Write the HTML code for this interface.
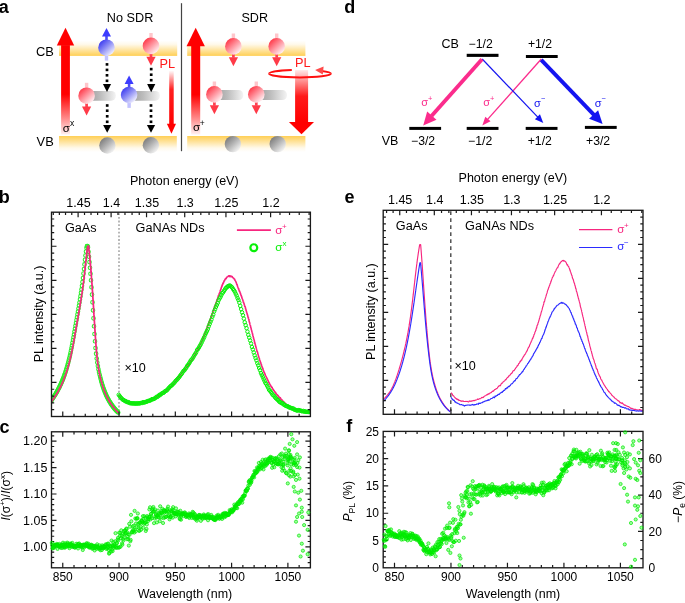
<!DOCTYPE html>
<html><head><meta charset="utf-8"><style>
html,body{margin:0;padding:0;background:#fff;}
body{width:685px;height:603px;overflow:hidden;font-family:"Liberation Sans",sans-serif;}
svg{display:block;will-change:transform;}
</style></head><body>
<svg width="685" height="603" viewBox="0 0 685 603" font-family="'Liberation Sans', sans-serif">
<defs>
<linearGradient id="gCB" x1="0" y1="0" x2="0" y2="1"><stop offset="0" stop-color="#ffcf55" stop-opacity="0"/><stop offset="0.25" stop-color="#ffcf55" stop-opacity="0.12"/><stop offset="1" stop-color="#ffcf55" stop-opacity="1"/></linearGradient>
<linearGradient id="gVB" x1="0" y1="0" x2="0" y2="1"><stop offset="0" stop-color="#ffcf55" stop-opacity="1"/><stop offset="0.75" stop-color="#ffcf55" stop-opacity="0.12"/><stop offset="1" stop-color="#ffcf55" stop-opacity="0"/></linearGradient>
<linearGradient id="gBlue" x1="0.1" y1="0.1" x2="0.85" y2="0.9"><stop offset="0" stop-color="#3434f0"/><stop offset="0.45" stop-color="#8888f4"/><stop offset="1" stop-color="#f6f6ff"/></linearGradient>
<linearGradient id="gRed" x1="0.1" y1="0.1" x2="0.85" y2="0.9"><stop offset="0" stop-color="#ff3040"/><stop offset="0.45" stop-color="#ff8a95"/><stop offset="1" stop-color="#fff6f8"/></linearGradient>
<linearGradient id="gGray" x1="0.1" y1="0.1" x2="0.85" y2="0.9"><stop offset="0" stop-color="#787878"/><stop offset="0.45" stop-color="#aeaeae"/><stop offset="1" stop-color="#f6f6f6"/></linearGradient>
<linearGradient id="gBar" x1="0" y1="0" x2="1" y2="0"><stop offset="0" stop-color="#9c9c9c"/><stop offset="0.45" stop-color="#bdbdbd"/><stop offset="1" stop-color="#f4f4f4"/></linearGradient>
<linearGradient id="gShaft" x1="0" y1="0" x2="0" y2="1"><stop offset="0" stop-color="#ff0000"/><stop offset="0.55" stop-color="#ff0000"/><stop offset="0.8" stop-color="#ff8080"/><stop offset="1" stop-color="#fff0f0"/></linearGradient>
<linearGradient id="gPL" x1="0" y1="0" x2="0" y2="1"><stop offset="0" stop-color="#ffffff"/><stop offset="0.35" stop-color="#ff2020"/><stop offset="1" stop-color="#ff0000"/></linearGradient>
<linearGradient id="gPL2" x1="0" y1="0" x2="0" y2="1"><stop offset="0" stop-color="#ffe8e8"/><stop offset="0.5" stop-color="#ff1a1a"/><stop offset="1" stop-color="#ff0000"/></linearGradient>

<clipPath id="clipB"><rect x="51.5" y="212.2" width="258.9" height="204.3"/></clipPath>
<clipPath id="clipE"><rect x="383.2" y="210.3" width="259.8" height="204.0"/></clipPath>
<clipPath id="clipC"><rect x="51.5" y="431.8" width="258.9" height="136.0"/></clipPath>
<clipPath id="clipF"><rect x="383.2" y="431.4" width="259.8" height="136.4"/></clipPath>
</defs>
<rect width="685" height="603" fill="#fff"/>
<text x="-1.20" y="12.90" font-size="18" text-anchor="start" font-weight="bold">a</text>
<text x="130.10" y="21.60" font-size="12" text-anchor="middle" textLength="46.43" lengthAdjust="spacingAndGlyphs">No SDR</text>
<text x="254.70" y="21.60" font-size="12" text-anchor="middle" textLength="26.60" lengthAdjust="spacingAndGlyphs">SDR</text>
<text x="44.90" y="55.80" font-size="12.5" text-anchor="middle" textLength="17.89" lengthAdjust="spacingAndGlyphs">CB</text>
<text x="45.20" y="145.80" font-size="12.5" text-anchor="middle" textLength="17.18" lengthAdjust="spacingAndGlyphs">VB</text>
<line x1="181.5" y1="3.2" x2="181.5" y2="151.2" stroke="#444" stroke-width="1.2"/>
<rect x="59" y="40.5" width="118.2" height="15.4" fill="url(#gCB)"/>
<rect x="187.2" y="40.5" width="118.2" height="15.4" fill="url(#gCB)"/>
<rect x="59" y="136" width="117.8" height="16" fill="url(#gVB)"/>
<rect x="187.2" y="136" width="118.2" height="16" fill="url(#gVB)"/>
<rect x="61.10" y="45.10" width="8.8" height="89.40" fill="url(#gShaft)"/><path d="M65.50,27.70 L74.20,45.60 L56.80,45.60Z" fill="#ff0000"/>
<rect x="191.20" y="45.80" width="9.0" height="88.70" fill="url(#gShaft)"/><path d="M195.70,27.80 L204.90,46.30 L186.50,46.30Z" fill="#ff0000"/>
<text x="66.20" y="131.70" font-size="11.5" text-anchor="middle">σ</text>
<text x="72.20" y="126.20" font-size="8.5" text-anchor="middle">x</text>
<text x="196.50" y="131.20" font-size="11.5" text-anchor="middle">σ</text>
<text x="202.20" y="126.00" font-size="8.5" text-anchor="middle">+</text>
<rect x="88.00" y="90.90" width="27.90" height="9.80" rx="4.6" ry="4.9" fill="url(#gBar)"/>
<rect x="130.00" y="90.90" width="29.90" height="9.80" rx="4.6" ry="4.9" fill="url(#gBar)"/>
<rect x="215.00" y="90.10" width="28.30" height="10.00" rx="4.6" ry="4.9" fill="url(#gBar)"/>
<rect x="257.00" y="90.10" width="30.00" height="10.00" rx="4.6" ry="4.9" fill="url(#gBar)"/>
<circle cx="107.40" cy="145.50" r="8.2" fill="url(#gGray)"/>
<circle cx="150.90" cy="145.30" r="8.2" fill="url(#gGray)"/>
<circle cx="232.90" cy="144.10" r="8.2" fill="url(#gGray)"/>
<circle cx="277.70" cy="144.10" r="8.2" fill="url(#gGray)"/>
<g fill="#000"><rect x="105.65" y="63.10" width="2.7" height="2.6"/><rect x="105.65" y="68.60" width="2.7" height="2.6"/><rect x="105.65" y="74.00" width="2.7" height="2.6"/><rect x="105.65" y="79.50" width="2.7" height="2.6"/><path d="M102.90,84.10 L111.10,84.10 L107.00,91.90Z"/></g>
<g fill="#000"><rect x="149.85" y="67.80" width="2.7" height="2.6"/><rect x="149.85" y="73.40" width="2.7" height="2.6"/><rect x="149.85" y="78.90" width="2.7" height="2.6"/><path d="M147.10,84.10 L155.30,84.10 L151.20,92.30Z"/></g>
<g fill="#000"><rect x="105.85" y="104.20" width="2.7" height="2.6"/><rect x="105.85" y="109.40" width="2.7" height="2.6"/><rect x="105.85" y="115.00" width="2.7" height="2.6"/><rect x="105.85" y="120.50" width="2.7" height="2.6"/><path d="M103.10,125.10 L111.30,125.10 L107.20,132.70Z"/></g>
<g fill="#000"><rect x="149.65" y="104.20" width="2.7" height="2.6"/><rect x="149.65" y="109.40" width="2.7" height="2.6"/><rect x="149.65" y="115.00" width="2.7" height="2.6"/><rect x="149.65" y="120.50" width="2.7" height="2.6"/><path d="M146.90,125.10 L155.10,125.10 L151.00,132.70Z"/></g>
<rect x="104.80" y="55.00" width="3.4" height="5.6" fill="#c2c2ff"/><rect x="105.20" y="35.90" width="2.6" height="4.5" fill="#4b4bf5"/><circle cx="106.50" cy="47.70" r="8.3" fill="url(#gBlue)"/><path d="M106.50,28.10 L111.00,36.60 L102.00,36.60Z" fill="#3c3cff"/>
<rect x="149.30" y="33.00" width="3.4" height="5.6" fill="#ffc6cb"/><rect x="149.65" y="53.20" width="2.7" height="4" fill="#ff4050"/><circle cx="151.00" cy="45.90" r="8.3" fill="url(#gRed)"/><path d="M146.40,56.80 L155.60,56.80 L151.00,65.80Z" fill="#ff3a48"/>
<rect x="84.90" y="82.80" width="3.4" height="5.6" fill="#ffc6cb"/><rect x="85.25" y="103.00" width="2.7" height="4" fill="#ff4050"/><circle cx="86.60" cy="95.70" r="8.3" fill="url(#gRed)"/><path d="M82.00,106.60 L91.20,106.60 L86.60,115.60Z" fill="#ff3a48"/>
<rect x="127.40" y="102.30" width="3.4" height="5.6" fill="#c2c2ff"/><rect x="127.80" y="83.20" width="2.6" height="4.5" fill="#4b4bf5"/><circle cx="129.10" cy="95.00" r="8.3" fill="url(#gBlue)"/><path d="M129.10,75.40 L133.60,83.90 L124.60,83.90Z" fill="#3c3cff"/>
<rect x="231.70" y="33.50" width="3.4" height="5.6" fill="#ffc6cb"/><rect x="232.05" y="53.70" width="2.7" height="4" fill="#ff4050"/><circle cx="233.40" cy="46.40" r="8.3" fill="url(#gRed)"/><path d="M228.80,57.30 L238.00,57.30 L233.40,66.30Z" fill="#ff3a48"/>
<rect x="275.00" y="33.50" width="3.4" height="5.6" fill="#ffc6cb"/><rect x="275.35" y="53.70" width="2.7" height="4" fill="#ff4050"/><circle cx="276.70" cy="46.40" r="8.3" fill="url(#gRed)"/><path d="M272.10,57.30 L281.30,57.30 L276.70,66.30Z" fill="#ff3a48"/>
<rect x="212.70" y="81.50" width="3.4" height="5.6" fill="#ffc6cb"/><rect x="213.05" y="101.70" width="2.7" height="4" fill="#ff4050"/><circle cx="214.40" cy="94.40" r="8.3" fill="url(#gRed)"/><path d="M209.80,105.30 L219.00,105.30 L214.40,114.30Z" fill="#ff3a48"/>
<rect x="254.60" y="81.50" width="3.4" height="5.6" fill="#ffc6cb"/><rect x="254.95" y="101.70" width="2.7" height="4" fill="#ff4050"/><circle cx="256.30" cy="94.40" r="8.3" fill="url(#gRed)"/><path d="M251.70,105.30 L260.90,105.30 L256.30,114.30Z" fill="#ff3a48"/>
<text x="167.40" y="67.90" font-size="12" text-anchor="middle" fill="#ff1a1a" textLength="15.56" lengthAdjust="spacingAndGlyphs">PL</text>
<rect x="169.2" y="70.4" width="4.5" height="54" fill="url(#gPL)"/>
<path d="M166.9,123.8 L176.0,123.8 L171.45,133.8Z" fill="#ff0000"/>
<text x="302.80" y="67.40" font-size="12" text-anchor="middle" fill="#ff1a1a" textLength="15.56" lengthAdjust="spacingAndGlyphs">PL</text>
<path d="M291.8,69.94 A30.9,3.8 0 0 0 269.1,73.6 M330.9,73.6 A30.9,3.8 0 0 0 321.5,70.9" fill="none" stroke="#ff1010" stroke-width="2.0"/>
<rect x="295.1" y="70.1" width="13" height="52" fill="url(#gPL2)"/>
<path d="M288.9,122.0 L314.0,122.0 L301.5,134.2Z" fill="#ff0000"/>
<path d="M269.1,73.6 A30.9,3.8 0 0 0 330.9,73.6" fill="none" stroke="#ff1010" stroke-width="2.0"/>
<path d="M315.1,70.0 L323.6,66.6 L322.8,74.4Z" fill="#ff4a4a"/>
<text x="344.30" y="12.90" font-size="18" text-anchor="start" font-weight="bold">d</text>
<text x="450.10" y="48.00" font-size="12" text-anchor="middle" textLength="17.34" lengthAdjust="spacingAndGlyphs">CB</text>
<text x="480.70" y="48.00" font-size="12" text-anchor="middle" textLength="24.16" lengthAdjust="spacingAndGlyphs">−1/2</text>
<text x="540.00" y="48.00" font-size="12" text-anchor="middle" textLength="24.16" lengthAdjust="spacingAndGlyphs">+1/2</text>
<text x="390.00" y="145.00" font-size="12" text-anchor="middle" textLength="16.65" lengthAdjust="spacingAndGlyphs">VB</text>
<text x="423.10" y="145.00" font-size="12" text-anchor="middle" textLength="24.16" lengthAdjust="spacingAndGlyphs">−3/2</text>
<text x="480.20" y="145.00" font-size="12" text-anchor="middle" textLength="24.16" lengthAdjust="spacingAndGlyphs">−1/2</text>
<text x="539.80" y="145.00" font-size="12" text-anchor="middle" textLength="24.16" lengthAdjust="spacingAndGlyphs">+1/2</text>
<text x="598.10" y="145.00" font-size="12" text-anchor="middle" textLength="24.16" lengthAdjust="spacingAndGlyphs">+3/2</text>
<g fill="#000">
<rect x="466.7" y="53.8" width="31.8" height="3.1"/>
<rect x="525.9" y="55.0" width="31.8" height="3.0"/>
<rect x="409.3" y="126.9" width="31.8" height="3.0"/>
<rect x="466.7" y="126.9" width="31.8" height="3.0"/>
<rect x="525.7" y="126.9" width="31.8" height="3.0"/>
<rect x="584.9" y="125.9" width="31.8" height="3.0"/>
</g>
<line x1="541.30" y1="59.00" x2="487.61" y2="119.42" stroke="#fb2c8c" stroke-width="1.3"/><path d="M482.30,125.40 L485.33,116.72 L490.56,121.37Z" fill="#fb2c8c"/>
<line x1="482.20" y1="59.00" x2="537.77" y2="117.12" stroke="#1414f0" stroke-width="1.2"/><path d="M543.30,122.90 L534.90,119.18 L539.96,114.34Z" fill="#1414f0"/>
<line x1="482.00" y1="59.30" x2="431.51" y2="116.06" stroke="#fb2c8c" stroke-width="3.9"/><path d="M423.20,125.40 L427.17,111.53 L436.51,119.84Z" fill="#fb2c8c"/>
<line x1="541.20" y1="59.80" x2="593.95" y2="114.87" stroke="#1414f0" stroke-width="3.9"/><path d="M602.60,123.90 L589.09,118.84 L598.12,110.19Z" fill="#1414f0"/>
<text x="424.70" y="106.20" font-size="11" text-anchor="middle" fill="#fb2c8c">σ</text>
<text x="430.30" y="101.40" font-size="7.5" text-anchor="middle" fill="#fb2c8c">+</text>
<text x="486.60" y="106.20" font-size="11" text-anchor="middle" fill="#fb2c8c">σ</text>
<text x="492.20" y="101.40" font-size="7.5" text-anchor="middle" fill="#fb2c8c">+</text>
<text x="537.50" y="106.60" font-size="11" text-anchor="middle" fill="#1414f0">σ</text>
<text x="543.10" y="101.00" font-size="7.5" text-anchor="middle" fill="#1414f0">−</text>
<text x="598.10" y="106.60" font-size="11" text-anchor="middle" fill="#1414f0">σ</text>
<text x="603.70" y="101.00" font-size="7.5" text-anchor="middle" fill="#1414f0">−</text>
<line x1="119.0" y1="213.2" x2="119.0" y2="415.5" stroke="#999" stroke-width="1.4" stroke-dasharray="1.8,1.9"/>
<g clip-path="url(#clipB)">
<path d="M118.92,394.95 L119.11,395.33 L119.32,395.70 L119.53,396.06 L119.76,396.42 L119.99,396.76 L120.23,397.10 L120.48,397.42 L120.73,397.74 L121.00,398.05 L121.27,398.34 L121.55,398.63 L121.83,398.92 L122.13,399.19 L122.43,399.45 L122.73,399.71 L123.04,399.95 L123.36,400.19 L123.68,400.42 L124.01,400.64 L124.35,400.86 L124.69,401.06 L125.03,401.26 L125.38,401.45 L125.74,401.63 L126.10,401.80 L126.46,401.97 L126.82,402.12 L127.19,402.27 L127.57,402.41 L127.95,402.55 L128.33,402.67 L128.71,402.79 L129.09,402.90 L129.48,403.01 L129.87,403.10 L130.26,403.19 L130.66,403.27 L131.05,403.35 L131.45,403.42 L131.85,403.48 L132.25,403.53 L132.65,403.58 L133.05,403.61 L133.45,403.65 L133.85,403.67 L134.25,403.69 L134.65,403.70 L135.05,403.71 L135.45,403.71 L135.85,403.70 L136.25,403.69 L136.65,403.67 L137.05,403.64 L137.44,403.61 L137.84,403.58 L138.23,403.53 L138.62,403.48 L139.02,403.43 L139.41,403.37 L139.80,403.31 L140.19,403.24 L140.58,403.16 L140.97,403.08 L141.36,403.00 L141.75,402.91 L142.14,402.82 L142.52,402.72 L142.91,402.62 L143.29,402.51 L143.68,402.40 L144.06,402.29 L144.44,402.17 L144.83,402.05 L145.21,401.93 L145.59,401.80 L145.97,401.67 L146.35,401.53 L146.73,401.39 L147.10,401.25 L147.48,401.11 L147.86,400.97 L148.23,400.82 L148.61,400.67 L148.98,400.51 L149.36,400.36 L149.73,400.20 L150.10,400.04 L150.47,399.88 L150.84,399.72 L151.21,399.56 L151.58,399.39 L151.95,399.22 L152.32,399.06 L152.69,398.88 L153.05,398.71 L153.42,398.54 L153.78,398.36 L154.15,398.19 L154.51,398.01 L154.87,397.83 L155.23,397.65 L155.59,397.46 L155.95,397.28 L156.31,397.09 L156.66,396.90 L157.02,396.71 L157.37,396.52 L157.72,396.32 L158.08,396.13 L158.43,395.93 L158.78,395.73 L159.12,395.53 L159.47,395.33 L159.82,395.12 L160.16,394.91 L160.50,394.70 L160.84,394.49 L161.18,394.28 L161.52,394.07 L161.86,393.85 L162.19,393.63 L162.53,393.41 L162.86,393.19 L163.19,392.96 L163.52,392.74 L163.84,392.51 L164.17,392.28 L164.49,392.04 L164.82,391.81 L165.14,391.57 L165.45,391.33 L165.77,391.09 L166.09,390.85 L166.40,390.60 L166.71,390.35 L167.02,390.10 L167.33,389.85 L167.63,389.60 L167.94,389.34 L168.24,389.08 L168.54,388.82 L168.83,388.56 L169.13,388.29 L169.42,388.03 L169.71,387.76 L170.00,387.48 L170.29,387.21 L170.57,386.93 L170.85,386.65 L171.13,386.37 L171.41,386.09 L171.68,385.80 L171.96,385.51 L172.23,385.22 L172.50,384.93 L172.76,384.63 L173.03,384.34 L173.29,384.04 L173.55,383.74 L173.81,383.43 L174.06,383.13 L174.32,382.82 L174.57,382.51 L174.83,382.20 L175.08,381.89 L175.33,381.58 L175.58,381.27 L175.83,380.95 L176.07,380.64 L176.32,380.32 L176.56,380.01 L176.81,379.69 L177.05,379.37 L177.30,379.05 L177.54,378.73 L177.78,378.41 L178.03,378.09 L178.27,377.77 L178.51,377.44 L178.75,377.12 L178.99,376.80 L179.24,376.48 L179.48,376.16 L179.72,375.84 L179.97,375.52 L180.21,375.19 L180.46,374.87 L180.70,374.55 L180.95,374.24 L181.19,373.92 L181.44,373.60 L181.69,373.28 L181.94,372.96 L182.19,372.65 L182.44,372.33 L182.69,372.02 L182.95,371.71 L183.20,371.39 L183.45,371.08 L183.71,370.77 L183.96,370.45 L184.22,370.14 L184.47,369.83 L184.72,369.52 L184.98,369.21 L185.23,368.89 L185.48,368.58 L185.73,368.27 L185.99,367.95 L186.24,367.64 L186.49,367.32 L186.73,367.01 L186.98,366.69 L187.23,366.37 L187.47,366.06 L187.71,365.74 L187.95,365.42 L188.19,365.10 L188.43,364.77 L188.67,364.45 L188.90,364.13 L189.14,363.80 L189.37,363.48 L189.60,363.15 L189.83,362.82 L190.06,362.50 L190.29,362.17 L190.51,361.84 L190.74,361.51 L190.96,361.18 L191.18,360.84 L191.40,360.51 L191.62,360.18 L191.84,359.84 L192.05,359.51 L192.27,359.17 L192.48,358.83 L192.69,358.49 L192.91,358.16 L193.12,357.82 L193.33,357.48 L193.53,357.14 L193.74,356.79 L193.94,356.45 L194.15,356.11 L194.35,355.76 L194.55,355.42 L194.75,355.08 L194.95,354.73 L195.15,354.38 L195.35,354.04 L195.54,353.69 L195.74,353.34 L195.93,352.99 L196.13,352.64 L196.32,352.29 L196.51,351.94 L196.70,351.59 L196.89,351.23 L197.07,350.88 L197.26,350.53 L197.44,350.17 L197.63,349.82 L197.81,349.46 L197.99,349.11 L198.18,348.75 L198.36,348.39 L198.54,348.04 L198.71,347.68 L198.89,347.32 L199.07,346.96 L199.24,346.60 L199.42,346.24 L199.59,345.88 L199.77,345.52 L199.94,345.16 L200.11,344.79 L200.28,344.43 L200.45,344.07 L200.62,343.70 L200.78,343.34 L200.95,342.98 L201.12,342.61 L201.28,342.24 L201.45,341.88 L201.61,341.51 L201.77,341.15 L201.94,340.78 L202.10,340.41 L202.26,340.04 L202.42,339.68 L202.58,339.31 L202.73,338.94 L202.89,338.57 L203.05,338.20 L203.21,337.83 L203.36,337.46 L203.52,337.09 L203.67,336.72 L203.82,336.35 L203.98,335.97 L204.13,335.60 L204.28,335.23 L204.43,334.86 L204.58,334.49 L204.73,334.11 L204.88,333.74 L205.03,333.37 L205.18,333.08 L205.33,332.54 L205.47,331.99 L205.62,331.74 L205.77,331.22 L205.91,331.14 L206.06,331.12 L206.20,330.23 L206.35,329.82 L206.49,329.76 L206.63,329.34 L206.78,328.90 L206.92,328.23 L207.06,328.11 L207.20,327.93 L207.34,326.99 L207.48,326.86 L207.62,326.08 L207.76,325.87 L207.90,325.34 L208.04,325.41 L208.18,324.75 L208.32,324.80 L208.45,324.39 L208.59,323.92 L208.73,322.89 L208.87,323.07 L209.00,322.83 L209.14,322.49 L209.28,321.66 L209.41,321.57 L209.55,321.06 L209.68,320.73 L209.82,320.87 L209.95,319.97 L210.09,319.81 L210.22,319.69 L210.36,318.90 L210.49,318.66 L210.62,318.34 L210.76,317.95 L210.89,317.22 L211.02,317.20 L211.16,317.18 L211.29,315.99 L211.42,316.29 L211.56,315.71 L211.69,315.12 L211.82,315.48 L211.95,314.76 L212.09,313.83 L212.22,313.81 L212.35,313.58 L212.48,312.99 L212.61,312.86 L212.75,312.27 L212.88,312.10 L213.01,311.94 L213.14,310.97 L213.27,310.84 L213.41,310.28 L213.54,310.07 L213.67,309.33 L213.80,309.12 L213.93,308.85 L214.06,308.79 L214.20,308.48 L214.33,307.41 L214.46,307.19 L214.59,307.21 L214.72,306.10 L214.85,306.15 L214.99,305.88 L215.12,305.88 L215.25,305.35 L215.38,304.69 L215.51,304.30 L215.64,303.96 L215.78,304.08 L215.91,303.15 L216.04,302.81 L216.17,302.62 L216.30,302.11 L216.44,301.71 L216.57,301.08 L216.70,301.01 L216.83,300.51 L216.96,300.59 L217.10,300.07 L217.23,299.50 L217.36,299.32 L217.50,298.66 L217.63,298.67 L217.76,297.99 L217.89,297.78 L218.03,296.88 L218.16,296.96 L218.29,296.01 L218.43,295.53 L218.56,295.64 L218.70,295.09 L218.83,295.01 L218.96,295.21 L219.10,293.97 L219.23,293.65 L219.37,293.50 L219.50,293.20 L219.64,292.63 L219.77,292.24 L219.91,292.12 L220.04,291.68 L220.18,290.87 L220.32,290.75 L220.45,290.40 L220.59,289.71 L220.73,289.70 L220.86,289.00 L221.00,289.13 L221.14,288.52 L221.27,288.11 L221.41,287.54 L221.55,287.28 L221.69,286.37 L221.83,286.23 L221.97,286.26 L222.11,285.18 L222.26,285.63 L222.41,284.52 L222.55,284.84 L222.71,284.02 L222.86,284.10 L223.02,283.54 L223.18,282.70 L223.35,283.11 L223.52,282.80 L223.70,282.01 L223.88,281.60 L224.07,281.27 L224.26,280.69 L224.46,280.93 L224.66,280.12 L224.87,279.92 L225.09,279.38 L225.31,279.10 L225.55,278.60 L225.79,278.99 L226.03,278.28 L226.29,278.29 L226.56,277.73 L226.83,277.24 L227.11,277.07 L227.41,276.74 L227.71,276.67 L228.02,276.37 L228.35,276.23 L228.68,275.80 L229.03,275.89 L229.38,276.55 L229.74,275.91 L230.10,275.85 L230.47,276.33 L230.84,276.75 L231.20,276.09 L231.56,276.62 L231.91,276.70 L232.25,276.61 L232.59,277.55 L232.90,277.59 L233.21,277.89 L233.49,277.94 L233.77,278.57 L234.03,278.60 L234.27,279.02 L234.51,279.07 L234.73,279.37 L234.94,280.42 L235.14,280.25 L235.33,280.82 L235.52,281.09 L235.70,281.34 L235.87,281.68 L236.03,282.37 L236.19,282.48 L236.34,282.90 L236.50,283.33 L236.64,284.03 L236.79,284.28 L236.94,284.57 L237.08,284.69 L237.23,284.84 L237.37,285.88 L237.52,286.26 L237.66,286.33 L237.81,286.90 L237.95,287.35 L238.10,287.74 L238.24,288.14 L238.39,288.14 L238.53,289.07 L238.68,288.67 L238.82,289.64 L238.96,289.92 L239.10,290.40 L239.25,291.06 L239.39,291.32 L239.53,290.96 L239.67,291.19 L239.81,292.27 L239.96,292.13 L240.10,292.79 L240.24,293.40 L240.38,293.08 L240.52,293.33 L240.66,294.37 L240.80,294.68 L240.93,294.98 L241.07,295.43 L241.21,295.56 L241.35,295.75 L241.48,296.50 L241.62,296.65 L241.76,296.84 L241.89,297.82 L242.03,298.03 L242.16,298.54 L242.30,298.53 L242.43,298.99 L242.56,299.27 L242.70,299.68 L242.83,300.36 L242.96,300.46 L243.09,301.16 L243.22,301.53 L243.35,302.38 L243.48,301.80 L243.61,302.81 L243.74,302.92 L243.86,303.32 L243.99,303.29 L244.12,303.95 L244.24,304.66 L244.37,304.81 L244.49,305.23 L244.62,305.51 L244.74,306.29 L244.86,306.34 L244.99,306.11 L245.11,306.91 L245.23,306.94 L245.35,306.96 L245.47,308.10 L245.59,309.00 L245.70,309.02 L245.82,309.06 L245.94,309.51 L246.05,310.47 L246.17,310.58 L246.29,310.93 L246.40,311.29 L246.52,311.70 L246.63,312.29 L246.74,312.61 L246.85,312.89 L246.97,312.93 L247.08,313.74 L247.19,313.79 L247.30,314.68 L247.41,314.40 L247.52,315.10 L247.63,315.52 L247.74,315.54 L247.85,316.78 L247.96,317.09 L248.06,316.93 L248.17,317.67 L248.28,317.94 L248.39,317.49 L248.49,318.68 L248.60,318.98 L248.70,319.40 L248.81,319.47 L248.91,320.08 L249.02,320.49 L249.12,321.26 L249.23,321.41 L249.33,321.70 L249.43,322.52 L249.54,322.32 L249.64,322.76 L249.74,322.74 L249.85,324.08 L249.95,324.30 L250.05,324.67 L250.15,324.99 L250.25,325.22 L250.35,325.64 L250.46,325.90 L250.56,326.30 L250.66,326.76 L250.76,327.56 L250.86,327.68 L250.96,327.90 L251.06,328.14 L251.16,328.51 L251.26,329.53 L251.36,329.61 L251.46,329.88 L251.56,330.15 L251.66,330.33 L251.76,331.01 L251.86,331.66 L251.96,331.69 L252.06,332.13 L252.16,332.52 L252.26,333.00 L252.36,332.92 L252.46,333.68 L252.56,333.90 L252.66,334.78 L252.76,334.70 L252.86,335.47 L252.96,336.12 L253.06,336.00 L253.16,336.31 L253.26,336.92 L253.36,337.25 L253.46,337.36 L253.56,338.16 L253.66,338.99 L253.76,338.74 L253.86,339.14 L253.96,339.30 L254.06,340.07 L254.16,340.02 L254.26,340.44 L254.36,341.50 L254.47,341.28 L254.57,342.22 L254.67,342.74 L254.77,342.77 L254.88,343.24 L254.98,344.02 L255.08,343.81 L255.18,344.08 L255.29,344.26 L255.39,345.04 L255.50,345.83 L255.60,346.07 L255.71,345.93 L255.81,346.34 L255.92,346.82 L256.02,347.43 L256.13,347.68 L256.24,348.19 L256.34,348.60 L256.45,348.82 L256.56,349.27 L256.67,349.73 L256.77,350.03 L256.88,350.58 L256.99,351.35 L257.10,351.38 L257.21,351.62 L257.32,351.51 L257.43,352.48 L257.55,352.21 L257.66,352.75 L257.77,353.77 L257.88,354.11 L258.00,354.25 L258.11,354.20 L258.23,354.96 L258.34,355.26 L258.46,356.01 L258.57,356.85 L258.69,356.66 L258.81,356.76 L258.92,357.03 L259.04,357.73 L259.16,358.08 L259.28,358.19 L259.40,358.92 L259.52,358.95 L259.65,359.96 L259.77,360.33 L259.89,360.72 L260.01,360.66 L260.14,361.32 L260.26,361.52 L260.39,361.83 L260.52,362.22 L260.64,362.33 L260.77,362.67 L260.90,363.67 L261.03,363.77 L261.16,364.27 L261.29,364.86 L261.42,364.48 L261.55,365.12 L261.69,365.76 L261.82,366.20 L261.96,366.36 L262.09,367.13 L262.23,367.28 L262.37,367.25 L262.50,367.71 L262.64,368.57 L262.78,368.85 L262.92,368.56 L263.07,369.84 L263.21,370.00 L263.35,370.58 L263.50,370.47 L263.64,370.87 L263.79,371.01 L263.94,372.40 L264.09,372.02 L264.24,372.88 L264.39,372.62 L264.54,373.22 L264.69,373.07 L264.85,373.80 L265.00,374.55 L265.16,374.29 L265.32,375.31 L265.48,375.47 L265.64,375.44 L265.80,375.96 L265.96,376.34 L266.13,376.81 L266.29,377.04 L266.46,377.32 L266.63,377.83 L266.80,377.99 L266.97,378.27 L267.14,378.98 L267.32,379.60 L267.49,379.28 L267.67,380.07 L267.85,380.24 L268.03,380.50 L268.21,381.37 L268.39,381.34 L268.58,382.26 L268.76,381.97 L268.95,382.65 L269.14,382.83 L269.33,383.03 L269.52,383.76 L269.72,383.90 L269.91,384.46 L270.11,384.62 L270.31,384.67 L270.51,385.29 L270.71,385.68 L270.92,386.28 L271.12,386.10 L271.33,386.68 L271.54,386.55 L271.75,387.55 L271.97,387.41 L272.18,387.54 L272.40,388.36 L272.62,389.03 L272.84,388.62 L273.06,389.08 L273.29,389.51 L273.52,389.73 L273.75,390.48 L273.98,390.48 L274.21,390.83 L274.45,391.52 L274.68,391.47 L274.92,392.13 L275.16,392.06 L275.41,392.31 L275.65,392.46 L275.90,393.81 L276.15,393.52 L276.40,394.00 L276.65,394.24 L276.91,394.60 L277.17,394.89 L277.42,395.72 L277.68,395.21 L277.95,395.37 L278.21,395.83 L278.47,396.05 L278.74,396.94 L279.01,397.26 L279.28,397.07 L279.55,397.25 L279.82,397.84 L280.09,398.63 L280.37,397.75 L280.64,398.98 L280.92,398.82 L281.20,399.71 L281.48,399.41 L281.76,399.92 L282.04,399.87 L282.32,400.31 L282.61,401.25 L282.89,401.38 L283.18,401.32 L283.46,401.47 L283.75,401.47 L284.04,402.17 L284.33,402.54 L284.62,402.81 L284.91,403.08 L285.20,403.06 L285.49,403.63 L285.78,403.91 L286.07,404.55 L286.37,404.97 L286.66,404.68 L286.95,404.76 L287.25,405.22 L287.55,405.32 L287.84,405.54 L288.15,405.98 L288.45,405.95 L288.76,406.65 L289.07,406.68 L289.38,407.01 L289.70,407.11 L290.02,407.38 L290.35,407.59 L290.68,407.79 L291.01,407.99 L291.36,408.17 L291.70,408.35 L292.06,408.52 L292.42,408.67 L292.78,408.82 L293.16,408.96 L293.54,409.09 L293.93,409.21 L294.32,409.32 L294.72,409.42 L295.12,409.52 L295.52,409.61 L295.93,409.70 L296.34,409.78 L296.75,409.87 L297.15,409.95 L297.56,410.02 L297.97,410.10 L298.38,410.18 L298.78,410.26 L299.18,410.34 L299.58,410.43 L299.97,410.51 L300.37,410.59 L300.76,410.68 L301.15,410.76 L301.54,410.85 L301.93,410.93 L302.32,411.02 L302.71,411.10 L303.09,411.18 L303.48,411.26 L303.87,411.34 L304.25,411.41 L304.64,411.49 L305.03,411.56 L305.42,411.63 L305.80,411.70 L306.19,411.76 L306.58,411.82 L306.98,411.88 L307.37,411.93 L307.77,411.98 L308.16,412.02 L308.56,412.06 L308.97,412.09 L309.37,412.12 L309.78,412.14 L310.19,412.16 L310.60,412.17 L311.02,412.18" fill="none" stroke="#f7267f" stroke-width="1.6" stroke-linejoin="round"/>
<g fill="none" stroke="#08f008" stroke-width="1.0"><circle cx="118.74" cy="394.81" r="1.75"/><circle cx="119.64" cy="396.05" r="1.75"/><circle cx="120.54" cy="397.34" r="1.75"/><circle cx="121.44" cy="398.22" r="1.75"/><circle cx="122.34" cy="399.25" r="1.75"/><circle cx="123.24" cy="399.92" r="1.75"/><circle cx="124.14" cy="400.22" r="1.75"/><circle cx="125.04" cy="401.13" r="1.75"/><circle cx="125.94" cy="401.26" r="1.75"/><circle cx="126.84" cy="401.86" r="1.75"/><circle cx="127.74" cy="402.30" r="1.75"/><circle cx="128.64" cy="402.16" r="1.75"/><circle cx="129.54" cy="402.96" r="1.75"/><circle cx="130.44" cy="403.18" r="1.75"/><circle cx="131.34" cy="403.28" r="1.75"/><circle cx="132.24" cy="403.34" r="1.75"/><circle cx="133.14" cy="403.45" r="1.75"/><circle cx="134.04" cy="403.36" r="1.75"/><circle cx="134.94" cy="403.56" r="1.75"/><circle cx="135.84" cy="403.48" r="1.75"/><circle cx="136.74" cy="403.61" r="1.75"/><circle cx="137.64" cy="403.23" r="1.75"/><circle cx="138.54" cy="403.50" r="1.75"/><circle cx="139.44" cy="403.37" r="1.75"/><circle cx="140.34" cy="403.16" r="1.75"/><circle cx="141.24" cy="402.92" r="1.75"/><circle cx="142.14" cy="402.99" r="1.75"/><circle cx="143.04" cy="402.23" r="1.75"/><circle cx="143.94" cy="402.53" r="1.75"/><circle cx="144.84" cy="402.23" r="1.75"/><circle cx="145.74" cy="401.97" r="1.75"/><circle cx="146.64" cy="401.71" r="1.75"/><circle cx="147.54" cy="401.15" r="1.75"/><circle cx="148.44" cy="400.92" r="1.75"/><circle cx="149.34" cy="400.80" r="1.75"/><circle cx="150.24" cy="400.38" r="1.75"/><circle cx="151.14" cy="399.94" r="1.75"/><circle cx="152.04" cy="399.11" r="1.75"/><circle cx="152.94" cy="399.20" r="1.75"/><circle cx="153.84" cy="398.92" r="1.75"/><circle cx="154.74" cy="398.42" r="1.75"/><circle cx="155.64" cy="397.74" r="1.75"/><circle cx="156.54" cy="396.79" r="1.75"/><circle cx="157.44" cy="396.90" r="1.75"/><circle cx="158.34" cy="396.08" r="1.75"/><circle cx="159.24" cy="394.92" r="1.75"/><circle cx="160.14" cy="395.06" r="1.75"/><circle cx="161.04" cy="393.98" r="1.75"/><circle cx="161.94" cy="393.40" r="1.75"/><circle cx="162.84" cy="392.91" r="1.75"/><circle cx="163.74" cy="392.70" r="1.75"/><circle cx="164.64" cy="391.59" r="1.75"/><circle cx="165.54" cy="391.02" r="1.75"/><circle cx="166.44" cy="390.64" r="1.75"/><circle cx="167.34" cy="389.83" r="1.75"/><circle cx="168.24" cy="388.60" r="1.75"/><circle cx="169.14" cy="387.74" r="1.75"/><circle cx="170.04" cy="386.64" r="1.75"/><circle cx="170.94" cy="385.90" r="1.75"/><circle cx="171.84" cy="385.28" r="1.75"/><circle cx="172.74" cy="384.35" r="1.75"/><circle cx="173.64" cy="383.33" r="1.75"/><circle cx="174.54" cy="382.57" r="1.75"/><circle cx="175.44" cy="381.13" r="1.75"/><circle cx="176.34" cy="380.29" r="1.75"/><circle cx="177.24" cy="379.44" r="1.75"/><circle cx="178.14" cy="378.33" r="1.75"/><circle cx="179.04" cy="377.36" r="1.75"/><circle cx="179.94" cy="376.08" r="1.75"/><circle cx="180.84" cy="374.77" r="1.75"/><circle cx="181.74" cy="373.79" r="1.75"/><circle cx="182.64" cy="372.27" r="1.75"/><circle cx="183.54" cy="370.92" r="1.75"/><circle cx="184.44" cy="370.27" r="1.75"/><circle cx="185.34" cy="368.88" r="1.75"/><circle cx="186.24" cy="367.73" r="1.75"/><circle cx="187.14" cy="365.95" r="1.75"/><circle cx="188.04" cy="365.00" r="1.75"/><circle cx="188.94" cy="363.62" r="1.75"/><circle cx="189.84" cy="362.22" r="1.75"/><circle cx="190.74" cy="360.51" r="1.75"/><circle cx="191.64" cy="359.60" r="1.75"/><circle cx="192.54" cy="358.50" r="1.75"/><circle cx="193.44" cy="356.93" r="1.75"/><circle cx="194.34" cy="355.21" r="1.75"/><circle cx="195.24" cy="353.86" r="1.75"/><circle cx="196.14" cy="352.53" r="1.75"/><circle cx="197.04" cy="350.08" r="1.75"/><circle cx="197.94" cy="349.15" r="1.75"/><circle cx="198.84" cy="347.68" r="1.75"/><circle cx="199.74" cy="346.04" r="1.75"/><circle cx="200.64" cy="344.59" r="1.75"/><circle cx="201.54" cy="342.69" r="1.75"/><circle cx="202.44" cy="340.69" r="1.75"/><circle cx="203.34" cy="338.83" r="1.75"/><circle cx="204.24" cy="337.05" r="1.75"/><circle cx="205.14" cy="334.76" r="1.75"/><circle cx="206.04" cy="332.87" r="1.75"/><circle cx="206.94" cy="331.02" r="1.75"/><circle cx="207.84" cy="329.13" r="1.75"/><circle cx="208.74" cy="326.36" r="1.75"/><circle cx="209.64" cy="324.06" r="1.75"/><circle cx="210.54" cy="321.72" r="1.75"/><circle cx="211.44" cy="319.53" r="1.75"/><circle cx="212.34" cy="316.69" r="1.75"/><circle cx="213.24" cy="314.57" r="1.75"/><circle cx="214.14" cy="311.50" r="1.75"/><circle cx="215.04" cy="309.29" r="1.75"/><circle cx="215.94" cy="306.96" r="1.75"/><circle cx="216.84" cy="304.98" r="1.75"/><circle cx="217.74" cy="302.93" r="1.75"/><circle cx="218.64" cy="300.28" r="1.75"/><circle cx="219.54" cy="298.53" r="1.75"/><circle cx="220.44" cy="297.05" r="1.75"/><circle cx="221.34" cy="295.10" r="1.75"/><circle cx="222.24" cy="293.28" r="1.75"/><circle cx="223.14" cy="292.40" r="1.75"/><circle cx="224.04" cy="290.83" r="1.75"/><circle cx="224.94" cy="289.49" r="1.75"/><circle cx="225.84" cy="288.05" r="1.75"/><circle cx="226.74" cy="287.42" r="1.75"/><circle cx="227.64" cy="286.33" r="1.75"/><circle cx="228.54" cy="286.17" r="1.75"/><circle cx="229.44" cy="285.53" r="1.75"/><circle cx="230.34" cy="285.80" r="1.75"/><circle cx="231.24" cy="286.67" r="1.75"/><circle cx="232.14" cy="287.38" r="1.75"/><circle cx="233.04" cy="288.94" r="1.75"/><circle cx="233.94" cy="290.30" r="1.75"/><circle cx="234.84" cy="291.67" r="1.75"/><circle cx="235.74" cy="293.74" r="1.75"/><circle cx="236.64" cy="295.61" r="1.75"/><circle cx="237.54" cy="298.07" r="1.75"/><circle cx="238.44" cy="300.04" r="1.75"/><circle cx="239.34" cy="302.66" r="1.75"/><circle cx="240.24" cy="305.88" r="1.75"/><circle cx="241.14" cy="309.18" r="1.75"/><circle cx="242.04" cy="312.35" r="1.75"/><circle cx="242.94" cy="315.21" r="1.75"/><circle cx="243.84" cy="318.61" r="1.75"/><circle cx="244.74" cy="322.27" r="1.75"/><circle cx="245.64" cy="325.14" r="1.75"/><circle cx="246.54" cy="328.18" r="1.75"/><circle cx="247.44" cy="331.65" r="1.75"/><circle cx="248.34" cy="334.88" r="1.75"/><circle cx="249.24" cy="337.66" r="1.75"/><circle cx="250.14" cy="340.49" r="1.75"/><circle cx="251.04" cy="343.53" r="1.75"/><circle cx="251.94" cy="346.97" r="1.75"/><circle cx="252.84" cy="349.48" r="1.75"/><circle cx="253.74" cy="352.44" r="1.75"/><circle cx="254.64" cy="355.27" r="1.75"/><circle cx="255.54" cy="358.06" r="1.75"/><circle cx="256.44" cy="360.45" r="1.75"/><circle cx="257.34" cy="363.24" r="1.75"/><circle cx="258.24" cy="365.42" r="1.75"/><circle cx="259.14" cy="368.01" r="1.75"/><circle cx="260.04" cy="370.23" r="1.75"/><circle cx="260.94" cy="373.06" r="1.75"/><circle cx="261.84" cy="374.97" r="1.75"/><circle cx="262.74" cy="376.89" r="1.75"/><circle cx="263.64" cy="378.99" r="1.75"/><circle cx="264.54" cy="380.93" r="1.75"/><circle cx="265.44" cy="382.97" r="1.75"/><circle cx="266.34" cy="384.12" r="1.75"/><circle cx="267.24" cy="385.88" r="1.75"/><circle cx="268.14" cy="387.59" r="1.75"/><circle cx="269.04" cy="389.78" r="1.75"/><circle cx="269.94" cy="390.77" r="1.75"/><circle cx="270.84" cy="391.81" r="1.75"/><circle cx="271.74" cy="393.26" r="1.75"/><circle cx="272.64" cy="394.77" r="1.75"/><circle cx="273.54" cy="395.31" r="1.75"/><circle cx="274.44" cy="396.33" r="1.75"/><circle cx="275.34" cy="397.72" r="1.75"/><circle cx="276.24" cy="398.48" r="1.75"/><circle cx="277.14" cy="399.41" r="1.75"/><circle cx="278.04" cy="399.96" r="1.75"/><circle cx="278.94" cy="401.36" r="1.75"/><circle cx="279.84" cy="402.06" r="1.75"/><circle cx="280.74" cy="402.49" r="1.75"/><circle cx="281.64" cy="403.19" r="1.75"/><circle cx="282.54" cy="403.14" r="1.75"/><circle cx="283.44" cy="404.40" r="1.75"/><circle cx="284.34" cy="404.76" r="1.75"/><circle cx="285.24" cy="405.45" r="1.75"/><circle cx="286.14" cy="406.01" r="1.75"/><circle cx="287.04" cy="406.23" r="1.75"/><circle cx="287.94" cy="406.34" r="1.75"/><circle cx="288.84" cy="407.28" r="1.75"/><circle cx="289.74" cy="407.41" r="1.75"/><circle cx="290.64" cy="407.89" r="1.75"/><circle cx="291.54" cy="408.18" r="1.75"/><circle cx="292.44" cy="408.59" r="1.75"/><circle cx="293.34" cy="408.42" r="1.75"/><circle cx="294.24" cy="409.60" r="1.75"/><circle cx="295.14" cy="409.65" r="1.75"/><circle cx="296.04" cy="410.13" r="1.75"/><circle cx="296.94" cy="410.60" r="1.75"/><circle cx="297.84" cy="410.34" r="1.75"/><circle cx="298.74" cy="410.11" r="1.75"/><circle cx="299.64" cy="410.54" r="1.75"/><circle cx="300.54" cy="410.65" r="1.75"/><circle cx="301.44" cy="411.00" r="1.75"/><circle cx="302.34" cy="411.31" r="1.75"/><circle cx="303.24" cy="410.93" r="1.75"/><circle cx="304.14" cy="411.65" r="1.75"/><circle cx="305.04" cy="411.30" r="1.75"/><circle cx="305.94" cy="411.86" r="1.75"/><circle cx="306.84" cy="411.84" r="1.75"/><circle cx="307.74" cy="411.86" r="1.75"/><circle cx="308.64" cy="411.98" r="1.75"/><circle cx="309.54" cy="411.91" r="1.75"/><circle cx="310.44" cy="411.92" r="1.75"/></g>
<g fill="none" stroke="#2aee2a" stroke-width="1.05"><circle cx="50.49" cy="401.54" r="1.8"/><circle cx="50.99" cy="400.88" r="1.8"/><circle cx="51.49" cy="400.20" r="1.8"/><circle cx="51.99" cy="399.51" r="1.8"/><circle cx="52.49" cy="398.80" r="1.8"/><circle cx="52.99" cy="398.08" r="1.8"/><circle cx="53.49" cy="397.34" r="1.8"/><circle cx="53.99" cy="396.58" r="1.8"/><circle cx="54.49" cy="395.81" r="1.8"/><circle cx="54.99" cy="395.02" r="1.8"/><circle cx="55.49" cy="394.20" r="1.8"/><circle cx="55.99" cy="393.37" r="1.8"/><circle cx="56.49" cy="392.52" r="1.8"/><circle cx="56.99" cy="391.64" r="1.8"/><circle cx="57.49" cy="390.74" r="1.8"/><circle cx="57.99" cy="389.82" r="1.8"/><circle cx="58.49" cy="388.87" r="1.8"/><circle cx="58.99" cy="387.89" r="1.8"/><circle cx="59.49" cy="386.89" r="1.8"/><circle cx="59.99" cy="385.86" r="1.8"/><circle cx="60.49" cy="384.79" r="1.8"/><circle cx="60.99" cy="383.69" r="1.8"/><circle cx="61.49" cy="382.56" r="1.8"/><circle cx="61.99" cy="381.39" r="1.8"/><circle cx="62.49" cy="380.18" r="1.8"/><circle cx="62.99" cy="378.93" r="1.8"/><circle cx="63.49" cy="377.64" r="1.8"/><circle cx="63.99" cy="376.30" r="1.8"/><circle cx="64.49" cy="374.91" r="1.8"/><circle cx="64.99" cy="373.46" r="1.8"/><circle cx="65.49" cy="371.96" r="1.8"/><circle cx="65.99" cy="370.41" r="1.8"/><circle cx="66.49" cy="368.78" r="1.8"/><circle cx="66.99" cy="367.09" r="1.8"/><circle cx="67.49" cy="365.33" r="1.8"/><circle cx="67.99" cy="363.49" r="1.8"/><circle cx="68.49" cy="361.57" r="1.8"/><circle cx="68.99" cy="359.56" r="1.8"/><circle cx="69.49" cy="357.47" r="1.8"/><circle cx="69.99" cy="355.28" r="1.8"/><circle cx="70.49" cy="352.99" r="1.8"/><circle cx="70.99" cy="350.60" r="1.8"/><circle cx="71.49" cy="348.12" r="1.8"/><circle cx="71.99" cy="345.54" r="1.8"/><circle cx="72.49" cy="342.87" r="1.8"/><circle cx="72.99" cy="340.12" r="1.8"/><circle cx="73.49" cy="337.31" r="1.8"/><circle cx="73.99" cy="334.46" r="1.8"/><circle cx="74.49" cy="331.58" r="1.8"/><circle cx="74.99" cy="328.71" r="1.8"/><circle cx="75.49" cy="325.84" r="1.8"/><circle cx="75.99" cy="322.98" r="1.8"/><circle cx="76.49" cy="320.12" r="1.8"/><circle cx="76.99" cy="317.25" r="1.8"/><circle cx="77.49" cy="314.36" r="1.8"/><circle cx="77.99" cy="311.45" r="1.8"/><circle cx="78.49" cy="308.50" r="1.8"/><circle cx="78.99" cy="305.51" r="1.8"/><circle cx="79.49" cy="302.47" r="1.8"/><circle cx="79.99" cy="299.35" r="1.8"/><circle cx="80.49" cy="296.15" r="1.8"/><circle cx="80.99" cy="292.85" r="1.8"/><circle cx="81.49" cy="289.42" r="1.8"/><circle cx="81.99" cy="285.83" r="1.8"/><circle cx="82.49" cy="282.03" r="1.8"/><circle cx="82.99" cy="277.97" r="1.8"/><circle cx="83.49" cy="273.61" r="1.8"/><circle cx="83.99" cy="269.04" r="1.8"/><circle cx="84.49" cy="264.41" r="1.8"/><circle cx="84.99" cy="259.86" r="1.8"/><circle cx="85.49" cy="255.54" r="1.8"/><circle cx="85.99" cy="251.51" r="1.8"/><circle cx="86.49" cy="247.80" r="1.8"/><circle cx="86.99" cy="246.08" r="1.8"/><circle cx="87.50" cy="246.00" r="1.8"/><circle cx="88.00" cy="247.13" r="1.8"/><circle cx="88.50" cy="251.80" r="1.8"/><circle cx="89.00" cy="256.76" r="1.8"/><circle cx="89.50" cy="262.05" r="1.8"/><circle cx="90.00" cy="267.72" r="1.8"/><circle cx="90.50" cy="273.78" r="1.8"/><circle cx="91.00" cy="280.28" r="1.8"/><circle cx="91.50" cy="287.23" r="1.8"/><circle cx="92.00" cy="294.60" r="1.8"/><circle cx="92.50" cy="302.34" r="1.8"/><circle cx="93.00" cy="310.31" r="1.8"/><circle cx="93.50" cy="318.36" r="1.8"/><circle cx="94.00" cy="326.29" r="1.8"/><circle cx="94.50" cy="333.97" r="1.8"/><circle cx="95.00" cy="341.28" r="1.8"/><circle cx="95.50" cy="347.96" r="1.8"/><circle cx="96.09" cy="353.68" r="1.8"/><circle cx="96.70" cy="358.49" r="1.8"/><circle cx="97.29" cy="362.58" r="1.8"/><circle cx="97.88" cy="366.12" r="1.8"/><circle cx="98.45" cy="369.24" r="1.8"/><circle cx="99.01" cy="372.02" r="1.8"/><circle cx="99.57" cy="374.53" r="1.8"/><circle cx="100.13" cy="376.83" r="1.8"/><circle cx="100.68" cy="378.94" r="1.8"/><circle cx="101.20" cy="380.90" r="1.8"/><circle cx="101.70" cy="382.72" r="1.8"/><circle cx="102.20" cy="384.43" r="1.8"/><circle cx="102.70" cy="386.04" r="1.8"/><circle cx="103.20" cy="387.55" r="1.8"/><circle cx="103.70" cy="388.99" r="1.8"/><circle cx="104.20" cy="390.35" r="1.8"/><circle cx="104.70" cy="391.64" r="1.8"/><circle cx="105.20" cy="392.87" r="1.8"/><circle cx="105.70" cy="394.04" r="1.8"/><circle cx="106.20" cy="395.16" r="1.8"/><circle cx="106.70" cy="396.23" r="1.8"/><circle cx="107.20" cy="397.25" r="1.8"/><circle cx="107.70" cy="398.23" r="1.8"/><circle cx="108.20" cy="399.18" r="1.8"/><circle cx="108.70" cy="400.08" r="1.8"/><circle cx="109.20" cy="400.95" r="1.8"/><circle cx="109.70" cy="401.79" r="1.8"/><circle cx="110.20" cy="402.60" r="1.8"/><circle cx="110.70" cy="403.38" r="1.8"/><circle cx="111.20" cy="404.13" r="1.8"/><circle cx="111.70" cy="404.86" r="1.8"/><circle cx="112.20" cy="405.57" r="1.8"/><circle cx="112.70" cy="406.25" r="1.8"/><circle cx="113.20" cy="406.91" r="1.8"/><circle cx="113.70" cy="407.55" r="1.8"/><circle cx="114.20" cy="408.16" r="1.8"/><circle cx="114.70" cy="408.77" r="1.8"/><circle cx="115.20" cy="409.35" r="1.8"/><circle cx="115.70" cy="409.92" r="1.8"/><circle cx="116.20" cy="410.46" r="1.8"/><circle cx="116.70" cy="411.00" r="1.8"/><circle cx="117.20" cy="411.52" r="1.8"/><circle cx="117.70" cy="412.02" r="1.8"/><circle cx="118.20" cy="412.52" r="1.8"/></g>
<path d="M51.49,401.54 L51.68,401.30 L51.86,401.05 L52.04,400.81 L52.23,400.57 L52.41,400.32 L52.59,400.07 L52.76,399.83 L52.94,399.58 L53.12,399.33 L53.29,399.09 L53.47,398.84 L53.64,398.59 L53.81,398.34 L53.99,398.09 L54.16,397.84 L54.33,397.59 L54.49,397.34 L54.66,397.09 L54.83,396.84 L54.99,396.58 L55.16,396.33 L55.32,396.08 L55.48,395.82 L55.65,395.57 L55.81,395.32 L55.97,395.06 L56.12,394.81 L56.28,394.55 L56.44,394.29 L56.59,394.04 L56.75,393.78 L56.90,393.52 L57.06,393.27 L57.21,393.01 L57.36,392.75 L57.51,392.49 L57.66,392.23 L57.81,391.97 L57.95,391.71 L58.10,391.45 L58.25,391.19 L58.39,390.93 L58.53,390.67 L58.68,390.40 L58.82,390.14 L58.96,389.88 L59.10,389.61 L59.24,389.35 L59.38,389.09 L59.52,388.82 L59.65,388.56 L59.79,388.29 L59.93,388.03 L60.06,387.76 L60.19,387.49 L60.33,387.23 L60.46,386.96 L60.59,386.69 L60.72,386.43 L60.85,386.16 L60.98,385.89 L61.10,385.62 L61.23,385.35 L61.36,385.08 L61.48,384.81 L61.61,384.54 L61.73,384.27 L61.85,384.00 L61.98,383.73 L62.10,383.46 L62.22,383.19 L62.34,382.91 L62.46,382.64 L62.58,382.37 L62.69,382.10 L62.81,381.82 L62.93,381.55 L63.04,381.27 L63.16,381.00 L63.27,380.72 L63.38,380.45 L63.50,380.17 L63.61,379.90 L63.72,379.62 L63.83,379.35 L63.94,379.07 L64.05,378.79 L64.16,378.52 L64.26,378.24 L64.37,377.96 L64.48,377.68 L64.58,377.40 L64.69,377.12 L64.79,376.85 L64.89,376.57 L65.00,376.29 L65.10,376.01 L65.20,375.73 L65.30,375.45 L65.40,375.17 L65.50,374.89 L65.60,374.60 L65.70,374.32 L65.79,374.04 L65.89,373.76 L65.99,373.48 L66.08,373.19 L66.18,372.91 L66.27,372.63 L66.37,372.35 L66.46,372.06 L66.55,371.78 L66.65,371.49 L66.74,371.21 L66.83,370.93 L66.92,370.64 L67.01,370.36 L67.10,370.07 L67.19,369.79 L67.27,369.50 L67.36,369.21 L67.45,368.93 L67.54,368.64 L67.62,368.35 L67.71,368.07 L67.79,367.78 L67.88,367.49 L67.96,367.21 L68.04,366.92 L68.13,366.63 L68.21,366.34 L68.29,366.05 L68.37,365.77 L68.45,365.48 L68.53,365.19 L68.61,364.90 L68.69,364.61 L68.77,364.32 L68.85,364.03 L68.93,363.74 L69.00,363.45 L69.08,363.16 L69.16,362.87 L69.23,362.58 L69.31,362.29 L69.38,362.00 L69.46,361.71 L69.53,361.42 L69.61,361.13 L69.68,360.83 L69.75,360.54 L69.82,360.25 L69.90,359.96 L69.97,359.67 L70.04,359.37 L70.11,359.08 L70.18,358.79 L70.25,358.50 L70.32,358.20 L70.39,357.91 L70.46,357.62 L70.53,357.32 L70.59,357.03 L70.66,356.73 L70.73,356.44 L70.80,356.15 L70.86,355.85 L70.93,355.56 L71.00,355.26 L71.06,354.97 L71.13,354.68 L71.19,354.38 L71.26,354.09 L71.32,353.79 L71.38,353.50 L71.45,353.20 L71.51,352.90 L71.57,352.61 L71.64,352.31 L71.70,352.02 L71.76,351.72 L71.82,351.43 L71.88,351.13 L71.94,350.83 L72.01,350.54 L72.07,350.24 L72.13,349.95 L72.19,349.65 L72.25,349.35 L72.31,349.06 L72.36,348.76 L72.42,348.46 L72.48,348.17 L72.54,347.87 L72.60,347.57 L72.66,347.28 L72.72,346.98 L72.77,346.68 L72.83,346.38 L72.89,346.09 L72.94,345.79 L73.00,345.49 L73.06,345.19 L73.11,344.90 L73.17,344.60 L73.23,344.30 L73.28,344.00 L73.34,343.71 L73.39,343.41 L73.45,343.11 L73.50,342.81 L73.56,342.51 L73.61,342.22 L73.67,341.92 L73.72,341.62 L73.78,341.32 L73.83,341.02 L73.88,340.73 L73.94,340.43 L73.99,340.13 L74.04,339.83 L74.10,339.53 L74.15,339.24 L74.20,338.94 L74.26,338.64 L74.31,338.34 L74.36,338.04 L74.42,337.74 L74.47,337.45 L74.52,337.15 L74.57,336.85 L74.63,336.55 L74.68,336.25 L74.73,335.95 L74.78,335.66 L74.84,335.36 L74.89,335.06 L74.94,334.76 L74.99,334.46 L75.04,334.17 L75.10,333.87 L75.15,333.57 L75.20,333.27 L75.25,332.97 L75.30,332.68 L75.35,332.38 L75.41,332.08 L75.46,331.78 L75.51,331.48 L75.56,331.19 L75.61,330.89 L75.67,330.59 L75.72,330.29 L75.77,330.00 L75.82,329.70 L75.87,329.40 L75.92,329.10 L75.98,328.81 L76.03,328.51 L76.08,328.21 L76.13,327.91 L76.18,327.62 L76.24,327.32 L76.29,327.02 L76.34,326.72 L76.39,326.43 L76.44,326.13 L76.49,325.83 L76.55,325.54 L76.60,325.24 L76.65,324.94 L76.70,324.65 L76.75,324.35 L76.81,324.05 L76.86,323.76 L76.91,323.46 L76.96,323.16 L77.01,322.87 L77.07,322.57 L77.12,322.27 L77.17,321.98 L77.22,321.68 L77.27,321.38 L77.32,321.09 L77.38,320.79 L77.43,320.50 L77.48,320.20 L77.53,319.90 L77.58,319.61 L77.63,319.31 L77.69,319.01 L77.74,318.72 L77.79,318.42 L77.84,318.13 L77.89,317.83 L77.94,317.53 L78.00,317.24 L78.05,316.94 L78.10,316.65 L78.15,316.35 L78.20,316.05 L78.25,315.76 L78.30,315.46 L78.35,315.17 L78.41,314.87 L78.46,314.58 L78.51,314.28 L78.56,313.98 L78.61,313.69 L78.66,313.39 L78.71,313.10 L78.76,312.80 L78.81,312.51 L78.86,312.21 L78.91,311.91 L78.96,311.62 L79.01,311.32 L79.06,311.03 L79.12,310.73 L79.17,310.44 L79.22,310.14 L79.27,309.85 L79.32,309.55 L79.37,309.26 L79.42,308.96 L79.47,308.66 L79.52,308.37 L79.57,308.07 L79.61,307.78 L79.66,307.48 L79.71,307.19 L79.76,306.89 L79.81,306.60 L79.86,306.30 L79.91,306.01 L79.96,305.71 L80.01,305.41 L80.06,305.12 L80.11,304.82 L80.16,304.53 L80.20,304.23 L80.25,303.94 L80.30,303.64 L80.35,303.35 L80.40,303.05 L80.45,302.76 L80.49,302.46 L80.54,302.16 L80.59,301.87 L80.64,301.57 L80.69,301.28 L80.73,300.98 L80.78,300.69 L80.83,300.39 L80.87,300.10 L80.92,299.80 L80.97,299.50 L81.02,299.21 L81.06,298.91 L81.11,298.62 L81.16,298.32 L81.20,298.03 L81.25,297.73 L81.29,297.44 L81.34,297.14 L81.39,296.84 L81.43,296.55 L81.48,296.25 L81.52,295.96 L81.57,295.66 L81.61,295.37 L81.66,295.07 L81.70,294.77 L81.75,294.48 L81.79,294.18 L81.84,293.89 L81.88,293.59 L81.93,293.29 L81.97,293.00 L82.02,292.70 L82.06,292.41 L82.10,292.11 L82.15,291.81 L82.19,291.52 L82.23,291.22 L82.28,290.93 L82.32,290.63 L82.36,290.33 L82.40,290.04 L82.45,289.74 L82.49,289.44 L82.53,289.15 L82.57,288.85 L82.62,288.55 L82.66,288.26 L82.70,287.96 L82.74,287.66 L82.78,287.37 L82.82,287.07 L82.86,286.78 L82.90,286.48 L82.94,286.18 L82.99,285.88 L83.03,285.59 L83.07,285.29 L83.11,284.99 L83.15,284.70 L83.18,284.40 L83.22,284.10 L83.26,283.81 L83.30,283.51 L83.34,283.21 L83.38,282.91 L83.42,282.62 L83.46,282.32 L83.49,282.02 L83.53,281.72 L83.57,281.43 L83.61,281.13 L83.64,280.83 L83.68,280.53 L83.72,280.24 L83.75,279.94 L83.79,279.64 L83.83,279.34 L83.86,279.05 L83.90,278.75 L83.94,278.45 L83.97,278.15 L84.01,277.85 L84.04,277.55 L84.08,277.26 L84.11,276.96 L84.15,276.66 L84.18,276.36 L84.21,276.06 L84.25,275.76 L84.28,275.47 L84.32,275.17 L84.35,274.87 L84.38,274.57 L84.42,274.27 L84.45,273.97 L84.49,273.67 L84.52,273.38 L84.55,273.08 L84.59,272.78 L84.62,272.48 L84.65,272.18 L84.68,271.88 L84.72,271.58 L84.75,271.28 L84.78,270.98 L84.81,270.69 L84.85,270.39 L84.88,270.09 L84.91,269.79 L84.94,269.49 L84.98,269.19 L85.01,268.89 L85.04,268.59 L85.07,268.29 L85.11,267.99 L85.14,267.69 L85.17,267.40 L85.20,267.10 L85.23,266.80 L85.27,266.50 L85.30,266.20 L85.33,265.90 L85.36,265.60 L85.40,265.30 L85.43,265.00 L85.46,264.70 L85.49,264.40 L85.53,264.10 L85.56,263.80 L85.59,263.51 L85.62,263.21 L85.66,262.91 L85.69,262.61 L85.72,262.31 L85.75,262.01 L85.79,261.71 L85.82,261.41 L85.85,261.11 L85.89,260.81 L85.92,260.51 L85.95,260.21 L85.99,259.92 L86.02,259.62 L86.05,259.32 L86.09,259.02 L86.12,258.72 L86.16,258.42 L86.19,258.12 L86.22,257.82 L86.26,257.52 L86.29,257.22 L86.33,256.93 L86.36,256.63 L86.40,256.33 L86.43,256.03 L86.47,255.73 L86.51,255.43 L86.54,255.13 L86.58,254.83 L86.61,254.54 L86.65,254.24 L86.69,253.94 L86.72,253.64 L86.76,253.34 L86.80,253.04 L86.84,252.74 L86.87,252.45 L86.91,252.15 L86.95,251.85 L86.99,251.55 L87.03,251.25 L87.06,250.95 L87.10,250.66 L87.14,250.36 L87.18,250.06 L87.22,249.76 L87.26,249.47 L87.30,249.17 L87.34,248.87 L87.39,248.57 L87.43,248.27 L87.47,247.98 L87.51,247.68 L87.55,247.38 L87.60,247.08 L87.64,246.79 L87.68,246.49 L87.72,246.19 L88.20,246.00 L88.59,246.17 L88.63,246.47 L88.66,246.77 L88.69,247.08 L88.73,247.38 L88.76,247.68 L88.79,247.98 L88.83,248.28 L88.86,248.58 L88.89,248.88 L88.92,249.19 L88.96,249.49 L88.99,249.79 L89.02,250.09 L89.05,250.39 L89.08,250.69 L89.12,250.99 L89.15,251.30 L89.18,251.60 L89.21,251.90 L89.24,252.20 L89.27,252.50 L89.30,252.80 L89.33,253.10 L89.37,253.40 L89.40,253.70 L89.43,254.00 L89.46,254.30 L89.49,254.60 L89.52,254.91 L89.55,255.21 L89.58,255.51 L89.61,255.81 L89.64,256.11 L89.67,256.41 L89.69,256.71 L89.72,257.01 L89.75,257.31 L89.78,257.61 L89.81,257.91 L89.84,258.21 L89.87,258.51 L89.90,258.81 L89.93,259.11 L89.95,259.41 L89.98,259.71 L90.01,260.01 L90.04,260.31 L90.07,260.61 L90.09,260.91 L90.12,261.21 L90.15,261.51 L90.18,261.81 L90.21,262.11 L90.23,262.41 L90.26,262.71 L90.29,263.01 L90.31,263.31 L90.34,263.61 L90.37,263.91 L90.39,264.21 L90.42,264.51 L90.45,264.81 L90.47,265.11 L90.50,265.41 L90.53,265.71 L90.55,266.01 L90.58,266.31 L90.60,266.61 L90.63,266.91 L90.66,267.20 L90.68,267.50 L90.71,267.80 L90.73,268.10 L90.76,268.40 L90.78,268.70 L90.81,269.00 L90.83,269.30 L90.86,269.60 L90.88,269.90 L90.91,270.20 L90.93,270.50 L90.96,270.80 L90.98,271.09 L91.01,271.39 L91.03,271.69 L91.06,271.99 L91.08,272.29 L91.10,272.59 L91.13,272.89 L91.15,273.19 L91.18,273.49 L91.20,273.79 L91.22,274.08 L91.25,274.38 L91.27,274.68 L91.29,274.98 L91.32,275.28 L91.34,275.58 L91.36,275.88 L91.39,276.18 L91.41,276.48 L91.43,276.77 L91.46,277.07 L91.48,277.37 L91.50,277.67 L91.53,277.97 L91.55,278.27 L91.57,278.57 L91.59,278.87 L91.62,279.16 L91.64,279.46 L91.66,279.76 L91.68,280.06 L91.71,280.36 L91.73,280.66 L91.75,280.96 L91.77,281.25 L91.79,281.55 L91.82,281.85 L91.84,282.15 L91.86,282.45 L91.88,282.75 L91.90,283.05 L91.92,283.34 L91.95,283.64 L91.97,283.94 L91.99,284.24 L92.01,284.54 L92.03,284.84 L92.05,285.14 L92.07,285.43 L92.09,285.73 L92.12,286.03 L92.14,286.33 L92.16,286.63 L92.18,286.93 L92.20,287.22 L92.22,287.52 L92.24,287.82 L92.26,288.12 L92.28,288.42 L92.30,288.72 L92.32,289.02 L92.34,289.31 L92.36,289.61 L92.38,289.91 L92.41,290.21 L92.43,290.51 L92.45,290.81 L92.47,291.10 L92.49,291.40 L92.51,291.70 L92.53,292.00 L92.55,292.30 L92.57,292.60 L92.59,292.89 L92.61,293.19 L92.63,293.49 L92.65,293.79 L92.67,294.09 L92.69,294.39 L92.71,294.69 L92.73,294.98 L92.74,295.28 L92.76,295.58 L92.78,295.88 L92.80,296.18 L92.82,296.48 L92.84,296.77 L92.86,297.07 L92.88,297.37 L92.90,297.67 L92.92,297.97 L92.94,298.27 L92.96,298.57 L92.98,298.86 L93.00,299.16 L93.02,299.46 L93.04,299.76 L93.05,300.06 L93.07,300.36 L93.09,300.66 L93.11,300.95 L93.13,301.25 L93.15,301.55 L93.17,301.85 L93.19,302.15 L93.21,302.45 L93.23,302.75 L93.24,303.04 L93.26,303.34 L93.28,303.64 L93.30,303.94 L93.32,304.24 L93.34,304.54 L93.36,304.84 L93.38,305.14 L93.40,305.43 L93.41,305.73 L93.43,306.03 L93.45,306.33 L93.47,306.63 L93.49,306.93 L93.51,307.23 L93.53,307.53 L93.55,307.82 L93.56,308.12 L93.58,308.42 L93.60,308.72 L93.62,309.02 L93.64,309.32 L93.66,309.62 L93.68,309.92 L93.69,310.22 L93.71,310.52 L93.73,310.81 L93.75,311.11 L93.77,311.41 L93.79,311.71 L93.81,312.01 L93.82,312.31 L93.84,312.61 L93.86,312.91 L93.88,313.21 L93.90,313.51 L93.92,313.81 L93.94,314.11 L93.95,314.40 L93.97,314.70 L93.99,315.00 L94.01,315.30 L94.03,315.60 L94.05,315.90 L94.07,316.20 L94.08,316.50 L94.10,316.80 L94.12,317.10 L94.14,317.40 L94.16,317.70 L94.18,318.00 L94.20,318.30 L94.22,318.60 L94.23,318.90 L94.25,319.20 L94.27,319.50 L94.29,319.80 L94.31,320.10 L94.33,320.40 L94.35,320.70 L94.36,321.00 L94.38,321.30 L94.40,321.60 L94.42,321.90 L94.44,322.20 L94.46,322.50 L94.48,322.80 L94.50,323.10 L94.52,323.40 L94.53,323.70 L94.55,324.00 L94.57,324.30 L94.59,324.60 L94.61,324.90 L94.63,325.20 L94.65,325.50 L94.67,325.80 L94.69,326.10 L94.71,326.40 L94.73,326.70 L94.75,327.00 L94.76,327.30 L94.78,327.60 L94.80,327.90 L94.82,328.20 L94.84,328.50 L94.86,328.80 L94.88,329.11 L94.90,329.41 L94.92,329.71 L94.94,330.01 L94.96,330.31 L94.98,330.61 L95.00,330.91 L95.02,331.21 L95.04,331.51 L95.06,331.81 L95.08,332.12 L95.10,332.42 L95.12,332.72 L95.14,333.02 L95.16,333.32 L95.18,333.62 L95.20,333.92 L95.22,334.23 L95.24,334.53 L95.26,334.83 L95.28,335.13 L95.30,335.43 L95.32,335.73 L95.34,336.04 L95.36,336.34 L95.38,336.64 L95.40,336.94 L95.42,337.24 L95.44,337.54 L95.46,337.85 L95.48,338.15 L95.50,338.45 L95.52,338.75 L95.54,339.06 L95.57,339.36 L95.59,339.66 L95.61,339.96 L95.63,340.26 L95.65,340.57 L95.67,340.87 L95.69,341.17 L95.71,341.47 L95.74,341.78 L95.76,342.08 L95.78,342.38 L95.80,342.69 L95.82,342.99 L95.84,343.29 L95.87,343.59 L95.89,343.90 L95.91,344.20 L95.93,344.50 L95.96,344.81 L95.98,345.11 L96.00,345.41 L96.02,345.71 L96.05,346.02 L96.07,346.32 L96.09,346.62 L96.12,346.93 L96.14,347.23 L96.17,347.53 L96.19,347.83 L96.21,348.14 L96.24,348.44 L96.26,348.74 L96.29,349.05 L96.31,349.35 L96.34,349.65 L96.36,349.95 L96.39,350.26 L96.42,350.56 L96.44,350.86 L96.47,351.16 L96.50,351.47 L96.52,351.77 L96.55,352.07 L96.58,352.37 L96.61,352.68 L96.63,352.98 L96.66,353.28 L96.69,353.58 L96.72,353.89 L96.75,354.19 L96.78,354.49 L96.81,354.79 L96.84,355.10 L96.87,355.40 L96.90,355.70 L96.93,356.00 L96.96,356.30 L96.99,356.60 L97.03,356.91 L97.06,357.21 L97.09,357.51 L97.12,357.81 L97.16,358.11 L97.19,358.41 L97.23,358.71 L97.26,359.01 L97.29,359.32 L97.33,359.62 L97.37,359.92 L97.40,360.22 L97.44,360.52 L97.47,360.82 L97.51,361.12 L97.55,361.42 L97.59,361.72 L97.63,362.02 L97.67,362.32 L97.70,362.62 L97.74,362.92 L97.78,363.22 L97.83,363.52 L97.87,363.82 L97.91,364.12 L97.95,364.42 L97.99,364.71 L98.04,365.01 L98.08,365.31 L98.12,365.61 L98.17,365.91 L98.21,366.21 L98.26,366.50 L98.30,366.80 L98.35,367.10 L98.40,367.40 L98.44,367.69 L98.49,367.99 L98.54,368.29 L98.59,368.59 L98.64,368.88 L98.69,369.18 L98.74,369.48 L98.79,369.77 L98.84,370.07 L98.90,370.36 L98.95,370.66 L99.00,370.96 L99.06,371.25 L99.11,371.55 L99.17,371.84 L99.22,372.14 L99.28,372.43 L99.34,372.73 L99.39,373.02 L99.45,373.31 L99.51,373.61 L99.57,373.90 L99.63,374.19 L99.69,374.49 L99.75,374.78 L99.81,375.07 L99.88,375.37 L99.94,375.66 L100.00,375.95 L100.07,376.24 L100.13,376.53 L100.20,376.83 L100.27,377.12 L100.33,377.41 L100.40,377.70 L100.47,377.99 L100.54,378.28 L100.61,378.57 L100.68,378.86 L100.75,379.15 L100.82,379.44 L100.90,379.73 L100.97,380.02 L101.05,380.31 L101.12,380.59 L101.20,380.88 L101.27,381.17 L101.35,381.46 L101.43,381.75 L101.51,382.03 L101.59,382.32 L101.67,382.61 L101.75,382.89 L101.83,383.18 L101.91,383.46 L102.00,383.75 L102.08,384.04 L102.17,384.32 L102.25,384.60 L102.34,384.89 L102.43,385.17 L102.52,385.46 L102.61,385.74 L102.70,386.02 L102.79,386.31 L102.88,386.59 L102.97,386.87 L103.07,387.15 L103.16,387.43 L103.26,387.72 L103.35,388.00 L103.45,388.28 L103.55,388.56 L103.65,388.84 L103.75,389.12 L103.85,389.40 L103.95,389.67 L104.05,389.95 L104.16,390.23 L104.26,390.51 L104.37,390.78 L104.47,391.06 L104.58,391.34 L104.69,391.61 L104.80,391.89 L104.91,392.16 L105.02,392.44 L105.13,392.71 L105.25,392.98 L105.36,393.26 L105.48,393.53 L105.60,393.80 L105.71,394.07 L105.83,394.34 L105.95,394.62 L106.08,394.89 L106.20,395.15 L106.32,395.42 L106.45,395.69 L106.57,395.96 L106.70,396.23 L106.83,396.49 L106.96,396.76 L107.09,397.03 L107.22,397.29 L107.35,397.56 L107.49,397.82 L107.62,398.08 L107.76,398.35 L107.90,398.61 L108.04,398.87 L108.18,399.13 L108.32,399.39 L108.46,399.65 L108.60,399.91 L108.75,400.17 L108.90,400.43 L109.04,400.68 L109.19,400.94 L109.34,401.19 L109.49,401.45 L109.65,401.70 L109.80,401.96 L109.96,402.21 L110.11,402.46 L110.27,402.72 L110.43,402.97 L110.59,403.22 L110.76,403.47 L110.92,403.72 L111.09,403.96 L111.25,404.21 L111.42,404.46 L111.59,404.70 L111.76,404.95 L111.93,405.19 L112.11,405.44 L112.28,405.68 L112.46,405.92 L112.64,406.16 L112.82,406.40 L113.00,406.64 L113.18,406.88 L113.36,407.12 L113.55,407.36 L113.74,407.59 L113.93,407.83 L114.12,408.06 L114.31,408.30 L114.50,408.53 L114.70,408.76 L114.89,408.99 L115.09,409.22 L115.29,409.45 L115.49,409.68 L115.69,409.91 L115.90,410.13 L116.10,410.36 L116.31,410.58 L116.52,410.81 L116.73,411.03 L116.94,411.25 L117.16,411.47 L117.37,411.69 L117.59,411.91 L117.81,412.13 L118.03,412.35 L118.25,412.57 L118.48,412.78" fill="none" stroke="#f7267f" stroke-width="1.75" stroke-linejoin="round"/>
</g>
<path d="M62.76,416.50v-5.00M119.04,416.50v-5.00M175.32,416.50v-5.00M231.60,416.50v-5.00M287.89,416.50v-5.00M74.01,416.50v-2.70M85.27,416.50v-2.70M96.53,416.50v-2.70M107.78,416.50v-2.70M130.30,416.50v-2.70M141.55,416.50v-2.70M152.81,416.50v-2.70M164.07,416.50v-2.70M186.58,416.50v-2.70M197.83,416.50v-2.70M209.09,416.50v-2.70M220.35,416.50v-2.70M242.86,416.50v-2.70M254.12,416.50v-2.70M265.37,416.50v-2.70M276.63,416.50v-2.70M299.14,416.50v-2.70M78.10,212.20v5.00M111.10,212.20v5.00M146.54,212.20v5.00M184.72,212.20v5.00M225.94,212.20v5.00M270.60,212.20v5.00M309.10,212.20v2.70M299.23,212.20v2.70M289.52,212.20v2.70M279.98,212.20v2.70M261.37,212.20v2.70M252.30,212.20v2.70M243.37,212.20v2.70M234.58,212.20v2.70M217.43,212.20v2.70M209.06,212.20v2.70M200.82,212.20v2.70M192.70,212.20v2.70M176.85,212.20v2.70M169.10,212.20v2.70M161.47,212.20v2.70M153.95,212.20v2.70M139.25,212.20v2.70M132.06,212.20v2.70M124.97,212.20v2.70M117.98,212.20v2.70M104.31,212.20v2.70M97.62,212.20v2.70M91.02,212.20v2.70M84.52,212.20v2.70M71.77,212.20v2.70M65.53,212.20v2.70M59.37,212.20v2.70M53.29,212.20v2.70M51.50,382.45h5.00M51.50,348.40h5.00M51.50,314.35h5.00M51.50,280.30h5.00M51.50,246.25h5.00M310.40,382.45h-5.00M310.40,348.40h-5.00M310.40,314.35h-5.00M310.40,280.30h-5.00M310.40,246.25h-5.00M51.50,409.69h2.70M51.50,402.88h2.70M51.50,396.07h2.70M51.50,389.26h2.70M51.50,375.64h2.70M51.50,368.83h2.70M51.50,362.02h2.70M51.50,355.21h2.70M51.50,341.59h2.70M51.50,334.78h2.70M51.50,327.97h2.70M51.50,321.16h2.70M51.50,307.54h2.70M51.50,300.73h2.70M51.50,293.92h2.70M51.50,287.11h2.70M51.50,273.49h2.70M51.50,266.68h2.70M51.50,259.87h2.70M51.50,253.06h2.70M51.50,239.44h2.70M51.50,232.63h2.70M51.50,225.82h2.70M51.50,219.01h2.70M310.40,409.69h-2.70M310.40,402.88h-2.70M310.40,396.07h-2.70M310.40,389.26h-2.70M310.40,375.64h-2.70M310.40,368.83h-2.70M310.40,362.02h-2.70M310.40,355.21h-2.70M310.40,341.59h-2.70M310.40,334.78h-2.70M310.40,327.97h-2.70M310.40,321.16h-2.70M310.40,307.54h-2.70M310.40,300.73h-2.70M310.40,293.92h-2.70M310.40,287.11h-2.70M310.40,273.49h-2.70M310.40,266.68h-2.70M310.40,259.87h-2.70M310.40,253.06h-2.70M310.40,239.44h-2.70M310.40,232.63h-2.70M310.40,225.82h-2.70M310.40,219.01h-2.70" stroke="#1a1a1a" stroke-width="1.2" fill="none"/>
<rect x="51.50" y="212.20" width="258.90" height="204.30" fill="none" stroke="#1a1a1a" stroke-width="1.35"/>
<text x="-1.20" y="202.70" font-size="18" text-anchor="start" font-weight="bold">b</text>
<text x="184.30" y="184.70" font-size="12" text-anchor="middle" textLength="108.74" lengthAdjust="spacingAndGlyphs">Photon energy (eV)</text>
<text x="78.50" y="206.60" font-size="12" text-anchor="middle" textLength="24.29" lengthAdjust="spacingAndGlyphs">1.45</text>
<text x="111.50" y="206.60" font-size="12" text-anchor="middle" textLength="17.35" lengthAdjust="spacingAndGlyphs">1.4</text>
<text x="146.94" y="206.60" font-size="12" text-anchor="middle" textLength="24.29" lengthAdjust="spacingAndGlyphs">1.35</text>
<text x="185.12" y="206.60" font-size="12" text-anchor="middle" textLength="17.35" lengthAdjust="spacingAndGlyphs">1.3</text>
<text x="226.34" y="206.60" font-size="12" text-anchor="middle" textLength="24.29" lengthAdjust="spacingAndGlyphs">1.25</text>
<text x="271.00" y="206.60" font-size="12" text-anchor="middle" textLength="17.35" lengthAdjust="spacingAndGlyphs">1.2</text>
<text x="80.80" y="232.10" font-size="12" text-anchor="middle" textLength="31.66" lengthAdjust="spacingAndGlyphs">GaAs</text>
<text x="170.10" y="232.10" font-size="12" text-anchor="middle" textLength="68.94" lengthAdjust="spacingAndGlyphs">GaNAs NDs</text>
<text x="135.10" y="372.10" font-size="12" text-anchor="middle" textLength="21.37" lengthAdjust="spacingAndGlyphs">×10</text>
<text x="42.70" y="313.90" font-size="12" text-anchor="middle" textLength="96.64" lengthAdjust="spacingAndGlyphs" transform="rotate(-90 42.70 313.90)">PL intensity (a.u.)</text>
<line x1="236.9" y1="230.1" x2="270.9" y2="230.1" stroke="#f7267f" stroke-width="1.6"/>
<text x="278.70" y="233.90" font-size="11.5" text-anchor="middle" fill="#f7267f">σ</text>
<text x="284.40" y="228.60" font-size="8" text-anchor="middle" fill="#f7267f">+</text>
<circle cx="253.8" cy="247.7" r="3.45" fill="none" stroke="#08f008" stroke-width="2.2"/>
<text x="278.70" y="250.80" font-size="11.5" text-anchor="middle" fill="#08f008">σ</text>
<text x="284.40" y="245.60" font-size="8" text-anchor="middle" fill="#08f008">x</text>
<path d="M62.76,567.80v-5.00M119.04,567.80v-5.00M175.32,567.80v-5.00M231.60,567.80v-5.00M287.89,567.80v-5.00M74.01,567.80v-2.70M85.27,567.80v-2.70M96.53,567.80v-2.70M107.78,567.80v-2.70M130.30,567.80v-2.70M141.55,567.80v-2.70M152.81,567.80v-2.70M164.07,567.80v-2.70M186.58,567.80v-2.70M197.83,567.80v-2.70M209.09,567.80v-2.70M220.35,567.80v-2.70M242.86,567.80v-2.70M254.12,567.80v-2.70M265.37,567.80v-2.70M276.63,567.80v-2.70M299.14,567.80v-2.70M62.76,431.80v5.00M119.04,431.80v5.00M175.32,431.80v5.00M231.60,431.80v5.00M287.89,431.80v5.00M74.01,431.80v2.70M85.27,431.80v2.70M96.53,431.80v2.70M107.78,431.80v2.70M130.30,431.80v2.70M141.55,431.80v2.70M152.81,431.80v2.70M164.07,431.80v2.70M186.58,431.80v2.70M197.83,431.80v2.70M209.09,431.80v2.70M220.35,431.80v2.70M242.86,431.80v2.70M254.12,431.80v2.70M265.37,431.80v2.70M276.63,431.80v2.70M299.14,431.80v2.70M51.50,546.80h5.00M51.50,520.40h5.00M51.50,494.00h5.00M51.50,467.60h5.00M51.50,441.20h5.00M310.40,546.80h-5.00M310.40,520.40h-5.00M310.40,494.00h-5.00M310.40,467.60h-5.00M310.40,441.20h-5.00M51.50,562.64h2.70M51.50,557.36h2.70M51.50,552.08h2.70M51.50,541.52h2.70M51.50,536.24h2.70M51.50,530.96h2.70M51.50,525.68h2.70M51.50,515.12h2.70M51.50,509.84h2.70M51.50,504.56h2.70M51.50,499.28h2.70M51.50,488.72h2.70M51.50,483.44h2.70M51.50,478.16h2.70M51.50,472.88h2.70M51.50,462.32h2.70M51.50,457.04h2.70M51.50,451.76h2.70M51.50,446.48h2.70M51.50,435.92h2.70M310.40,562.64h-2.70M310.40,557.36h-2.70M310.40,552.08h-2.70M310.40,541.52h-2.70M310.40,536.24h-2.70M310.40,530.96h-2.70M310.40,525.68h-2.70M310.40,515.12h-2.70M310.40,509.84h-2.70M310.40,504.56h-2.70M310.40,499.28h-2.70M310.40,488.72h-2.70M310.40,483.44h-2.70M310.40,478.16h-2.70M310.40,472.88h-2.70M310.40,462.32h-2.70M310.40,457.04h-2.70M310.40,451.76h-2.70M310.40,446.48h-2.70M310.40,435.92h-2.70" stroke="#1a1a1a" stroke-width="1.2" fill="none"/>
<rect x="51.50" y="431.80" width="258.90" height="136.00" fill="none" stroke="#1a1a1a" stroke-width="1.35"/>
<g fill="#00ff00" fill-opacity="0.38" stroke="#00e600" stroke-opacity="0.85" stroke-width="0.8"><circle cx="51.80" cy="542.88" r="1.6"/><circle cx="52.16" cy="545.37" r="1.6"/><circle cx="52.52" cy="548.19" r="1.6"/><circle cx="52.88" cy="548.40" r="1.6"/><circle cx="53.24" cy="547.41" r="1.6"/><circle cx="53.60" cy="546.50" r="1.6"/><circle cx="53.96" cy="544.43" r="1.6"/><circle cx="54.32" cy="547.62" r="1.6"/><circle cx="54.68" cy="545.37" r="1.6"/><circle cx="55.04" cy="545.36" r="1.6"/><circle cx="55.40" cy="545.04" r="1.6"/><circle cx="55.76" cy="545.62" r="1.6"/><circle cx="56.12" cy="544.83" r="1.6"/><circle cx="56.48" cy="545.37" r="1.6"/><circle cx="56.84" cy="543.87" r="1.6"/><circle cx="57.20" cy="544.95" r="1.6"/><circle cx="57.56" cy="548.94" r="1.6"/><circle cx="57.92" cy="545.42" r="1.6"/><circle cx="58.28" cy="545.17" r="1.6"/><circle cx="58.64" cy="546.34" r="1.6"/><circle cx="59.00" cy="546.61" r="1.6"/><circle cx="59.36" cy="543.88" r="1.6"/><circle cx="59.72" cy="545.25" r="1.6"/><circle cx="60.08" cy="546.95" r="1.6"/><circle cx="60.44" cy="545.98" r="1.6"/><circle cx="60.80" cy="545.77" r="1.6"/><circle cx="61.16" cy="547.92" r="1.6"/><circle cx="61.52" cy="544.58" r="1.6"/><circle cx="61.88" cy="545.73" r="1.6"/><circle cx="62.24" cy="544.84" r="1.6"/><circle cx="62.60" cy="547.86" r="1.6"/><circle cx="62.96" cy="542.70" r="1.6"/><circle cx="63.32" cy="544.63" r="1.6"/><circle cx="63.68" cy="544.85" r="1.6"/><circle cx="64.04" cy="546.65" r="1.6"/><circle cx="64.40" cy="546.57" r="1.6"/><circle cx="64.76" cy="547.77" r="1.6"/><circle cx="65.12" cy="543.32" r="1.6"/><circle cx="65.48" cy="546.82" r="1.6"/><circle cx="65.84" cy="545.26" r="1.6"/><circle cx="66.20" cy="544.71" r="1.6"/><circle cx="66.56" cy="546.52" r="1.6"/><circle cx="66.92" cy="544.34" r="1.6"/><circle cx="67.28" cy="542.62" r="1.6"/><circle cx="67.64" cy="545.19" r="1.6"/><circle cx="68.00" cy="543.50" r="1.6"/><circle cx="68.36" cy="544.79" r="1.6"/><circle cx="68.72" cy="546.33" r="1.6"/><circle cx="69.08" cy="546.25" r="1.6"/><circle cx="69.44" cy="548.17" r="1.6"/><circle cx="69.80" cy="545.50" r="1.6"/><circle cx="70.16" cy="543.50" r="1.6"/><circle cx="70.52" cy="544.68" r="1.6"/><circle cx="70.88" cy="544.44" r="1.6"/><circle cx="71.24" cy="544.00" r="1.6"/><circle cx="71.60" cy="546.49" r="1.6"/><circle cx="71.96" cy="544.88" r="1.6"/><circle cx="72.32" cy="542.89" r="1.6"/><circle cx="72.68" cy="546.91" r="1.6"/><circle cx="73.04" cy="545.71" r="1.6"/><circle cx="73.40" cy="546.42" r="1.6"/><circle cx="73.76" cy="546.05" r="1.6"/><circle cx="74.12" cy="546.85" r="1.6"/><circle cx="74.48" cy="545.97" r="1.6"/><circle cx="74.84" cy="547.78" r="1.6"/><circle cx="75.20" cy="546.57" r="1.6"/><circle cx="75.56" cy="546.53" r="1.6"/><circle cx="75.92" cy="546.56" r="1.6"/><circle cx="76.28" cy="543.77" r="1.6"/><circle cx="76.64" cy="545.72" r="1.6"/><circle cx="77.00" cy="545.59" r="1.6"/><circle cx="77.36" cy="546.30" r="1.6"/><circle cx="77.72" cy="543.96" r="1.6"/><circle cx="78.08" cy="548.46" r="1.6"/><circle cx="78.44" cy="546.17" r="1.6"/><circle cx="78.80" cy="544.21" r="1.6"/><circle cx="79.16" cy="543.47" r="1.6"/><circle cx="79.52" cy="545.62" r="1.6"/><circle cx="79.88" cy="545.92" r="1.6"/><circle cx="80.24" cy="544.99" r="1.6"/><circle cx="80.60" cy="546.21" r="1.6"/><circle cx="80.96" cy="545.12" r="1.6"/><circle cx="81.32" cy="546.92" r="1.6"/><circle cx="81.68" cy="545.02" r="1.6"/><circle cx="82.04" cy="546.06" r="1.6"/><circle cx="82.40" cy="547.60" r="1.6"/><circle cx="82.76" cy="550.00" r="1.6"/><circle cx="83.12" cy="544.64" r="1.6"/><circle cx="83.48" cy="545.47" r="1.6"/><circle cx="83.84" cy="544.91" r="1.6"/><circle cx="84.20" cy="547.36" r="1.6"/><circle cx="84.56" cy="544.48" r="1.6"/><circle cx="84.92" cy="545.48" r="1.6"/><circle cx="85.28" cy="546.18" r="1.6"/><circle cx="85.64" cy="544.77" r="1.6"/><circle cx="86.00" cy="544.81" r="1.6"/><circle cx="86.36" cy="545.55" r="1.6"/><circle cx="86.72" cy="543.12" r="1.6"/><circle cx="87.08" cy="544.12" r="1.6"/><circle cx="87.44" cy="545.68" r="1.6"/><circle cx="87.80" cy="546.54" r="1.6"/><circle cx="88.16" cy="546.05" r="1.6"/><circle cx="88.52" cy="543.68" r="1.6"/><circle cx="88.88" cy="545.66" r="1.6"/><circle cx="89.24" cy="547.57" r="1.6"/><circle cx="89.60" cy="547.22" r="1.6"/><circle cx="89.96" cy="546.28" r="1.6"/><circle cx="90.32" cy="545.08" r="1.6"/><circle cx="90.68" cy="547.38" r="1.6"/><circle cx="91.04" cy="545.58" r="1.6"/><circle cx="91.40" cy="544.72" r="1.6"/><circle cx="91.76" cy="545.30" r="1.6"/><circle cx="92.12" cy="548.70" r="1.6"/><circle cx="92.48" cy="546.88" r="1.6"/><circle cx="92.84" cy="548.32" r="1.6"/><circle cx="93.20" cy="545.89" r="1.6"/><circle cx="93.56" cy="548.04" r="1.6"/><circle cx="93.92" cy="545.76" r="1.6"/><circle cx="94.28" cy="546.46" r="1.6"/><circle cx="94.64" cy="550.45" r="1.6"/><circle cx="95.00" cy="547.90" r="1.6"/><circle cx="95.36" cy="546.03" r="1.6"/><circle cx="95.72" cy="546.68" r="1.6"/><circle cx="96.08" cy="547.32" r="1.6"/><circle cx="96.44" cy="548.68" r="1.6"/><circle cx="96.80" cy="546.15" r="1.6"/><circle cx="97.16" cy="544.29" r="1.6"/><circle cx="97.52" cy="546.51" r="1.6"/><circle cx="97.88" cy="546.97" r="1.6"/><circle cx="98.24" cy="547.13" r="1.6"/><circle cx="98.60" cy="548.95" r="1.6"/><circle cx="98.96" cy="547.46" r="1.6"/><circle cx="99.32" cy="548.21" r="1.6"/><circle cx="99.68" cy="545.35" r="1.6"/><circle cx="100.04" cy="548.31" r="1.6"/><circle cx="100.40" cy="550.24" r="1.6"/><circle cx="100.76" cy="548.23" r="1.6"/><circle cx="101.12" cy="547.41" r="1.6"/><circle cx="101.48" cy="547.25" r="1.6"/><circle cx="101.84" cy="550.05" r="1.6"/><circle cx="102.20" cy="545.35" r="1.6"/><circle cx="102.56" cy="546.77" r="1.6"/><circle cx="102.92" cy="547.81" r="1.6"/><circle cx="103.28" cy="548.35" r="1.6"/><circle cx="103.64" cy="546.10" r="1.6"/><circle cx="104.00" cy="547.54" r="1.6"/><circle cx="104.36" cy="546.36" r="1.6"/><circle cx="104.72" cy="547.15" r="1.6"/><circle cx="105.08" cy="546.61" r="1.6"/><circle cx="105.44" cy="544.44" r="1.6"/><circle cx="105.80" cy="546.81" r="1.6"/><circle cx="106.16" cy="548.81" r="1.6"/><circle cx="106.52" cy="544.55" r="1.6"/><circle cx="106.88" cy="546.21" r="1.6"/><circle cx="107.24" cy="548.49" r="1.6"/><circle cx="107.60" cy="543.88" r="1.6"/><circle cx="107.96" cy="547.20" r="1.6"/><circle cx="108.32" cy="543.56" r="1.6"/><circle cx="108.68" cy="549.96" r="1.6"/><circle cx="109.04" cy="553.67" r="1.6"/><circle cx="109.40" cy="552.88" r="1.6"/><circle cx="109.76" cy="545.54" r="1.6"/><circle cx="110.12" cy="548.70" r="1.6"/><circle cx="110.48" cy="546.47" r="1.6"/><circle cx="110.84" cy="546.29" r="1.6"/><circle cx="111.20" cy="551.61" r="1.6"/><circle cx="111.56" cy="540.56" r="1.6"/><circle cx="111.92" cy="549.72" r="1.6"/><circle cx="112.28" cy="545.19" r="1.6"/><circle cx="112.64" cy="551.10" r="1.6"/><circle cx="113.00" cy="545.87" r="1.6"/><circle cx="113.36" cy="541.98" r="1.6"/><circle cx="113.72" cy="545.93" r="1.6"/><circle cx="114.08" cy="547.82" r="1.6"/><circle cx="114.44" cy="544.44" r="1.6"/><circle cx="114.80" cy="546.35" r="1.6"/><circle cx="115.16" cy="541.32" r="1.6"/><circle cx="115.52" cy="533.16" r="1.6"/><circle cx="115.88" cy="547.79" r="1.6"/><circle cx="116.24" cy="546.60" r="1.6"/><circle cx="116.60" cy="543.56" r="1.6"/><circle cx="116.96" cy="542.89" r="1.6"/><circle cx="117.32" cy="547.78" r="1.6"/><circle cx="117.68" cy="539.48" r="1.6"/><circle cx="118.04" cy="537.75" r="1.6"/><circle cx="118.40" cy="540.26" r="1.6"/><circle cx="118.76" cy="547.69" r="1.6"/><circle cx="119.12" cy="532.68" r="1.6"/><circle cx="119.48" cy="547.16" r="1.6"/><circle cx="119.84" cy="536.12" r="1.6"/><circle cx="120.20" cy="532.95" r="1.6"/><circle cx="120.56" cy="546.67" r="1.6"/><circle cx="120.92" cy="538.11" r="1.6"/><circle cx="121.28" cy="530.30" r="1.6"/><circle cx="121.64" cy="535.67" r="1.6"/><circle cx="122.00" cy="543.37" r="1.6"/><circle cx="122.36" cy="544.70" r="1.6"/><circle cx="122.72" cy="533.95" r="1.6"/><circle cx="123.08" cy="538.96" r="1.6"/><circle cx="123.44" cy="540.58" r="1.6"/><circle cx="123.80" cy="531.25" r="1.6"/><circle cx="124.16" cy="537.41" r="1.6"/><circle cx="124.52" cy="534.41" r="1.6"/><circle cx="124.88" cy="530.59" r="1.6"/><circle cx="125.24" cy="530.42" r="1.6"/><circle cx="125.60" cy="533.73" r="1.6"/><circle cx="125.96" cy="533.04" r="1.6"/><circle cx="126.32" cy="528.54" r="1.6"/><circle cx="126.68" cy="529.06" r="1.6"/><circle cx="127.04" cy="539.27" r="1.6"/><circle cx="127.40" cy="532.68" r="1.6"/><circle cx="127.76" cy="537.00" r="1.6"/><circle cx="128.12" cy="538.89" r="1.6"/><circle cx="128.48" cy="534.26" r="1.6"/><circle cx="128.84" cy="545.57" r="1.6"/><circle cx="129.20" cy="523.82" r="1.6"/><circle cx="129.56" cy="534.76" r="1.6"/><circle cx="129.92" cy="526.73" r="1.6"/><circle cx="130.28" cy="541.25" r="1.6"/><circle cx="130.64" cy="539.85" r="1.6"/><circle cx="131.00" cy="514.85" r="1.6"/><circle cx="131.36" cy="521.25" r="1.6"/><circle cx="131.72" cy="531.94" r="1.6"/><circle cx="132.08" cy="532.50" r="1.6"/><circle cx="132.44" cy="531.87" r="1.6"/><circle cx="132.80" cy="526.28" r="1.6"/><circle cx="133.16" cy="529.50" r="1.6"/><circle cx="133.52" cy="530.56" r="1.6"/><circle cx="133.88" cy="525.56" r="1.6"/><circle cx="134.24" cy="532.56" r="1.6"/><circle cx="134.60" cy="510.87" r="1.6"/><circle cx="134.96" cy="529.65" r="1.6"/><circle cx="135.32" cy="518.46" r="1.6"/><circle cx="135.68" cy="531.49" r="1.6"/><circle cx="136.04" cy="523.43" r="1.6"/><circle cx="136.40" cy="518.84" r="1.6"/><circle cx="136.76" cy="527.16" r="1.6"/><circle cx="137.12" cy="518.32" r="1.6"/><circle cx="137.48" cy="518.13" r="1.6"/><circle cx="137.84" cy="513.49" r="1.6"/><circle cx="138.20" cy="523.84" r="1.6"/><circle cx="138.56" cy="527.28" r="1.6"/><circle cx="138.92" cy="530.78" r="1.6"/><circle cx="139.28" cy="522.56" r="1.6"/><circle cx="139.64" cy="530.68" r="1.6"/><circle cx="140.00" cy="523.33" r="1.6"/><circle cx="140.36" cy="522.38" r="1.6"/><circle cx="140.72" cy="526.73" r="1.6"/><circle cx="141.08" cy="529.74" r="1.6"/><circle cx="141.44" cy="520.22" r="1.6"/><circle cx="141.80" cy="520.70" r="1.6"/><circle cx="142.16" cy="521.06" r="1.6"/><circle cx="142.52" cy="522.41" r="1.6"/><circle cx="142.88" cy="516.14" r="1.6"/><circle cx="143.24" cy="527.75" r="1.6"/><circle cx="143.60" cy="518.92" r="1.6"/><circle cx="143.96" cy="523.83" r="1.6"/><circle cx="144.32" cy="516.16" r="1.6"/><circle cx="144.68" cy="522.76" r="1.6"/><circle cx="145.04" cy="522.71" r="1.6"/><circle cx="145.40" cy="518.05" r="1.6"/><circle cx="145.76" cy="530.97" r="1.6"/><circle cx="146.12" cy="521.91" r="1.6"/><circle cx="146.48" cy="528.92" r="1.6"/><circle cx="146.84" cy="524.42" r="1.6"/><circle cx="147.20" cy="516.09" r="1.6"/><circle cx="147.56" cy="517.31" r="1.6"/><circle cx="147.92" cy="521.17" r="1.6"/><circle cx="148.28" cy="519.12" r="1.6"/><circle cx="148.64" cy="518.87" r="1.6"/><circle cx="149.00" cy="517.04" r="1.6"/><circle cx="149.36" cy="509.50" r="1.6"/><circle cx="149.72" cy="516.96" r="1.6"/><circle cx="150.08" cy="507.25" r="1.6"/><circle cx="150.44" cy="519.43" r="1.6"/><circle cx="150.80" cy="514.04" r="1.6"/><circle cx="151.16" cy="513.92" r="1.6"/><circle cx="151.52" cy="516.07" r="1.6"/><circle cx="151.88" cy="518.19" r="1.6"/><circle cx="152.24" cy="510.13" r="1.6"/><circle cx="152.60" cy="508.54" r="1.6"/><circle cx="152.96" cy="511.55" r="1.6"/><circle cx="153.32" cy="506.98" r="1.6"/><circle cx="153.68" cy="511.75" r="1.6"/><circle cx="154.04" cy="523.14" r="1.6"/><circle cx="154.40" cy="511.13" r="1.6"/><circle cx="154.76" cy="518.60" r="1.6"/><circle cx="155.12" cy="509.53" r="1.6"/><circle cx="155.48" cy="516.74" r="1.6"/><circle cx="155.84" cy="513.91" r="1.6"/><circle cx="156.20" cy="514.90" r="1.6"/><circle cx="156.56" cy="517.47" r="1.6"/><circle cx="156.92" cy="522.38" r="1.6"/><circle cx="157.28" cy="515.61" r="1.6"/><circle cx="157.64" cy="515.20" r="1.6"/><circle cx="158.00" cy="510.52" r="1.6"/><circle cx="158.36" cy="516.89" r="1.6"/><circle cx="158.72" cy="513.38" r="1.6"/><circle cx="159.08" cy="517.71" r="1.6"/><circle cx="159.44" cy="514.09" r="1.6"/><circle cx="159.80" cy="521.21" r="1.6"/><circle cx="160.16" cy="506.29" r="1.6"/><circle cx="160.52" cy="512.99" r="1.6"/><circle cx="160.88" cy="517.58" r="1.6"/><circle cx="161.24" cy="512.75" r="1.6"/><circle cx="161.60" cy="511.04" r="1.6"/><circle cx="161.96" cy="513.04" r="1.6"/><circle cx="162.32" cy="508.83" r="1.6"/><circle cx="162.68" cy="514.45" r="1.6"/><circle cx="163.04" cy="523.00" r="1.6"/><circle cx="163.40" cy="518.15" r="1.6"/><circle cx="163.76" cy="509.92" r="1.6"/><circle cx="164.12" cy="510.78" r="1.6"/><circle cx="164.48" cy="512.46" r="1.6"/><circle cx="164.84" cy="517.41" r="1.6"/><circle cx="165.20" cy="511.00" r="1.6"/><circle cx="165.56" cy="511.46" r="1.6"/><circle cx="165.92" cy="516.84" r="1.6"/><circle cx="166.28" cy="516.72" r="1.6"/><circle cx="166.64" cy="512.54" r="1.6"/><circle cx="167.00" cy="510.08" r="1.6"/><circle cx="167.36" cy="508.70" r="1.6"/><circle cx="167.72" cy="511.49" r="1.6"/><circle cx="168.08" cy="506.61" r="1.6"/><circle cx="168.44" cy="516.08" r="1.6"/><circle cx="168.80" cy="511.74" r="1.6"/><circle cx="169.16" cy="515.18" r="1.6"/><circle cx="169.52" cy="519.38" r="1.6"/><circle cx="169.88" cy="517.20" r="1.6"/><circle cx="170.24" cy="510.24" r="1.6"/><circle cx="170.60" cy="516.21" r="1.6"/><circle cx="170.96" cy="517.01" r="1.6"/><circle cx="171.32" cy="511.50" r="1.6"/><circle cx="171.68" cy="510.93" r="1.6"/><circle cx="172.04" cy="513.32" r="1.6"/><circle cx="172.40" cy="509.20" r="1.6"/><circle cx="172.76" cy="517.62" r="1.6"/><circle cx="173.12" cy="507.14" r="1.6"/><circle cx="173.48" cy="510.67" r="1.6"/><circle cx="173.84" cy="512.90" r="1.6"/><circle cx="174.20" cy="513.02" r="1.6"/><circle cx="174.56" cy="514.02" r="1.6"/><circle cx="174.92" cy="514.28" r="1.6"/><circle cx="175.28" cy="513.07" r="1.6"/><circle cx="175.64" cy="516.42" r="1.6"/><circle cx="176.00" cy="508.37" r="1.6"/><circle cx="176.36" cy="513.63" r="1.6"/><circle cx="176.72" cy="511.92" r="1.6"/><circle cx="177.08" cy="513.99" r="1.6"/><circle cx="177.44" cy="514.23" r="1.6"/><circle cx="177.80" cy="511.57" r="1.6"/><circle cx="178.16" cy="512.26" r="1.6"/><circle cx="178.52" cy="515.65" r="1.6"/><circle cx="178.88" cy="514.65" r="1.6"/><circle cx="179.24" cy="512.32" r="1.6"/><circle cx="179.60" cy="518.59" r="1.6"/><circle cx="179.96" cy="519.22" r="1.6"/><circle cx="180.32" cy="510.73" r="1.6"/><circle cx="180.68" cy="514.75" r="1.6"/><circle cx="181.04" cy="519.70" r="1.6"/><circle cx="181.40" cy="515.92" r="1.6"/><circle cx="181.76" cy="514.73" r="1.6"/><circle cx="182.12" cy="513.86" r="1.6"/><circle cx="182.48" cy="513.20" r="1.6"/><circle cx="182.84" cy="513.97" r="1.6"/><circle cx="183.20" cy="513.32" r="1.6"/><circle cx="183.56" cy="516.12" r="1.6"/><circle cx="183.92" cy="513.79" r="1.6"/><circle cx="184.28" cy="513.77" r="1.6"/><circle cx="184.64" cy="512.28" r="1.6"/><circle cx="185.00" cy="514.71" r="1.6"/><circle cx="185.36" cy="513.07" r="1.6"/><circle cx="185.72" cy="514.58" r="1.6"/><circle cx="186.08" cy="517.07" r="1.6"/><circle cx="186.44" cy="515.78" r="1.6"/><circle cx="186.80" cy="516.11" r="1.6"/><circle cx="187.16" cy="515.87" r="1.6"/><circle cx="187.52" cy="515.36" r="1.6"/><circle cx="187.88" cy="515.06" r="1.6"/><circle cx="188.24" cy="514.78" r="1.6"/><circle cx="188.60" cy="516.83" r="1.6"/><circle cx="188.96" cy="513.46" r="1.6"/><circle cx="189.32" cy="517.97" r="1.6"/><circle cx="189.68" cy="515.62" r="1.6"/><circle cx="190.04" cy="514.26" r="1.6"/><circle cx="190.40" cy="514.77" r="1.6"/><circle cx="190.76" cy="514.48" r="1.6"/><circle cx="191.12" cy="516.02" r="1.6"/><circle cx="191.48" cy="514.50" r="1.6"/><circle cx="191.84" cy="517.86" r="1.6"/><circle cx="192.20" cy="514.48" r="1.6"/><circle cx="192.56" cy="511.88" r="1.6"/><circle cx="192.92" cy="514.66" r="1.6"/><circle cx="193.28" cy="512.45" r="1.6"/><circle cx="193.64" cy="515.98" r="1.6"/><circle cx="194.00" cy="517.95" r="1.6"/><circle cx="194.36" cy="517.27" r="1.6"/><circle cx="194.72" cy="513.83" r="1.6"/><circle cx="195.08" cy="514.89" r="1.6"/><circle cx="195.44" cy="519.37" r="1.6"/><circle cx="195.80" cy="516.86" r="1.6"/><circle cx="196.16" cy="516.36" r="1.6"/><circle cx="196.52" cy="518.23" r="1.6"/><circle cx="196.88" cy="520.68" r="1.6"/><circle cx="197.24" cy="518.72" r="1.6"/><circle cx="197.60" cy="516.76" r="1.6"/><circle cx="197.96" cy="517.17" r="1.6"/><circle cx="198.32" cy="517.66" r="1.6"/><circle cx="198.68" cy="515.60" r="1.6"/><circle cx="199.04" cy="514.88" r="1.6"/><circle cx="199.40" cy="516.82" r="1.6"/><circle cx="199.76" cy="515.15" r="1.6"/><circle cx="200.12" cy="516.70" r="1.6"/><circle cx="200.48" cy="517.01" r="1.6"/><circle cx="200.84" cy="520.85" r="1.6"/><circle cx="201.20" cy="515.49" r="1.6"/><circle cx="201.56" cy="516.76" r="1.6"/><circle cx="201.92" cy="516.72" r="1.6"/><circle cx="202.28" cy="517.77" r="1.6"/><circle cx="202.64" cy="518.82" r="1.6"/><circle cx="203.00" cy="516.29" r="1.6"/><circle cx="203.36" cy="515.78" r="1.6"/><circle cx="203.72" cy="514.45" r="1.6"/><circle cx="204.08" cy="515.68" r="1.6"/><circle cx="204.44" cy="518.14" r="1.6"/><circle cx="204.80" cy="517.36" r="1.6"/><circle cx="205.16" cy="515.64" r="1.6"/><circle cx="205.52" cy="516.74" r="1.6"/><circle cx="205.88" cy="517.44" r="1.6"/><circle cx="206.24" cy="518.24" r="1.6"/><circle cx="206.60" cy="516.49" r="1.6"/><circle cx="206.96" cy="517.09" r="1.6"/><circle cx="207.32" cy="514.57" r="1.6"/><circle cx="207.68" cy="515.70" r="1.6"/><circle cx="208.04" cy="520.23" r="1.6"/><circle cx="208.40" cy="514.11" r="1.6"/><circle cx="208.76" cy="517.14" r="1.6"/><circle cx="209.12" cy="518.07" r="1.6"/><circle cx="209.48" cy="517.15" r="1.6"/><circle cx="209.84" cy="516.49" r="1.6"/><circle cx="210.20" cy="517.72" r="1.6"/><circle cx="210.56" cy="517.84" r="1.6"/><circle cx="210.92" cy="517.74" r="1.6"/><circle cx="211.28" cy="514.92" r="1.6"/><circle cx="211.64" cy="517.69" r="1.6"/><circle cx="212.00" cy="516.59" r="1.6"/><circle cx="212.36" cy="517.10" r="1.6"/><circle cx="212.72" cy="518.33" r="1.6"/><circle cx="213.08" cy="518.99" r="1.6"/><circle cx="213.44" cy="519.40" r="1.6"/><circle cx="213.80" cy="517.22" r="1.6"/><circle cx="214.16" cy="519.44" r="1.6"/><circle cx="214.52" cy="519.81" r="1.6"/><circle cx="214.88" cy="519.73" r="1.6"/><circle cx="215.24" cy="520.09" r="1.6"/><circle cx="215.60" cy="517.67" r="1.6"/><circle cx="215.96" cy="517.58" r="1.6"/><circle cx="216.32" cy="519.07" r="1.6"/><circle cx="216.68" cy="515.64" r="1.6"/><circle cx="217.04" cy="517.99" r="1.6"/><circle cx="217.40" cy="516.79" r="1.6"/><circle cx="217.76" cy="516.96" r="1.6"/><circle cx="218.12" cy="514.80" r="1.6"/><circle cx="218.48" cy="516.01" r="1.6"/><circle cx="218.84" cy="517.25" r="1.6"/><circle cx="219.20" cy="518.53" r="1.6"/><circle cx="219.56" cy="518.59" r="1.6"/><circle cx="219.92" cy="516.90" r="1.6"/><circle cx="220.28" cy="516.65" r="1.6"/><circle cx="220.64" cy="515.59" r="1.6"/><circle cx="221.00" cy="517.32" r="1.6"/><circle cx="221.36" cy="516.24" r="1.6"/><circle cx="221.72" cy="517.38" r="1.6"/><circle cx="222.08" cy="518.93" r="1.6"/><circle cx="222.44" cy="516.15" r="1.6"/><circle cx="222.80" cy="513.85" r="1.6"/><circle cx="223.16" cy="514.63" r="1.6"/><circle cx="223.52" cy="513.60" r="1.6"/><circle cx="223.88" cy="513.82" r="1.6"/><circle cx="224.24" cy="517.30" r="1.6"/><circle cx="224.60" cy="515.55" r="1.6"/><circle cx="224.96" cy="512.83" r="1.6"/><circle cx="225.32" cy="515.80" r="1.6"/><circle cx="225.68" cy="516.49" r="1.6"/><circle cx="226.04" cy="513.96" r="1.6"/><circle cx="226.40" cy="513.31" r="1.6"/><circle cx="226.76" cy="513.60" r="1.6"/><circle cx="227.12" cy="514.28" r="1.6"/><circle cx="227.48" cy="514.57" r="1.6"/><circle cx="227.84" cy="515.11" r="1.6"/><circle cx="228.20" cy="514.92" r="1.6"/><circle cx="228.56" cy="514.63" r="1.6"/><circle cx="228.92" cy="514.63" r="1.6"/><circle cx="229.28" cy="513.39" r="1.6"/><circle cx="229.64" cy="510.05" r="1.6"/><circle cx="230.00" cy="511.74" r="1.6"/><circle cx="230.36" cy="512.09" r="1.6"/><circle cx="230.72" cy="510.83" r="1.6"/><circle cx="231.08" cy="512.37" r="1.6"/><circle cx="231.44" cy="510.28" r="1.6"/><circle cx="231.80" cy="509.17" r="1.6"/><circle cx="232.16" cy="512.25" r="1.6"/><circle cx="232.52" cy="510.83" r="1.6"/><circle cx="232.88" cy="509.87" r="1.6"/><circle cx="233.24" cy="510.57" r="1.6"/><circle cx="233.60" cy="510.44" r="1.6"/><circle cx="233.96" cy="509.06" r="1.6"/><circle cx="234.32" cy="504.62" r="1.6"/><circle cx="234.68" cy="506.87" r="1.6"/><circle cx="235.04" cy="506.83" r="1.6"/><circle cx="235.40" cy="505.67" r="1.6"/><circle cx="235.76" cy="507.03" r="1.6"/><circle cx="236.12" cy="508.12" r="1.6"/><circle cx="236.48" cy="505.22" r="1.6"/><circle cx="236.84" cy="503.83" r="1.6"/><circle cx="237.20" cy="508.16" r="1.6"/><circle cx="237.56" cy="504.00" r="1.6"/><circle cx="237.92" cy="502.38" r="1.6"/><circle cx="238.28" cy="504.15" r="1.6"/><circle cx="238.64" cy="503.98" r="1.6"/><circle cx="239.00" cy="501.78" r="1.6"/><circle cx="239.36" cy="503.59" r="1.6"/><circle cx="239.72" cy="501.14" r="1.6"/><circle cx="240.08" cy="499.97" r="1.6"/><circle cx="240.44" cy="501.16" r="1.6"/><circle cx="240.80" cy="501.56" r="1.6"/><circle cx="241.16" cy="498.85" r="1.6"/><circle cx="241.52" cy="499.81" r="1.6"/><circle cx="241.88" cy="498.60" r="1.6"/><circle cx="242.24" cy="502.64" r="1.6"/><circle cx="242.60" cy="496.50" r="1.6"/><circle cx="242.96" cy="499.23" r="1.6"/><circle cx="243.32" cy="496.33" r="1.6"/><circle cx="243.68" cy="495.54" r="1.6"/><circle cx="244.04" cy="496.19" r="1.6"/><circle cx="244.40" cy="495.72" r="1.6"/><circle cx="244.76" cy="495.56" r="1.6"/><circle cx="245.12" cy="493.25" r="1.6"/><circle cx="245.48" cy="490.92" r="1.6"/><circle cx="245.84" cy="490.19" r="1.6"/><circle cx="246.20" cy="491.05" r="1.6"/><circle cx="246.56" cy="490.32" r="1.6"/><circle cx="246.92" cy="490.81" r="1.6"/><circle cx="247.28" cy="488.35" r="1.6"/><circle cx="247.64" cy="488.57" r="1.6"/><circle cx="248.00" cy="488.50" r="1.6"/><circle cx="248.36" cy="485.45" r="1.6"/><circle cx="248.72" cy="481.91" r="1.6"/><circle cx="249.08" cy="481.65" r="1.6"/><circle cx="249.44" cy="480.48" r="1.6"/><circle cx="249.80" cy="484.88" r="1.6"/><circle cx="250.16" cy="480.10" r="1.6"/><circle cx="250.52" cy="482.94" r="1.6"/><circle cx="250.88" cy="481.19" r="1.6"/><circle cx="251.24" cy="482.46" r="1.6"/><circle cx="251.60" cy="480.60" r="1.6"/><circle cx="251.96" cy="478.07" r="1.6"/><circle cx="252.32" cy="477.26" r="1.6"/><circle cx="252.68" cy="477.12" r="1.6"/><circle cx="253.04" cy="476.66" r="1.6"/><circle cx="253.40" cy="474.83" r="1.6"/><circle cx="253.76" cy="475.09" r="1.6"/><circle cx="254.12" cy="477.37" r="1.6"/><circle cx="254.48" cy="471.01" r="1.6"/><circle cx="254.84" cy="473.88" r="1.6"/><circle cx="255.20" cy="471.28" r="1.6"/><circle cx="255.56" cy="472.66" r="1.6"/><circle cx="255.92" cy="473.30" r="1.6"/><circle cx="256.28" cy="471.20" r="1.6"/><circle cx="256.64" cy="472.19" r="1.6"/><circle cx="257.00" cy="467.49" r="1.6"/><circle cx="257.36" cy="471.83" r="1.6"/><circle cx="257.72" cy="468.26" r="1.6"/><circle cx="258.08" cy="469.96" r="1.6"/><circle cx="258.44" cy="468.67" r="1.6"/><circle cx="258.80" cy="462.96" r="1.6"/><circle cx="259.16" cy="465.88" r="1.6"/><circle cx="259.52" cy="467.26" r="1.6"/><circle cx="259.88" cy="469.44" r="1.6"/><circle cx="260.24" cy="466.47" r="1.6"/><circle cx="260.60" cy="465.98" r="1.6"/><circle cx="260.96" cy="462.07" r="1.6"/><circle cx="261.32" cy="467.69" r="1.6"/><circle cx="261.68" cy="468.19" r="1.6"/><circle cx="262.04" cy="464.01" r="1.6"/><circle cx="262.40" cy="463.17" r="1.6"/><circle cx="262.76" cy="459.73" r="1.6"/><circle cx="263.12" cy="465.26" r="1.6"/><circle cx="263.48" cy="469.41" r="1.6"/><circle cx="263.84" cy="464.67" r="1.6"/><circle cx="264.20" cy="465.93" r="1.6"/><circle cx="264.56" cy="464.12" r="1.6"/><circle cx="264.92" cy="460.25" r="1.6"/><circle cx="265.28" cy="466.01" r="1.6"/><circle cx="265.64" cy="459.39" r="1.6"/><circle cx="266.00" cy="461.94" r="1.6"/><circle cx="266.36" cy="463.15" r="1.6"/><circle cx="266.72" cy="464.68" r="1.6"/><circle cx="267.08" cy="463.40" r="1.6"/><circle cx="267.44" cy="463.27" r="1.6"/><circle cx="267.80" cy="460.15" r="1.6"/><circle cx="268.16" cy="458.67" r="1.6"/><circle cx="268.52" cy="462.28" r="1.6"/><circle cx="268.88" cy="460.14" r="1.6"/><circle cx="269.24" cy="458.46" r="1.6"/><circle cx="269.60" cy="458.54" r="1.6"/><circle cx="269.96" cy="460.65" r="1.6"/><circle cx="270.32" cy="456.83" r="1.6"/><circle cx="270.68" cy="458.22" r="1.6"/><circle cx="271.04" cy="457.38" r="1.6"/><circle cx="271.40" cy="462.53" r="1.6"/><circle cx="271.76" cy="463.18" r="1.6"/><circle cx="272.12" cy="467.80" r="1.6"/><circle cx="272.48" cy="457.72" r="1.6"/><circle cx="272.84" cy="460.10" r="1.6"/><circle cx="273.20" cy="464.75" r="1.6"/><circle cx="273.56" cy="461.48" r="1.6"/><circle cx="273.92" cy="461.17" r="1.6"/><circle cx="274.28" cy="467.23" r="1.6"/><circle cx="274.64" cy="461.17" r="1.6"/><circle cx="275.00" cy="458.74" r="1.6"/><circle cx="275.36" cy="458.23" r="1.6"/><circle cx="275.72" cy="463.27" r="1.6"/><circle cx="276.08" cy="463.21" r="1.6"/><circle cx="276.44" cy="457.99" r="1.6"/><circle cx="276.80" cy="459.17" r="1.6"/><circle cx="277.16" cy="464.00" r="1.6"/><circle cx="277.52" cy="464.16" r="1.6"/><circle cx="277.88" cy="460.20" r="1.6"/><circle cx="278.24" cy="464.32" r="1.6"/><circle cx="278.60" cy="464.14" r="1.6"/><circle cx="278.96" cy="456.21" r="1.6"/><circle cx="279.32" cy="461.07" r="1.6"/><circle cx="279.68" cy="463.47" r="1.6"/><circle cx="280.04" cy="459.99" r="1.6"/><circle cx="280.40" cy="454.43" r="1.6"/><circle cx="280.76" cy="460.77" r="1.6"/><circle cx="281.12" cy="464.31" r="1.6"/><circle cx="281.48" cy="467.17" r="1.6"/><circle cx="281.84" cy="453.49" r="1.6"/><circle cx="282.20" cy="470.77" r="1.6"/><circle cx="282.56" cy="456.97" r="1.6"/><circle cx="282.92" cy="464.51" r="1.6"/><circle cx="283.28" cy="465.42" r="1.6"/><circle cx="283.64" cy="464.36" r="1.6"/><circle cx="290.76" cy="456.85" r="1.6"/><circle cx="287.90" cy="457.37" r="1.6"/><circle cx="290.37" cy="476.57" r="1.6"/><circle cx="289.32" cy="470.88" r="1.6"/><circle cx="293.22" cy="471.47" r="1.6"/><circle cx="297.76" cy="474.63" r="1.6"/><circle cx="290.62" cy="456.56" r="1.6"/><circle cx="288.89" cy="450.52" r="1.6"/><circle cx="284.29" cy="459.23" r="1.6"/><circle cx="295.98" cy="464.97" r="1.6"/><circle cx="294.96" cy="474.83" r="1.6"/><circle cx="288.30" cy="460.96" r="1.6"/><circle cx="285.92" cy="455.85" r="1.6"/><circle cx="287.58" cy="465.30" r="1.6"/><circle cx="288.03" cy="459.62" r="1.6"/><circle cx="297.10" cy="467.05" r="1.6"/><circle cx="297.49" cy="462.93" r="1.6"/><circle cx="292.71" cy="459.34" r="1.6"/><circle cx="285.96" cy="453.60" r="1.6"/><circle cx="284.56" cy="470.75" r="1.6"/><circle cx="289.11" cy="458.08" r="1.6"/><circle cx="291.04" cy="470.97" r="1.6"/><circle cx="293.81" cy="462.82" r="1.6"/><circle cx="291.30" cy="464.44" r="1.6"/><circle cx="283.59" cy="461.39" r="1.6"/><circle cx="288.07" cy="459.02" r="1.6"/><circle cx="284.53" cy="456.71" r="1.6"/><circle cx="289.92" cy="461.43" r="1.6"/><circle cx="293.73" cy="464.94" r="1.6"/><circle cx="294.71" cy="457.92" r="1.6"/><circle cx="291.03" cy="458.10" r="1.6"/><circle cx="293.14" cy="472.62" r="1.6"/><circle cx="294.97" cy="463.43" r="1.6"/><circle cx="290.42" cy="454.88" r="1.6"/><circle cx="284.54" cy="455.64" r="1.6"/><circle cx="286.72" cy="473.49" r="1.6"/><circle cx="294.17" cy="459.54" r="1.6"/><circle cx="293.48" cy="463.22" r="1.6"/><circle cx="288.87" cy="454.10" r="1.6"/><circle cx="287.40" cy="462.98" r="1.6"/><circle cx="291.30" cy="434.20" r="1.6"/><circle cx="292.50" cy="439.30" r="1.6"/><circle cx="289.70" cy="443.90" r="1.6"/><circle cx="294.30" cy="445.80" r="1.6"/><circle cx="297.10" cy="442.10" r="1.6"/><circle cx="285.10" cy="448.60" r="1.6"/><circle cx="289.00" cy="450.40" r="1.6"/><circle cx="297.10" cy="454.40" r="1.6"/><circle cx="299.90" cy="457.40" r="1.6"/><circle cx="298.30" cy="460.20" r="1.6"/><circle cx="294.80" cy="462.50" r="1.6"/><circle cx="283.20" cy="468.30" r="1.6"/><circle cx="290.60" cy="468.30" r="1.6"/><circle cx="299.50" cy="467.60" r="1.6"/><circle cx="286.00" cy="472.90" r="1.6"/><circle cx="289.00" cy="475.30" r="1.6"/><circle cx="293.70" cy="476.40" r="1.6"/><circle cx="299.50" cy="478.70" r="1.6"/><circle cx="296.00" cy="479.90" r="1.6"/><circle cx="287.80" cy="483.40" r="1.6"/><circle cx="293.70" cy="486.90" r="1.6"/><circle cx="294.80" cy="491.50" r="1.6"/><circle cx="298.30" cy="492.70" r="1.6"/><circle cx="301.30" cy="490.80" r="1.6"/><circle cx="299.90" cy="499.60" r="1.6"/><circle cx="296.00" cy="505.40" r="1.6"/><circle cx="301.80" cy="507.70" r="1.6"/><circle cx="299.00" cy="513.50" r="1.6"/><circle cx="297.10" cy="517.00" r="1.6"/><circle cx="301.80" cy="511.70" r="1.6"/><circle cx="302.20" cy="517.00" r="1.6"/><circle cx="308.30" cy="512.40" r="1.6"/><circle cx="296.00" cy="521.70" r="1.6"/><circle cx="304.10" cy="525.10" r="1.6"/><circle cx="307.60" cy="529.80" r="1.6"/><circle cx="299.00" cy="535.60" r="1.6"/><circle cx="301.80" cy="543.70" r="1.6"/><circle cx="302.90" cy="550.70" r="1.6"/><circle cx="300.60" cy="556.50" r="1.6"/><circle cx="307.60" cy="554.20" r="1.6"/></g>
<text x="-0.60" y="432.50" font-size="18" text-anchor="start" font-weight="bold">c</text>
<text x="47.40" y="551.00" font-size="12" text-anchor="end" textLength="24.29" lengthAdjust="spacingAndGlyphs">1.00</text>
<text x="47.40" y="524.60" font-size="12" text-anchor="end" textLength="24.29" lengthAdjust="spacingAndGlyphs">1.05</text>
<text x="47.40" y="498.20" font-size="12" text-anchor="end" textLength="24.29" lengthAdjust="spacingAndGlyphs">1.10</text>
<text x="47.40" y="471.80" font-size="12" text-anchor="end" textLength="24.29" lengthAdjust="spacingAndGlyphs">1.15</text>
<text x="47.40" y="445.40" font-size="12" text-anchor="end" textLength="24.29" lengthAdjust="spacingAndGlyphs">1.20</text>
<text x="62.76" y="581.10" font-size="12" text-anchor="middle">850</text>
<text x="119.04" y="581.10" font-size="12" text-anchor="middle">900</text>
<text x="175.32" y="581.10" font-size="12" text-anchor="middle">950</text>
<text x="231.60" y="581.10" font-size="12" text-anchor="middle">1000</text>
<text x="287.89" y="581.10" font-size="12" text-anchor="middle">1050</text>
<text x="185.00" y="598.30" font-size="12" text-anchor="middle" textLength="94.55" lengthAdjust="spacingAndGlyphs">Wavelength (nm)</text>
<g transform="translate(10.4,495.8) rotate(-90)"><text x="0" y="0" font-size="12" text-anchor="middle"><tspan font-style="italic">I</tspan>(σ<tspan font-size="8" dy="-5">+</tspan><tspan dy="5">)/</tspan><tspan font-style="italic">I</tspan>(σ<tspan font-size="8" dy="-5">x</tspan><tspan dy="5">)</tspan></text></g>
<line x1="450.8" y1="211.3" x2="450.8" y2="413.3" stroke="#3a3a3a" stroke-width="1.3" stroke-dasharray="3.7,3.3"/>
<g clip-path="url(#clipE)">
<path d="M383.04,399.56 L383.36,399.29 L383.67,399.01 L383.98,398.73 L384.28,398.45 L384.58,398.17 L384.88,397.88 L385.17,397.59 L385.45,397.30 L385.73,397.01 L386.01,396.71 L386.28,396.41 L386.55,396.11 L386.81,395.81 L387.07,395.50 L387.33,395.19 L387.58,394.88 L387.83,394.57 L388.07,394.26 L388.31,393.94 L388.55,393.62 L388.78,393.30 L389.01,392.98 L389.24,392.65 L389.46,392.32 L389.68,392.00 L389.89,391.66 L390.11,391.33 L390.32,391.00 L390.52,390.66 L390.73,390.32 L390.93,389.98 L391.12,389.64 L391.32,389.30 L391.51,388.96 L391.70,388.61 L391.88,388.26 L392.06,387.91 L392.24,387.56 L392.42,387.21 L392.60,386.86 L392.77,386.50 L392.94,386.15 L393.11,385.79 L393.28,385.43 L393.44,385.07 L393.60,384.71 L393.76,384.35 L393.92,383.98 L394.07,383.62 L394.23,383.25 L394.38,382.89 L394.53,382.52 L394.68,382.15 L394.82,381.78 L394.97,381.41 L395.11,381.04 L395.25,380.67 L395.39,380.29 L395.53,379.92 L395.67,379.55 L395.80,379.17 L395.94,378.80 L396.07,378.42 L396.21,378.04 L396.34,377.66 L396.47,377.29 L396.60,376.91 L396.73,376.53 L396.86,376.15 L396.99,375.77 L397.11,375.39 L397.24,375.01 L397.37,374.63 L397.49,374.25 L397.62,373.87 L397.74,373.49 L397.86,373.11 L397.99,372.73 L398.11,372.35 L398.23,371.96 L398.35,371.58 L398.48,371.20 L398.60,370.82 L398.72,370.43 L398.84,370.05 L398.96,369.67 L399.07,369.28 L399.19,368.90 L399.31,368.52 L399.43,368.13 L399.54,367.75 L399.66,367.36 L399.77,366.98 L399.89,366.59 L400.00,366.21 L400.12,365.82 L400.23,365.44 L400.34,365.05 L400.46,364.66 L400.57,364.28 L400.68,363.89 L400.79,363.51 L400.90,363.12 L401.01,362.73 L401.12,362.34 L401.23,361.96 L401.34,361.57 L401.45,361.18 L401.55,360.79 L401.66,360.41 L401.77,360.02 L401.87,359.63 L401.98,359.24 L402.08,358.85 L402.19,358.46 L402.29,358.07 L402.39,357.69 L402.49,357.30 L402.60,356.91 L402.70,356.52 L402.80,356.13 L402.90,355.74 L403.00,355.35 L403.10,354.96 L403.20,354.57 L403.30,354.18 L403.40,353.78 L403.49,353.39 L403.59,353.00 L403.69,352.61 L403.78,352.22 L403.88,351.83 L403.97,351.44 L404.07,351.05 L404.16,350.65 L404.26,350.26 L404.35,349.87 L404.44,349.48 L404.53,349.09 L404.63,348.69 L404.72,348.30 L404.81,347.91 L404.90,347.52 L404.99,347.12 L405.08,346.73 L405.16,346.34 L405.25,345.94 L405.34,345.55 L405.43,345.16 L405.51,344.76 L405.60,344.37 L405.69,343.98 L405.77,343.58 L405.86,343.19 L405.94,342.80 L406.02,342.40 L406.11,342.01 L406.19,341.61 L406.27,341.22 L406.35,340.83 L406.43,340.43 L406.51,340.04 L406.59,339.64 L406.67,339.25 L406.75,338.85 L406.83,338.46 L406.91,338.06 L406.99,337.67 L407.07,337.27 L407.14,336.88 L407.22,336.48 L407.29,336.09 L407.37,335.69 L407.44,335.30 L407.52,334.90 L407.59,334.51 L407.67,334.11 L407.74,333.72 L407.81,333.32 L407.88,332.93 L407.95,332.53 L408.03,332.14 L408.10,331.74 L408.17,331.35 L408.24,330.95 L408.31,330.55 L408.37,330.16 L408.44,329.76 L408.51,329.37 L408.58,328.97 L408.64,328.58 L408.71,328.18 L408.78,327.78 L408.84,327.39 L408.91,326.99 L408.97,326.60 L409.04,326.20 L409.10,325.80 L409.17,325.41 L409.23,325.01 L409.29,324.62 L409.36,324.22 L409.42,323.82 L409.48,323.43 L409.54,323.03 L409.60,322.64 L409.66,322.24 L409.72,321.84 L409.78,321.45 L409.84,321.05 L409.90,320.65 L409.96,320.26 L410.02,319.86 L410.08,319.46 L410.14,319.07 L410.19,318.67 L410.25,318.27 L410.31,317.88 L410.37,317.48 L410.42,317.08 L410.48,316.69 L410.53,316.29 L410.59,315.89 L410.64,315.50 L410.70,315.10 L410.75,314.70 L410.81,314.31 L410.86,313.91 L410.92,313.51 L410.97,313.12 L411.02,312.72 L411.08,312.32 L411.13,311.92 L411.18,311.53 L411.23,311.13 L411.29,310.73 L411.34,310.34 L411.39,309.94 L411.44,309.54 L411.49,309.14 L411.54,308.75 L411.59,308.35 L411.64,307.95 L411.69,307.56 L411.74,307.16 L411.79,306.76 L411.84,306.36 L411.89,305.97 L411.94,305.57 L411.99,305.17 L412.04,304.77 L412.09,304.38 L412.14,303.98 L412.18,303.58 L412.23,303.18 L412.28,302.79 L412.33,302.39 L412.38,301.99 L412.42,301.59 L412.47,301.20 L412.52,300.80 L412.57,300.40 L412.61,300.00 L412.66,299.61 L412.71,299.21 L412.75,298.81 L412.80,298.41 L412.85,298.02 L412.89,297.62 L412.94,297.22 L412.98,296.82 L413.03,296.42 L413.07,296.03 L413.12,295.63 L413.17,295.23 L413.21,294.83 L413.26,294.44 L413.30,294.04 L413.35,293.64 L413.39,293.24 L413.44,292.85 L413.48,292.45 L413.53,292.05 L413.57,291.65 L413.62,291.25 L413.66,290.86 L413.71,290.46 L413.75,290.06 L413.80,289.66 L413.84,289.27 L413.89,288.87 L413.93,288.47 L413.98,288.07 L414.02,287.67 L414.07,287.28 L414.11,286.88 L414.16,286.48 L414.20,286.08 L414.24,285.68 L414.29,285.29 L414.33,284.89 L414.38,284.49 L414.42,284.09 L414.47,283.70 L414.51,283.30 L414.56,282.90 L414.60,282.50 L414.65,282.10 L414.69,281.71 L414.74,281.31 L414.78,280.91 L414.83,280.51 L414.87,280.12 L414.92,279.72 L414.96,279.32 L415.01,278.92 L415.06,278.52 L415.10,278.13 L415.15,277.73 L415.19,277.33 L415.24,276.93 L415.28,276.54 L415.33,276.14 L415.38,275.74 L415.42,275.34 L415.47,274.94 L415.52,274.55 L415.56,274.15 L415.61,273.75 L415.66,273.35 L415.70,272.96 L415.75,272.56 L415.80,272.16 L415.85,271.76 L415.89,271.37 L415.94,270.97 L415.99,270.57 L416.04,270.17 L416.09,269.78 L416.13,269.38 L416.18,268.98 L416.23,268.58 L416.28,268.19 L416.33,267.79 L416.38,267.39 L416.43,266.99 L416.48,266.60 L416.53,266.20 L416.58,265.80 L416.63,265.40 L416.68,265.01 L416.73,264.61 L416.78,264.21 L416.83,263.81 L416.89,263.42 L416.94,263.02 L416.99,262.62 L417.04,262.23 L417.09,261.83 L417.15,261.43 L417.20,261.03 L417.25,260.64 L417.31,260.24 L417.36,259.84 L417.42,259.45 L417.47,259.05 L417.52,258.65 L417.58,258.25 L417.64,257.86 L417.69,257.46 L417.75,257.06 L417.80,256.67 L417.86,256.27 L417.92,255.87 L417.97,255.48 L418.03,255.08 L418.09,254.68 L418.15,254.29 L418.20,253.89 L418.26,253.49 L418.32,253.10 L418.38,252.70 L418.44,252.30 L418.50,251.91 L418.56,251.51 L418.62,251.11 L418.68,250.72 L418.75,250.32 L418.81,249.92 L418.87,249.53 L418.93,249.13 L419.00,248.73 L419.06,248.34 L419.12,247.94 L419.19,247.54 L419.25,247.15 L419.32,246.75 L419.38,246.36 L419.45,245.96 L419.52,245.56 L419.58,245.17 L419.65,244.77 L420.20,244.50 L420.67,244.81 L420.71,245.21 L420.74,245.61 L420.77,246.01 L420.80,246.41 L420.83,246.82 L420.87,247.22 L420.90,247.62 L420.93,248.02 L420.96,248.42 L420.99,248.82 L421.02,249.22 L421.06,249.63 L421.09,250.03 L421.12,250.43 L421.15,250.83 L421.18,251.23 L421.21,251.63 L421.24,252.03 L421.27,252.43 L421.30,252.84 L421.33,253.24 L421.36,253.64 L421.39,254.04 L421.42,254.44 L421.45,254.84 L421.48,255.24 L421.51,255.64 L421.54,256.04 L421.57,256.44 L421.60,256.84 L421.63,257.25 L421.66,257.65 L421.69,258.05 L421.72,258.45 L421.75,258.85 L421.78,259.25 L421.81,259.65 L421.84,260.05 L421.87,260.45 L421.90,260.85 L421.92,261.25 L421.95,261.65 L421.98,262.05 L422.01,262.45 L422.04,262.85 L422.07,263.25 L422.10,263.65 L422.12,264.05 L422.15,264.45 L422.18,264.85 L422.21,265.25 L422.24,265.65 L422.27,266.05 L422.29,266.45 L422.32,266.85 L422.35,267.25 L422.38,267.65 L422.40,268.05 L422.43,268.45 L422.46,268.85 L422.49,269.25 L422.52,269.65 L422.54,270.05 L422.57,270.45 L422.60,270.85 L422.63,271.25 L422.65,271.65 L422.68,272.05 L422.71,272.45 L422.74,272.85 L422.76,273.25 L422.79,273.65 L422.82,274.05 L422.84,274.45 L422.87,274.85 L422.90,275.25 L422.93,275.65 L422.95,276.04 L422.98,276.44 L423.01,276.84 L423.03,277.24 L423.06,277.64 L423.09,278.04 L423.12,278.44 L423.14,278.84 L423.17,279.24 L423.20,279.64 L423.22,280.04 L423.25,280.44 L423.28,280.84 L423.30,281.24 L423.33,281.63 L423.36,282.03 L423.38,282.43 L423.41,282.83 L423.44,283.23 L423.47,283.63 L423.49,284.03 L423.52,284.43 L423.55,284.83 L423.57,285.23 L423.60,285.63 L423.63,286.02 L423.65,286.42 L423.68,286.82 L423.71,287.22 L423.73,287.62 L423.76,288.02 L423.79,288.42 L423.81,288.82 L423.84,289.22 L423.87,289.62 L423.89,290.01 L423.92,290.41 L423.95,290.81 L423.98,291.21 L424.00,291.61 L424.03,292.01 L424.06,292.41 L424.08,292.81 L424.11,293.21 L424.14,293.60 L424.16,294.00 L424.19,294.40 L424.22,294.80 L424.25,295.20 L424.27,295.60 L424.30,296.00 L424.33,296.40 L424.36,296.79 L424.38,297.19 L424.41,297.59 L424.44,297.99 L424.46,298.39 L424.49,298.79 L424.52,299.19 L424.55,299.59 L424.58,299.99 L424.60,300.38 L424.63,300.78 L424.66,301.18 L424.69,301.58 L424.71,301.98 L424.74,302.38 L424.77,302.78 L424.80,303.18 L424.83,303.58 L424.85,303.97 L424.88,304.37 L424.91,304.77 L424.94,305.17 L424.97,305.57 L425.00,305.97 L425.02,306.37 L425.05,306.77 L425.08,307.17 L425.11,307.56 L425.14,307.96 L425.17,308.36 L425.20,308.76 L425.22,309.16 L425.25,309.56 L425.28,309.96 L425.31,310.36 L425.34,310.76 L425.37,311.15 L425.40,311.55 L425.43,311.95 L425.46,312.35 L425.49,312.75 L425.52,313.15 L425.55,313.55 L425.58,313.95 L425.61,314.35 L425.64,314.75 L425.67,315.14 L425.70,315.54 L425.73,315.94 L425.76,316.34 L425.79,316.74 L425.82,317.14 L425.85,317.54 L425.88,317.94 L425.91,318.34 L425.94,318.74 L425.97,319.14 L426.00,319.54 L426.04,319.94 L426.07,320.33 L426.10,320.73 L426.13,321.13 L426.16,321.53 L426.19,321.93 L426.22,322.33 L426.26,322.73 L426.29,323.13 L426.32,323.53 L426.35,323.93 L426.39,324.33 L426.42,324.73 L426.45,325.13 L426.48,325.53 L426.52,325.93 L426.55,326.33 L426.58,326.73 L426.62,327.13 L426.65,327.53 L426.68,327.92 L426.72,328.32 L426.75,328.72 L426.78,329.12 L426.82,329.52 L426.85,329.92 L426.89,330.32 L426.92,330.72 L426.95,331.12 L426.99,331.52 L427.02,331.92 L427.06,332.32 L427.09,332.72 L427.13,333.12 L427.16,333.52 L427.20,333.92 L427.23,334.32 L427.27,334.72 L427.31,335.12 L427.34,335.52 L427.38,335.92 L427.41,336.32 L427.45,336.72 L427.49,337.12 L427.52,337.53 L427.56,337.93 L427.60,338.33 L427.63,338.73 L427.67,339.13 L427.71,339.53 L427.75,339.93 L427.79,340.33 L427.82,340.73 L427.86,341.13 L427.90,341.53 L427.94,341.93 L427.98,342.33 L428.02,342.73 L428.05,343.13 L428.09,343.53 L428.13,343.94 L428.17,344.34 L428.21,344.74 L428.25,345.14 L428.29,345.54 L428.33,345.94 L428.37,346.34 L428.41,346.74 L428.45,347.14 L428.49,347.55 L428.53,347.95 L428.58,348.35 L428.62,348.75 L428.66,349.15 L428.70,349.55 L428.74,349.95 L428.78,350.35 L428.83,350.76 L428.87,351.16 L428.91,351.56 L428.96,351.96 L429.00,352.36 L429.04,352.76 L429.09,353.16 L429.13,353.57 L429.18,353.97 L429.22,354.37 L429.27,354.77 L429.32,355.17 L429.36,355.57 L429.41,355.97 L429.46,356.37 L429.50,356.78 L429.55,357.18 L429.60,357.58 L429.65,357.98 L429.70,358.38 L429.75,358.78 L429.80,359.18 L429.85,359.58 L429.91,359.98 L429.96,360.38 L430.01,360.78 L430.06,361.18 L430.12,361.58 L430.17,361.98 L430.23,362.38 L430.29,362.78 L430.34,363.18 L430.40,363.58 L430.46,363.98 L430.52,364.38 L430.58,364.78 L430.64,365.17 L430.70,365.57 L430.76,365.97 L430.82,366.37 L430.88,366.77 L430.95,367.16 L431.01,367.56 L431.08,367.96 L431.14,368.36 L431.21,368.75 L431.28,369.15 L431.35,369.55 L431.42,369.94 L431.49,370.34 L431.56,370.73 L431.63,371.13 L431.71,371.52 L431.78,371.92 L431.85,372.31 L431.93,372.71 L432.01,373.10 L432.09,373.50 L432.16,373.89 L432.24,374.28 L432.32,374.68 L432.41,375.07 L432.49,375.46 L432.57,375.85 L432.66,376.25 L432.74,376.64 L432.83,377.03 L432.92,377.42 L433.01,377.81 L433.10,378.20 L433.19,378.59 L433.28,378.98 L433.38,379.37 L433.47,379.76 L433.57,380.15 L433.67,380.54 L433.77,380.92 L433.87,381.31 L433.97,381.70 L434.07,382.08 L434.17,382.47 L434.28,382.86 L434.38,383.24 L434.49,383.63 L434.60,384.01 L434.71,384.40 L434.82,384.78 L434.94,385.17 L435.05,385.55 L435.17,385.93 L435.28,386.31 L435.40,386.70 L435.52,387.08 L435.64,387.46 L435.76,387.84 L435.89,388.22 L436.02,388.60 L436.14,388.97 L436.27,389.35 L436.40,389.73 L436.54,390.10 L436.67,390.48 L436.81,390.85 L436.95,391.23 L437.09,391.60 L437.23,391.97 L437.37,392.34 L437.52,392.71 L437.66,393.08 L437.81,393.45 L437.97,393.82 L438.12,394.18 L438.27,394.55 L438.43,394.91 L438.59,395.27 L438.75,395.64 L438.92,396.00 L439.09,396.36 L439.25,396.71 L439.43,397.07 L439.60,397.43 L439.77,397.78 L439.95,398.13 L440.13,398.48 L440.32,398.83 L440.50,399.18 L440.69,399.53 L440.88,399.88 L441.07,400.22 L441.27,400.56 L441.46,400.91 L441.67,401.24 L441.87,401.58 L442.07,401.92 L442.28,402.25 L442.49,402.59 L442.71,402.92 L442.93,403.25 L443.15,403.58 L443.37,403.90 L443.59,404.23 L443.82,404.55 L444.05,404.87 L444.29,405.19 L444.53,405.51 L444.77,405.82 L445.01,406.14 L445.26,406.45 L445.51,406.76 L445.76,407.06 L446.01,407.37 L446.27,407.67 L446.54,407.97 L446.80,408.27 L447.07,408.57 L447.34,408.86 L447.62,409.15 L447.90,409.44 L448.18,409.73 L448.47,410.01 L448.76,410.30 L449.05,410.58 L449.35,410.86 L449.65,411.13 L449.95,411.40 L450.26,411.68" fill="none" stroke="#f7267f" stroke-width="1.15" stroke-linejoin="round"/>
<path d="M451.06,392.68 L451.48,393.25 L451.91,393.73 L452.37,394.28 L452.84,395.62 L453.32,395.68 L453.81,396.15 L454.32,396.83 L454.85,397.36 L455.38,398.18 L455.93,398.21 L456.49,399.27 L457.06,398.77 L457.64,399.61 L458.23,399.43 L458.83,400.58 L459.44,400.21 L460.05,400.54 L460.68,401.06 L461.31,401.35 L461.95,400.81 L462.60,401.18 L463.25,400.99 L463.91,401.54 L464.58,401.54 L465.25,401.52 L465.92,401.44 L466.60,401.54 L467.28,401.42 L467.97,401.77 L468.65,402.01 L469.34,400.90 L470.03,401.36 L470.72,401.16 L471.41,401.31 L472.10,400.74 L472.80,400.83 L473.49,400.40 L474.17,400.74 L474.86,400.37 L475.55,400.09 L476.23,400.03 L476.91,399.62 L477.58,398.99 L478.25,399.39 L478.92,399.04 L479.58,398.64 L480.23,398.72 L480.88,398.51 L481.53,397.53 L482.17,397.33 L482.80,397.72 L483.44,397.37 L484.06,396.41 L484.69,395.95 L485.30,395.79 L485.92,395.49 L486.52,394.82 L487.13,394.95 L487.73,394.20 L488.32,393.86 L488.92,394.13 L489.50,393.27 L490.09,393.07 L490.67,392.89 L491.24,392.55 L491.81,391.81 L492.38,391.51 L492.94,390.84 L493.51,391.20 L494.06,390.45 L494.61,389.49 L495.16,389.39 L495.71,389.17 L496.25,388.66 L496.79,388.62 L497.33,388.03 L497.86,387.00 L498.39,386.68 L498.92,385.86 L499.44,385.85 L499.96,385.35 L500.48,385.64 L500.99,384.38 L501.50,383.24 L502.01,383.18 L502.52,382.93 L503.02,382.02 L503.52,381.65 L504.02,381.30 L504.51,381.01 L505.01,380.36 L505.50,379.63 L505.99,379.63 L506.47,378.72 L506.96,378.22 L507.44,377.44 L507.92,377.10 L508.39,377.01 L508.86,375.80 L509.33,375.74 L509.80,375.45 L510.27,374.59 L510.73,374.24 L511.19,373.30 L511.65,373.49 L512.10,372.89 L512.55,372.09 L513.00,370.94 L513.45,370.61 L513.89,370.67 L514.33,370.34 L514.76,369.36 L515.20,369.09 L515.63,367.97 L516.06,367.54 L516.48,367.03 L516.90,366.59 L517.32,365.44 L517.74,365.61 L518.15,365.15 L518.56,363.84 L518.97,363.20 L519.37,363.14 L519.77,362.26 L520.17,361.16 L520.56,361.53 L520.95,360.75 L521.34,359.97 L521.72,360.16 L522.10,358.98 L522.48,358.11 L522.85,357.78 L523.22,356.84 L523.59,356.32 L523.95,356.07 L524.31,355.18 L524.67,354.61 L525.02,354.64 L525.37,353.79 L525.71,353.16 L526.05,352.47 L526.39,351.84 L526.72,351.52 L527.06,350.46 L527.38,350.40 L527.70,348.94 L528.02,348.53 L528.34,347.57 L528.65,347.26 L528.96,346.89 L529.26,346.54 L529.56,345.28 L529.86,344.85 L530.15,344.11 L530.44,343.36 L530.73,342.59 L531.01,342.33 L531.29,341.15 L531.56,341.07 L531.84,340.40 L532.11,339.55 L532.37,338.81 L532.63,338.05 L532.89,338.38 L533.15,336.77 L533.41,336.99 L533.66,336.05 L533.91,335.11 L534.15,334.22 L534.40,334.23 L534.64,333.78 L534.88,332.33 L535.11,331.86 L535.34,331.61 L535.58,330.74 L535.81,330.58 L536.03,329.15 L536.26,328.82 L536.48,327.62 L536.70,327.96 L536.92,326.45 L537.14,325.34 L537.35,325.30 L537.57,324.63 L537.78,324.57 L537.99,323.23 L538.20,322.66 L538.41,322.17 L538.61,321.80 L538.82,320.63 L539.02,320.29 L539.22,319.46 L539.43,318.54 L539.63,317.98 L539.83,317.29 L540.02,316.33 L540.22,316.29 L540.42,314.83 L540.62,314.92 L540.81,314.18 L541.01,313.19 L541.20,312.30 L541.40,311.79 L541.59,311.32 L541.78,310.72 L541.98,309.90 L542.17,309.43 L542.36,308.29 L542.56,307.85 L542.75,306.63 L542.94,306.64 L543.14,305.78 L543.33,304.93 L543.53,304.72 L543.72,303.90 L543.92,302.17 L544.11,302.35 L544.31,301.22 L544.51,301.30 L544.71,301.05 L544.91,299.47 L545.11,298.97 L545.31,298.19 L545.51,297.70 L545.72,297.11 L545.92,296.63 L546.13,295.27 L546.34,295.36 L546.55,293.94 L546.76,293.63 L546.97,293.22 L547.19,292.42 L547.40,291.25 L547.62,290.65 L547.84,290.06 L548.06,289.51 L548.29,289.21 L548.51,287.81 L548.74,287.68 L548.97,287.06 L549.21,286.38 L549.44,285.69 L549.68,285.35 L549.92,284.38 L550.17,283.84 L550.41,283.10 L550.66,282.81 L550.92,281.05 L551.17,281.36 L551.43,280.25 L551.69,279.59 L551.96,278.74 L552.22,277.83 L552.49,277.63 L552.77,276.90 L553.05,276.62 L553.33,275.39 L553.62,275.63 L553.90,274.65 L554.20,273.86 L554.49,273.10 L554.80,272.45 L555.10,271.72 L555.41,271.27 L555.72,270.82 L556.04,270.15 L556.36,269.16 L556.69,268.89 L557.02,268.10 L557.35,267.80 L557.69,267.71 L558.04,266.73 L558.38,265.85 L558.74,264.86 L559.10,264.33 L559.46,263.66 L559.83,263.79 L560.20,262.76 L560.59,262.45 L560.98,261.72 L561.39,261.48 L561.82,261.50 L562.26,260.60 L562.74,260.55 L563.24,260.40 L563.77,261.06 L564.33,260.80 L564.90,261.23 L565.49,261.73 L566.07,262.39 L566.63,263.68 L567.15,265.05 L567.63,264.73 L568.05,266.03 L568.42,266.52 L568.75,266.78 L569.05,267.69 L569.31,268.34 L569.56,268.84 L569.79,270.26 L570.03,269.74 L570.26,271.06 L570.48,271.69 L570.71,272.05 L570.94,272.92 L571.16,273.78 L571.38,274.21 L571.60,274.95 L571.82,275.68 L572.04,275.52 L572.26,277.23 L572.48,278.14 L572.69,278.41 L572.90,279.08 L573.12,279.02 L573.33,280.08 L573.54,280.54 L573.74,281.28 L573.95,282.42 L574.15,282.56 L574.36,283.44 L574.56,283.58 L574.76,284.78 L574.96,285.54 L575.16,285.98 L575.36,286.65 L575.55,288.12 L575.75,287.87 L575.94,288.60 L576.13,289.36 L576.32,290.64 L576.51,291.60 L576.70,291.75 L576.89,292.12 L577.07,292.89 L577.26,294.02 L577.44,294.11 L577.62,295.50 L577.80,296.17 L577.98,296.45 L578.16,297.31 L578.34,298.02 L578.51,298.95 L578.69,298.85 L578.86,300.20 L579.04,300.41 L579.21,300.98 L579.38,301.92 L579.55,302.50 L579.72,302.95 L579.88,303.45 L580.05,304.33 L580.22,305.73 L580.38,306.56 L580.55,306.85 L580.71,307.69 L580.88,307.86 L581.04,308.67 L581.20,309.46 L581.37,309.73 L581.53,310.43 L581.69,311.44 L581.85,311.99 L582.01,312.45 L582.17,313.56 L582.33,314.05 L582.48,315.11 L582.64,315.48 L582.80,316.07 L582.96,316.88 L583.12,317.47 L583.27,318.00 L583.43,318.75 L583.59,319.78 L583.74,320.43 L583.90,321.30 L584.06,321.08 L584.22,322.15 L584.37,322.82 L584.53,323.68 L584.69,324.17 L584.84,324.83 L585.00,325.89 L585.16,326.39 L585.31,326.67 L585.47,328.09 L585.63,328.67 L585.79,328.88 L585.95,329.98 L586.11,330.19 L586.27,331.42 L586.42,331.70 L586.58,332.20 L586.75,333.01 L586.91,333.57 L587.07,334.54 L587.23,335.21 L587.39,335.85 L587.56,336.35 L587.72,336.10 L587.89,337.90 L588.05,337.99 L588.22,339.31 L588.38,340.25 L588.55,340.68 L588.72,341.16 L588.89,341.90 L589.06,342.60 L589.23,343.15 L589.41,343.82 L589.58,344.40 L589.75,345.71 L589.93,346.03 L590.11,347.01 L590.28,347.33 L590.46,348.11 L590.64,348.71 L590.82,349.59 L591.01,350.38 L591.19,350.88 L591.38,351.29 L591.56,351.94 L591.75,353.36 L591.94,353.46 L592.13,354.14 L592.32,355.35 L592.52,355.92 L592.71,356.44 L592.91,356.84 L593.11,358.35 L593.31,358.45 L593.51,359.18 L593.72,359.64 L593.92,359.95 L594.13,360.66 L594.35,361.86 L594.56,362.53 L594.78,363.02 L595.00,363.42 L595.22,364.02 L595.44,365.03 L595.67,365.36 L595.90,366.74 L596.14,367.49 L596.37,368.66 L596.61,368.75 L596.86,368.97 L597.11,369.55 L597.36,369.44 L597.61,370.96 L597.87,371.74 L598.13,372.74 L598.39,373.29 L598.66,373.93 L598.94,374.47 L599.21,375.25 L599.50,376.13 L599.78,376.02 L600.07,376.84 L600.37,377.20 L600.66,378.73 L600.97,379.27 L601.28,379.73 L601.59,379.77 L601.91,380.80 L602.23,381.29 L602.56,382.00 L602.89,382.53 L603.23,383.35 L603.57,383.68 L603.92,384.65 L604.27,385.06 L604.63,385.49 L605.00,386.13 L605.37,386.61 L605.75,387.56 L606.13,387.81 L606.52,388.55 L606.91,388.91 L607.31,389.14 L607.72,390.41 L608.13,390.37 L608.55,391.44 L608.98,391.90 L609.41,391.81 L609.85,392.55 L610.30,393.20 L610.75,393.63 L611.21,394.03 L611.68,395.12 L612.15,395.32 L612.63,396.01 L613.12,396.25 L613.62,396.96 L614.12,397.12 L614.63,397.81 L615.15,398.45 L615.67,398.75 L616.21,399.05 L616.75,399.31 L617.29,400.12 L617.85,400.61 L618.41,400.85 L618.98,401.12 L619.55,401.92 L620.13,402.91 L620.72,402.47 L621.31,403.05 L621.91,403.44 L622.51,402.93 L623.12,404.10 L623.73,404.21 L624.35,405.19 L624.97,405.03 L625.60,405.21 L626.23,405.70 L626.87,406.13 L627.51,406.21 L628.15,406.66 L628.80,406.56 L629.45,407.17 L630.11,407.74 L630.77,408.36 L631.43,408.23 L632.09,408.34 L632.76,408.84 L633.43,409.01 L634.10,409.41 L634.78,409.43 L635.46,409.26 L636.13,409.55 L636.82,409.69 L637.50,409.89 L638.18,410.00 L638.87,409.84 L639.55,409.56 L640.24,410.10 L640.93,409.80 L641.61,410.51 L642.30,410.57 L642.99,410.13" fill="none" stroke="#f7267f" stroke-width="1.15" stroke-linejoin="round"/>
<path d="M383.23,401.40 L383.53,401.12 L383.82,400.83 L384.11,400.54 L384.40,400.25 L384.68,399.96 L384.96,399.67 L385.23,399.37 L385.51,399.07 L385.77,398.77 L386.04,398.47 L386.30,398.17 L386.57,397.86 L386.82,397.56 L387.08,397.25 L387.33,396.94 L387.58,396.63 L387.82,396.31 L388.07,396.00 L388.31,395.68 L388.55,395.36 L388.78,395.04 L389.01,394.72 L389.24,394.39 L389.47,394.07 L389.70,393.74 L389.92,393.41 L390.14,393.08 L390.35,392.75 L390.57,392.42 L390.78,392.08 L390.99,391.75 L391.20,391.41 L391.40,391.07 L391.61,390.73 L391.81,390.39 L392.01,390.05 L392.20,389.70 L392.40,389.36 L392.59,389.01 L392.78,388.66 L392.97,388.32 L393.15,387.97 L393.34,387.61 L393.52,387.26 L393.70,386.91 L393.88,386.55 L394.05,386.20 L394.23,385.84 L394.40,385.48 L394.57,385.13 L394.74,384.77 L394.91,384.41 L395.07,384.04 L395.24,383.68 L395.40,383.32 L395.56,382.95 L395.72,382.59 L395.88,382.22 L396.03,381.86 L396.19,381.49 L396.34,381.12 L396.49,380.75 L396.64,380.38 L396.79,380.01 L396.94,379.64 L397.09,379.27 L397.23,378.89 L397.38,378.52 L397.52,378.15 L397.66,377.77 L397.80,377.40 L397.94,377.02 L398.08,376.65 L398.22,376.27 L398.36,375.89 L398.49,375.52 L398.63,375.14 L398.76,374.76 L398.89,374.38 L399.03,374.00 L399.16,373.62 L399.29,373.24 L399.42,372.86 L399.55,372.48 L399.68,372.10 L399.80,371.72 L399.93,371.34 L400.05,370.96 L400.18,370.58 L400.30,370.19 L400.43,369.81 L400.55,369.43 L400.67,369.04 L400.79,368.66 L400.91,368.28 L401.03,367.89 L401.15,367.51 L401.27,367.12 L401.38,366.74 L401.50,366.35 L401.62,365.97 L401.73,365.58 L401.84,365.19 L401.96,364.81 L402.07,364.42 L402.18,364.03 L402.29,363.64 L402.40,363.26 L402.51,362.87 L402.62,362.48 L402.73,362.09 L402.84,361.70 L402.95,361.31 L403.05,360.92 L403.16,360.53 L403.26,360.14 L403.37,359.75 L403.47,359.36 L403.57,358.97 L403.68,358.58 L403.78,358.19 L403.88,357.80 L403.98,357.41 L404.08,357.01 L404.18,356.62 L404.28,356.23 L404.37,355.84 L404.47,355.45 L404.57,355.05 L404.66,354.66 L404.76,354.27 L404.86,353.87 L404.95,353.48 L405.04,353.09 L405.14,352.69 L405.23,352.30 L405.32,351.91 L405.41,351.51 L405.50,351.12 L405.59,350.72 L405.68,350.33 L405.77,349.93 L405.86,349.54 L405.95,349.14 L406.04,348.75 L406.13,348.35 L406.21,347.96 L406.30,347.56 L406.39,347.17 L406.47,346.77 L406.56,346.37 L406.64,345.98 L406.73,345.58 L406.81,345.19 L406.89,344.79 L406.97,344.39 L407.06,344.00 L407.14,343.60 L407.22,343.21 L407.30,342.81 L407.38,342.41 L407.46,342.02 L407.54,341.62 L407.62,341.22 L407.70,340.83 L407.78,340.43 L407.86,340.03 L407.93,339.64 L408.01,339.24 L408.09,338.84 L408.16,338.45 L408.24,338.05 L408.32,337.65 L408.39,337.25 L408.47,336.86 L408.54,336.46 L408.62,336.06 L408.69,335.67 L408.76,335.27 L408.84,334.87 L408.91,334.48 L408.98,334.08 L409.05,333.68 L409.13,333.29 L409.20,332.89 L409.27,332.49 L409.34,332.10 L409.41,331.70 L409.48,331.30 L409.55,330.91 L409.62,330.51 L409.69,330.11 L409.76,329.72 L409.83,329.32 L409.90,328.92 L409.97,328.53 L410.04,328.13 L410.11,327.73 L410.17,327.34 L410.24,326.94 L410.31,326.55 L410.38,326.15 L410.44,325.75 L410.51,325.36 L410.58,324.96 L410.64,324.56 L410.71,324.17 L410.77,323.77 L410.84,323.38 L410.90,322.98 L410.97,322.58 L411.03,322.19 L411.10,321.79 L411.16,321.39 L411.23,321.00 L411.29,320.60 L411.35,320.21 L411.42,319.81 L411.48,319.41 L411.54,319.02 L411.61,318.62 L411.67,318.22 L411.73,317.83 L411.79,317.43 L411.86,317.04 L411.92,316.64 L411.98,316.24 L412.04,315.85 L412.10,315.45 L412.16,315.06 L412.22,314.66 L412.28,314.26 L412.35,313.87 L412.41,313.47 L412.47,313.08 L412.53,312.68 L412.59,312.28 L412.65,311.89 L412.71,311.49 L412.77,311.09 L412.83,310.70 L412.88,310.30 L412.94,309.91 L413.00,309.51 L413.06,309.11 L413.12,308.72 L413.18,308.32 L413.24,307.93 L413.30,307.53 L413.35,307.13 L413.41,306.74 L413.47,306.34 L413.53,305.94 L413.59,305.55 L413.64,305.15 L413.70,304.76 L413.76,304.36 L413.82,303.96 L413.87,303.57 L413.93,303.17 L413.99,302.77 L414.05,302.38 L414.10,301.98 L414.16,301.59 L414.22,301.19 L414.27,300.79 L414.33,300.40 L414.39,300.00 L414.45,299.60 L414.50,299.21 L414.56,298.81 L414.62,298.42 L414.67,298.02 L414.73,297.62 L414.78,297.23 L414.84,296.83 L414.90,296.43 L414.95,296.04 L415.01,295.64 L415.07,295.24 L415.12,294.85 L415.18,294.45 L415.24,294.05 L415.29,293.66 L415.35,293.26 L415.40,292.86 L415.46,292.47 L415.52,292.07 L415.57,291.67 L415.63,291.28 L415.69,290.88 L415.74,290.48 L415.80,290.09 L415.85,289.69 L415.91,289.29 L415.97,288.90 L416.02,288.50 L416.08,288.10 L416.14,287.70 L416.19,287.31 L416.25,286.91 L416.31,286.51 L416.36,286.12 L416.42,285.72 L416.48,285.32 L416.53,284.92 L416.59,284.53 L416.65,284.13 L416.70,283.73 L416.76,283.33 L416.82,282.94 L416.87,282.54 L416.93,282.14 L416.99,281.74 L417.05,281.35 L417.10,280.95 L417.16,280.55 L417.22,280.15 L417.28,279.76 L417.33,279.36 L417.39,278.96 L417.45,278.56 L417.51,278.17 L417.57,277.77 L417.63,277.37 L417.68,276.97 L417.74,276.57 L417.80,276.18 L417.86,275.78 L417.92,275.38 L417.98,274.98 L418.04,274.58 L418.10,274.18 L418.16,273.79 L418.22,273.39 L418.28,272.99 L418.34,272.59 L418.40,272.19 L418.46,271.79 L418.52,271.40 L418.58,271.00 L418.64,270.60 L418.70,270.20 L418.76,269.80 L418.82,269.40 L418.88,269.00 L418.94,268.60 L419.00,268.20 L419.07,267.81 L419.13,267.41 L419.19,267.01 L419.25,266.61 L419.32,266.21 L419.38,265.81 L419.44,265.41 L419.50,265.01 L419.57,264.61 L419.63,264.21 L419.70,263.81 L419.76,263.41 L419.82,263.01 L420.20,262.70 L420.56,263.00 L420.60,263.41 L420.64,263.81 L420.67,264.21 L420.71,264.62 L420.75,265.02 L420.78,265.42 L420.82,265.82 L420.86,266.23 L420.89,266.63 L420.93,267.03 L420.97,267.43 L421.00,267.84 L421.04,268.24 L421.07,268.64 L421.11,269.04 L421.15,269.44 L421.18,269.85 L421.22,270.25 L421.25,270.65 L421.29,271.05 L421.32,271.45 L421.36,271.85 L421.39,272.26 L421.43,272.66 L421.46,273.06 L421.50,273.46 L421.53,273.86 L421.56,274.26 L421.60,274.66 L421.63,275.06 L421.67,275.46 L421.70,275.86 L421.73,276.27 L421.77,276.67 L421.80,277.07 L421.84,277.47 L421.87,277.87 L421.90,278.27 L421.94,278.67 L421.97,279.07 L422.00,279.47 L422.04,279.87 L422.07,280.27 L422.10,280.67 L422.14,281.07 L422.17,281.47 L422.20,281.87 L422.23,282.27 L422.27,282.67 L422.30,283.07 L422.33,283.47 L422.36,283.87 L422.40,284.27 L422.43,284.67 L422.46,285.07 L422.49,285.47 L422.53,285.86 L422.56,286.26 L422.59,286.66 L422.62,287.06 L422.66,287.46 L422.69,287.86 L422.72,288.26 L422.75,288.66 L422.78,289.06 L422.82,289.46 L422.85,289.86 L422.88,290.25 L422.91,290.65 L422.94,291.05 L422.98,291.45 L423.01,291.85 L423.04,292.25 L423.07,292.65 L423.10,293.05 L423.13,293.44 L423.17,293.84 L423.20,294.24 L423.23,294.64 L423.26,295.04 L423.29,295.44 L423.33,295.84 L423.36,296.23 L423.39,296.63 L423.42,297.03 L423.45,297.43 L423.48,297.83 L423.52,298.23 L423.55,298.62 L423.58,299.02 L423.61,299.42 L423.64,299.82 L423.67,300.22 L423.71,300.61 L423.74,301.01 L423.77,301.41 L423.80,301.81 L423.83,302.21 L423.86,302.60 L423.90,303.00 L423.93,303.40 L423.96,303.80 L423.99,304.20 L424.02,304.59 L424.06,304.99 L424.09,305.39 L424.12,305.79 L424.15,306.19 L424.18,306.58 L424.22,306.98 L424.25,307.38 L424.28,307.78 L424.31,308.17 L424.35,308.57 L424.38,308.97 L424.41,309.37 L424.44,309.77 L424.48,310.16 L424.51,310.56 L424.54,310.96 L424.57,311.36 L424.61,311.75 L424.64,312.15 L424.67,312.55 L424.70,312.95 L424.74,313.35 L424.77,313.74 L424.80,314.14 L424.84,314.54 L424.87,314.94 L424.90,315.33 L424.94,315.73 L424.97,316.13 L425.00,316.53 L425.04,316.93 L425.07,317.32 L425.10,317.72 L425.14,318.12 L425.17,318.52 L425.21,318.91 L425.24,319.31 L425.27,319.71 L425.31,320.11 L425.34,320.51 L425.38,320.90 L425.41,321.30 L425.45,321.70 L425.48,322.10 L425.52,322.50 L425.55,322.89 L425.59,323.29 L425.62,323.69 L425.66,324.09 L425.69,324.49 L425.73,324.88 L425.76,325.28 L425.80,325.68 L425.83,326.08 L425.87,326.48 L425.91,326.87 L425.94,327.27 L425.98,327.67 L426.01,328.07 L426.05,328.47 L426.09,328.87 L426.12,329.26 L426.16,329.66 L426.20,330.06 L426.24,330.46 L426.27,330.86 L426.31,331.26 L426.35,331.65 L426.38,332.05 L426.42,332.45 L426.46,332.85 L426.50,333.25 L426.54,333.65 L426.58,334.05 L426.61,334.44 L426.65,334.84 L426.69,335.24 L426.73,335.64 L426.77,336.04 L426.81,336.44 L426.85,336.84 L426.89,337.24 L426.93,337.64 L426.97,338.03 L427.01,338.43 L427.05,338.83 L427.09,339.23 L427.13,339.63 L427.17,340.03 L427.21,340.43 L427.25,340.83 L427.29,341.23 L427.33,341.63 L427.38,342.03 L427.42,342.43 L427.46,342.83 L427.50,343.23 L427.54,343.63 L427.59,344.03 L427.63,344.43 L427.67,344.83 L427.71,345.23 L427.76,345.63 L427.80,346.03 L427.84,346.43 L427.89,346.83 L427.93,347.23 L427.98,347.63 L428.02,348.03 L428.07,348.43 L428.11,348.83 L428.16,349.23 L428.20,349.63 L428.25,350.03 L428.29,350.43 L428.34,350.83 L428.38,351.23 L428.43,351.63 L428.48,352.03 L428.52,352.44 L428.57,352.84 L428.62,353.24 L428.66,353.64 L428.71,354.04 L428.76,354.44 L428.81,354.84 L428.86,355.25 L428.90,355.65 L428.95,356.05 L429.00,356.45 L429.05,356.85 L429.10,357.25 L429.15,357.66 L429.20,358.06 L429.25,358.46 L429.30,358.86 L429.35,359.26 L429.40,359.67 L429.45,360.07 L429.51,360.47 L429.56,360.87 L429.61,361.28 L429.66,361.68 L429.72,362.08 L429.77,362.48 L429.83,362.88 L429.88,363.29 L429.94,363.69 L429.99,364.09 L430.05,364.49 L430.11,364.89 L430.17,365.29 L430.22,365.70 L430.28,366.10 L430.34,366.50 L430.40,366.90 L430.47,367.30 L430.53,367.70 L430.59,368.10 L430.65,368.50 L430.72,368.90 L430.78,369.30 L430.85,369.70 L430.92,370.10 L430.98,370.50 L431.05,370.90 L431.12,371.29 L431.19,371.69 L431.26,372.09 L431.33,372.49 L431.41,372.88 L431.48,373.28 L431.56,373.68 L431.63,374.07 L431.71,374.47 L431.79,374.87 L431.87,375.26 L431.95,375.66 L432.03,376.05 L432.11,376.44 L432.19,376.84 L432.28,377.23 L432.36,377.62 L432.45,378.01 L432.54,378.41 L432.63,378.80 L432.72,379.19 L432.81,379.58 L432.91,379.97 L433.00,380.36 L433.10,380.75 L433.19,381.14 L433.29,381.52 L433.39,381.91 L433.49,382.30 L433.60,382.68 L433.70,383.07 L433.81,383.45 L433.91,383.84 L434.02,384.22 L434.13,384.61 L434.25,384.99 L434.36,385.37 L434.47,385.75 L434.59,386.13 L434.71,386.51 L434.83,386.89 L434.95,387.27 L435.07,387.65 L435.20,388.02 L435.33,388.40 L435.45,388.78 L435.58,389.15 L435.72,389.53 L435.85,389.90 L435.98,390.27 L436.12,390.65 L436.26,391.02 L436.40,391.39 L436.54,391.76 L436.69,392.13 L436.84,392.49 L436.98,392.86 L437.14,393.23 L437.29,393.59 L437.44,393.96 L437.60,394.32 L437.76,394.68 L437.92,395.05 L438.08,395.41 L438.24,395.77 L438.41,396.13 L438.58,396.48 L438.75,396.84 L438.93,397.20 L439.10,397.55 L439.28,397.90 L439.46,398.26 L439.64,398.61 L439.83,398.96 L440.02,399.31 L440.21,399.65 L440.40,400.00 L440.59,400.34 L440.79,400.68 L440.99,401.02 L441.20,401.36 L441.40,401.70 L441.61,402.04 L441.82,402.37 L442.04,402.70 L442.25,403.03 L442.47,403.36 L442.70,403.69 L442.92,404.01 L443.15,404.33 L443.39,404.65 L443.62,404.97 L443.86,405.29 L444.10,405.60 L444.35,405.91 L444.60,406.22 L444.85,406.53 L445.10,406.83 L445.36,407.14 L445.62,407.44 L445.89,407.73 L446.16,408.03 L446.43,408.32 L446.70,408.61 L446.98,408.90 L447.27,409.18 L447.55,409.46 L447.84,409.74 L448.14,410.02 L448.43,410.29 L448.73,410.56 L449.04,410.83 L449.35,411.09 L449.66,411.35 L449.98,411.61 L450.30,411.87" fill="none" stroke="#2b2bff" stroke-width="1.15" stroke-linejoin="round"/>
<path d="M451.00,397.11 L451.46,398.12 L451.93,398.46 L452.42,399.78 L452.92,399.46 L453.43,400.32 L453.96,400.20 L454.50,400.90 L455.05,402.14 L455.62,401.89 L456.19,402.73 L456.77,402.92 L457.37,402.96 L457.97,403.48 L458.58,403.71 L459.21,403.98 L459.84,404.58 L460.47,404.75 L461.12,404.56 L461.77,404.61 L462.43,405.10 L463.09,405.09 L463.76,405.52 L464.43,406.07 L465.11,405.57 L465.79,405.34 L466.48,405.30 L467.17,405.09 L467.86,405.05 L468.56,404.98 L469.25,405.11 L469.95,405.03 L470.65,405.30 L471.35,404.87 L472.04,404.82 L472.74,404.40 L473.44,405.14 L474.13,404.66 L474.83,404.91 L475.52,404.46 L476.21,404.51 L476.90,403.83 L477.58,403.95 L478.26,404.36 L478.95,403.00 L479.62,403.53 L480.30,403.48 L480.97,402.89 L481.65,402.78 L482.32,402.71 L482.98,401.90 L483.65,401.99 L484.31,401.35 L484.97,401.16 L485.62,400.93 L486.28,400.81 L486.93,400.63 L487.58,400.45 L488.22,399.59 L488.86,400.35 L489.50,399.80 L490.14,399.37 L490.77,398.73 L491.40,398.50 L492.03,398.37 L492.65,398.01 L493.27,397.03 L493.89,397.44 L494.50,397.77 L495.12,395.95 L495.72,396.47 L496.33,395.92 L496.93,395.41 L497.52,395.50 L498.11,394.34 L498.70,394.37 L499.29,394.38 L499.87,393.48 L500.45,393.02 L501.02,392.78 L501.59,392.20 L502.16,392.40 L502.72,391.23 L503.28,391.36 L503.83,390.28 L504.38,390.44 L504.93,389.77 L505.48,388.56 L506.02,388.92 L506.55,388.14 L507.08,387.88 L507.61,388.04 L508.14,386.76 L508.66,386.31 L509.18,386.61 L509.69,385.73 L510.20,385.69 L510.71,384.83 L511.22,383.98 L511.72,383.74 L512.21,383.65 L512.71,383.06 L513.20,382.27 L513.69,381.78 L514.17,381.23 L514.65,380.57 L515.13,380.83 L515.60,379.72 L516.07,378.85 L516.54,378.53 L517.00,378.37 L517.46,377.82 L517.92,377.04 L518.38,376.34 L518.83,376.02 L519.27,374.95 L519.72,374.52 L520.16,374.62 L520.60,373.68 L521.04,373.39 L521.47,373.09 L521.90,372.36 L522.33,371.61 L522.75,371.69 L523.17,370.68 L523.59,369.80 L524.00,369.56 L524.42,368.89 L524.82,367.93 L525.23,367.64 L525.64,366.99 L526.04,365.85 L526.43,365.82 L526.83,365.21 L527.22,364.57 L527.61,363.61 L528.00,363.42 L528.38,362.93 L528.77,362.38 L529.14,361.41 L529.52,361.36 L529.90,360.19 L530.27,359.90 L530.64,359.78 L531.00,358.56 L531.37,358.02 L531.73,357.91 L532.09,356.85 L532.44,356.28 L532.80,355.83 L533.15,355.49 L533.50,353.88 L533.84,353.70 L534.19,353.03 L534.53,352.40 L534.87,351.87 L535.21,351.26 L535.54,351.00 L535.88,350.03 L536.21,349.73 L536.53,349.20 L536.86,348.24 L537.18,347.89 L537.50,347.74 L537.82,346.72 L538.14,345.80 L538.45,345.36 L538.76,344.48 L539.07,344.22 L539.37,343.78 L539.67,342.64 L539.97,342.19 L540.27,341.97 L540.57,340.85 L540.86,340.42 L541.15,339.42 L541.43,338.84 L541.72,338.30 L542.00,338.46 L542.28,337.04 L542.55,336.36 L542.82,335.70 L543.09,335.17 L543.36,334.76 L543.63,333.97 L543.89,333.87 L544.15,332.65 L544.40,332.36 L544.65,331.34 L544.90,330.77 L545.15,329.48 L545.40,329.20 L545.64,328.54 L545.88,327.80 L546.13,326.55 L546.37,326.78 L546.61,325.72 L546.85,325.02 L547.09,324.40 L547.34,323.72 L547.58,323.23 L547.83,322.05 L548.08,321.48 L548.34,321.17 L548.59,320.45 L548.85,319.63 L549.12,318.90 L549.39,318.16 L549.66,317.74 L549.94,317.45 L550.23,316.13 L550.52,316.26 L550.82,315.42 L551.13,314.40 L551.45,314.14 L551.77,312.84 L552.10,312.15 L552.44,311.68 L552.79,311.34 L553.15,310.77 L553.52,310.13 L553.90,309.74 L554.29,308.51 L554.70,308.74 L555.11,307.62 L555.54,307.31 L555.98,306.86 L556.43,306.12 L556.90,305.55 L557.38,305.17 L557.87,304.99 L558.38,304.73 L558.90,304.31 L559.44,303.48 L559.99,303.23 L560.55,302.95 L561.13,303.18 L561.72,302.34 L562.32,303.32 L562.92,302.88 L563.53,302.95 L564.13,303.51 L564.71,304.00 L565.27,304.13 L565.80,304.73 L566.30,304.87 L566.78,305.66 L567.22,306.15 L567.64,306.27 L568.04,307.29 L568.42,307.48 L568.78,308.06 L569.12,308.38 L569.45,309.21 L569.77,310.18 L570.08,310.22 L570.37,311.48 L570.66,312.07 L570.95,312.73 L571.23,312.66 L571.51,313.97 L571.79,314.88 L572.07,315.13 L572.35,316.07 L572.63,316.00 L572.90,317.59 L573.17,317.86 L573.44,319.00 L573.71,318.85 L573.98,320.28 L574.25,320.67 L574.51,321.65 L574.78,321.80 L575.04,322.56 L575.30,324.08 L575.56,323.83 L575.82,324.53 L576.08,325.32 L576.34,325.75 L576.59,327.08 L576.85,327.90 L577.10,327.83 L577.36,328.18 L577.61,329.71 L577.86,330.35 L578.11,330.91 L578.36,331.67 L578.61,331.72 L578.86,332.58 L579.11,332.87 L579.36,333.51 L579.60,334.88 L579.85,335.04 L580.09,336.58 L580.34,336.57 L580.58,337.00 L580.83,338.08 L581.07,339.03 L581.32,339.29 L581.56,339.42 L581.80,340.55 L582.05,341.50 L582.29,341.58 L582.53,342.14 L582.77,343.33 L583.02,343.71 L583.26,343.98 L583.50,344.85 L583.74,345.38 L583.98,346.34 L584.23,346.93 L584.47,347.88 L584.71,348.40 L584.95,348.36 L585.20,349.59 L585.44,350.39 L585.68,350.90 L585.93,351.71 L586.17,351.88 L586.42,352.41 L586.66,353.62 L586.91,353.66 L587.15,353.98 L587.40,355.58 L587.65,355.70 L587.90,356.47 L588.14,356.78 L588.39,357.45 L588.64,358.15 L588.89,359.03 L589.14,359.90 L589.40,359.74 L589.65,361.30 L589.90,361.37 L590.16,362.05 L590.41,363.22 L590.67,363.64 L590.93,363.85 L591.19,365.51 L591.45,365.35 L591.71,366.33 L591.97,366.97 L592.24,367.98 L592.50,368.07 L592.77,369.16 L593.03,369.29 L593.30,370.50 L593.57,370.59 L593.85,371.36 L594.12,372.69 L594.39,372.88 L594.67,373.47 L594.95,374.76 L595.23,374.86 L595.51,375.16 L595.79,376.28 L596.08,376.36 L596.37,377.71 L596.66,378.38 L596.96,378.50 L597.25,379.14 L597.55,380.03 L597.86,380.63 L598.17,380.97 L598.48,382.08 L598.79,381.94 L599.11,383.06 L599.43,383.71 L599.76,384.38 L600.09,385.18 L600.43,385.35 L600.77,386.52 L601.11,386.90 L601.46,387.38 L601.82,387.77 L602.18,388.44 L602.54,389.50 L602.91,389.70 L603.29,390.60 L603.67,391.49 L604.06,392.06 L604.46,392.79 L604.86,392.80 L605.26,393.13 L605.68,394.32 L606.10,394.66 L606.53,395.44 L606.96,395.65 L607.40,396.53 L607.85,396.95 L608.31,397.43 L608.77,397.87 L609.25,398.34 L609.73,398.78 L610.22,399.26 L610.71,399.96 L611.22,399.98 L611.73,401.11 L612.25,401.00 L612.78,401.77 L613.33,401.87 L613.87,402.24 L614.43,403.34 L615.00,403.03 L615.58,403.13 L616.16,403.68 L616.75,404.17 L617.35,405.27 L617.96,405.03 L618.57,405.59 L619.19,405.34 L619.82,406.07 L620.45,406.47 L621.09,407.11 L621.73,406.66 L622.38,407.33 L623.04,407.51 L623.70,407.38 L624.36,407.93 L625.03,408.10 L625.70,407.72 L626.38,408.82 L627.06,409.01 L627.74,408.93 L628.42,408.85 L629.11,409.88 L629.80,409.70 L630.49,410.09 L631.19,410.37 L631.88,409.94 L632.58,410.48 L633.27,410.29 L633.97,410.46 L634.67,410.57 L635.37,410.70 L636.06,411.12 L636.76,410.91 L637.46,410.90 L638.15,410.93 L638.85,411.17 L639.54,410.85 L640.23,411.00 L640.92,411.17 L641.60,411.03 L642.28,411.17 L642.96,411.03" fill="none" stroke="#2b2bff" stroke-width="1.15" stroke-linejoin="round"/>
</g>
<path d="M394.50,414.30v-5.00M450.97,414.30v-5.00M507.45,414.30v-5.00M563.93,414.30v-5.00M620.41,414.30v-5.00M405.79,414.30v-2.70M417.09,414.30v-2.70M428.38,414.30v-2.70M439.68,414.30v-2.70M462.27,414.30v-2.70M473.57,414.30v-2.70M484.86,414.30v-2.70M496.16,414.30v-2.70M518.75,414.30v-2.70M530.04,414.30v-2.70M541.34,414.30v-2.70M552.63,414.30v-2.70M575.23,414.30v-2.70M586.52,414.30v-2.70M597.82,414.30v-2.70M609.11,414.30v-2.70M631.70,414.30v-2.70M399.74,210.30v5.00M434.31,210.30v5.00M471.45,210.30v5.00M511.45,210.30v5.00M554.64,210.30v5.00M601.43,210.30v5.00M641.77,210.30v2.70M631.43,210.30v2.70M621.26,210.30v2.70M611.26,210.30v2.70M591.77,210.30v2.70M582.26,210.30v2.70M572.90,210.30v2.70M563.70,210.30v2.70M545.73,210.30v2.70M536.95,210.30v2.70M528.32,210.30v2.70M519.82,210.30v2.70M503.20,210.30v2.70M495.08,210.30v2.70M487.09,210.30v2.70M479.21,210.30v2.70M463.81,210.30v2.70M456.27,210.30v2.70M448.85,210.30v2.70M441.53,210.30v2.70M427.20,210.30v2.70M420.19,210.30v2.70M413.28,210.30v2.70M406.46,210.30v2.70M393.11,210.30v2.70M386.57,210.30v2.70M383.20,380.30h5.00M383.20,346.30h5.00M383.20,312.30h5.00M383.20,278.30h5.00M383.20,244.30h5.00M643.00,380.30h-5.00M643.00,346.30h-5.00M643.00,312.30h-5.00M643.00,278.30h-5.00M643.00,244.30h-5.00M383.20,407.50h2.70M383.20,400.70h2.70M383.20,393.90h2.70M383.20,387.10h2.70M383.20,373.50h2.70M383.20,366.70h2.70M383.20,359.90h2.70M383.20,353.10h2.70M383.20,339.50h2.70M383.20,332.70h2.70M383.20,325.90h2.70M383.20,319.10h2.70M383.20,305.50h2.70M383.20,298.70h2.70M383.20,291.90h2.70M383.20,285.10h2.70M383.20,271.50h2.70M383.20,264.70h2.70M383.20,257.90h2.70M383.20,251.10h2.70M383.20,237.50h2.70M383.20,230.70h2.70M383.20,223.90h2.70M383.20,217.10h2.70M643.00,407.50h-2.70M643.00,400.70h-2.70M643.00,393.90h-2.70M643.00,387.10h-2.70M643.00,373.50h-2.70M643.00,366.70h-2.70M643.00,359.90h-2.70M643.00,353.10h-2.70M643.00,339.50h-2.70M643.00,332.70h-2.70M643.00,325.90h-2.70M643.00,319.10h-2.70M643.00,305.50h-2.70M643.00,298.70h-2.70M643.00,291.90h-2.70M643.00,285.10h-2.70M643.00,271.50h-2.70M643.00,264.70h-2.70M643.00,257.90h-2.70M643.00,251.10h-2.70M643.00,237.50h-2.70M643.00,230.70h-2.70M643.00,223.90h-2.70M643.00,217.10h-2.70" stroke="#1a1a1a" stroke-width="1.2" fill="none"/>
<rect x="383.20" y="210.30" width="259.80" height="204.00" fill="none" stroke="#1a1a1a" stroke-width="1.35"/>
<text x="344.40" y="203.00" font-size="18" text-anchor="start" font-weight="bold">e</text>
<text x="512.90" y="182.30" font-size="12" text-anchor="middle" textLength="108.74" lengthAdjust="spacingAndGlyphs">Photon energy (eV)</text>
<text x="400.14" y="204.30" font-size="12" text-anchor="middle" textLength="24.29" lengthAdjust="spacingAndGlyphs">1.45</text>
<text x="434.71" y="204.30" font-size="12" text-anchor="middle" textLength="17.35" lengthAdjust="spacingAndGlyphs">1.4</text>
<text x="471.85" y="204.30" font-size="12" text-anchor="middle" textLength="24.29" lengthAdjust="spacingAndGlyphs">1.35</text>
<text x="511.85" y="204.30" font-size="12" text-anchor="middle" textLength="17.35" lengthAdjust="spacingAndGlyphs">1.3</text>
<text x="555.04" y="204.30" font-size="12" text-anchor="middle" textLength="24.29" lengthAdjust="spacingAndGlyphs">1.25</text>
<text x="601.83" y="204.30" font-size="12" text-anchor="middle" textLength="17.35" lengthAdjust="spacingAndGlyphs">1.2</text>
<text x="411.70" y="230.00" font-size="12" text-anchor="middle" textLength="31.66" lengthAdjust="spacingAndGlyphs">GaAs</text>
<text x="499.60" y="230.00" font-size="12" text-anchor="middle" textLength="68.94" lengthAdjust="spacingAndGlyphs">GaNAs NDs</text>
<text x="465.20" y="370.30" font-size="12" text-anchor="middle" textLength="21.37" lengthAdjust="spacingAndGlyphs">×10</text>
<text x="374.90" y="311.60" font-size="12" text-anchor="middle" textLength="96.64" lengthAdjust="spacingAndGlyphs" transform="rotate(-90 374.90 311.60)">PL intensity (a.u.)</text>
<line x1="579" y1="229.6" x2="612.4" y2="229.6" stroke="#f7267f" stroke-width="1.2"/>
<text x="620.70" y="232.90" font-size="11.5" text-anchor="middle" fill="#f7267f">σ</text>
<text x="626.30" y="227.80" font-size="8" text-anchor="middle" fill="#f7267f">+</text>
<line x1="579" y1="247.5" x2="612.4" y2="247.5" stroke="#2b2bff" stroke-width="1.2"/>
<text x="620.70" y="250.30" font-size="11.5" text-anchor="middle" fill="#2b2bff">σ</text>
<text x="626.30" y="245.00" font-size="8" text-anchor="middle" fill="#2b2bff">−</text>
<path d="M394.50,567.80v-5.00M450.97,567.80v-5.00M507.45,567.80v-5.00M563.93,567.80v-5.00M620.41,567.80v-5.00M405.79,567.80v-2.70M417.09,567.80v-2.70M428.38,567.80v-2.70M439.68,567.80v-2.70M462.27,567.80v-2.70M473.57,567.80v-2.70M484.86,567.80v-2.70M496.16,567.80v-2.70M518.75,567.80v-2.70M530.04,567.80v-2.70M541.34,567.80v-2.70M552.63,567.80v-2.70M575.23,567.80v-2.70M586.52,567.80v-2.70M597.82,567.80v-2.70M609.11,567.80v-2.70M631.70,567.80v-2.70M394.50,431.40v5.00M450.97,431.40v5.00M507.45,431.40v5.00M563.93,431.40v5.00M620.41,431.40v5.00M405.79,431.40v2.70M417.09,431.40v2.70M428.38,431.40v2.70M439.68,431.40v2.70M462.27,431.40v2.70M473.57,431.40v2.70M484.86,431.40v2.70M496.16,431.40v2.70M518.75,431.40v2.70M530.04,431.40v2.70M541.34,431.40v2.70M552.63,431.40v2.70M575.23,431.40v2.70M586.52,431.40v2.70M597.82,431.40v2.70M609.11,431.40v2.70M631.70,431.40v2.70M383.20,540.52h5.00M383.20,513.24h5.00M383.20,485.96h5.00M383.20,458.68h5.00M383.20,562.34h2.70M383.20,556.89h2.70M383.20,551.43h2.70M383.20,545.98h2.70M383.20,535.06h2.70M383.20,529.61h2.70M383.20,524.15h2.70M383.20,518.70h2.70M383.20,507.78h2.70M383.20,502.33h2.70M383.20,496.87h2.70M383.20,491.42h2.70M383.20,480.50h2.70M383.20,475.05h2.70M383.20,469.59h2.70M383.20,464.14h2.70M383.20,453.22h2.70M383.20,447.77h2.70M383.20,442.31h2.70M383.20,436.86h2.70M643.00,531.43h-5.00M643.00,495.05h-5.00M643.00,458.68h-5.00M643.00,558.71h-2.70M643.00,549.61h-2.70M643.00,540.52h-2.70M643.00,522.33h-2.70M643.00,513.24h-2.70M643.00,504.15h-2.70M643.00,485.96h-2.70M643.00,476.87h-2.70M643.00,467.77h-2.70M643.00,449.59h-2.70M643.00,440.49h-2.70" stroke="#1a1a1a" stroke-width="1.2" fill="none"/>
<rect x="383.20" y="431.40" width="259.80" height="136.40" fill="none" stroke="#1a1a1a" stroke-width="1.35"/>
<g fill="#00ff00" fill-opacity="0.38" stroke="#00e600" stroke-opacity="0.85" stroke-width="0.8"><circle cx="383.80" cy="539.76" r="1.6"/><circle cx="384.16" cy="540.95" r="1.6"/><circle cx="384.52" cy="534.60" r="1.6"/><circle cx="384.88" cy="546.12" r="1.6"/><circle cx="385.24" cy="546.83" r="1.6"/><circle cx="385.60" cy="526.09" r="1.6"/><circle cx="385.96" cy="540.20" r="1.6"/><circle cx="386.32" cy="536.46" r="1.6"/><circle cx="386.68" cy="536.20" r="1.6"/><circle cx="387.04" cy="538.63" r="1.6"/><circle cx="387.40" cy="530.72" r="1.6"/><circle cx="387.76" cy="531.54" r="1.6"/><circle cx="388.12" cy="530.87" r="1.6"/><circle cx="388.48" cy="531.44" r="1.6"/><circle cx="388.84" cy="533.82" r="1.6"/><circle cx="389.20" cy="529.86" r="1.6"/><circle cx="389.56" cy="531.16" r="1.6"/><circle cx="389.92" cy="535.84" r="1.6"/><circle cx="390.28" cy="534.04" r="1.6"/><circle cx="390.64" cy="535.29" r="1.6"/><circle cx="391.00" cy="529.39" r="1.6"/><circle cx="391.36" cy="532.35" r="1.6"/><circle cx="391.72" cy="533.00" r="1.6"/><circle cx="392.08" cy="534.47" r="1.6"/><circle cx="392.44" cy="533.07" r="1.6"/><circle cx="392.80" cy="536.55" r="1.6"/><circle cx="393.16" cy="534.36" r="1.6"/><circle cx="393.52" cy="534.56" r="1.6"/><circle cx="393.88" cy="534.59" r="1.6"/><circle cx="394.24" cy="536.12" r="1.6"/><circle cx="394.60" cy="533.62" r="1.6"/><circle cx="394.96" cy="537.07" r="1.6"/><circle cx="395.32" cy="535.70" r="1.6"/><circle cx="395.68" cy="535.09" r="1.6"/><circle cx="396.04" cy="534.90" r="1.6"/><circle cx="396.40" cy="535.95" r="1.6"/><circle cx="396.76" cy="537.02" r="1.6"/><circle cx="397.12" cy="536.91" r="1.6"/><circle cx="397.48" cy="535.78" r="1.6"/><circle cx="397.84" cy="536.85" r="1.6"/><circle cx="398.20" cy="535.36" r="1.6"/><circle cx="398.56" cy="537.69" r="1.6"/><circle cx="398.92" cy="535.17" r="1.6"/><circle cx="399.28" cy="531.15" r="1.6"/><circle cx="399.64" cy="537.98" r="1.6"/><circle cx="400.00" cy="535.60" r="1.6"/><circle cx="400.36" cy="533.15" r="1.6"/><circle cx="400.72" cy="535.10" r="1.6"/><circle cx="401.08" cy="533.83" r="1.6"/><circle cx="401.44" cy="539.62" r="1.6"/><circle cx="401.80" cy="536.59" r="1.6"/><circle cx="402.16" cy="532.71" r="1.6"/><circle cx="402.52" cy="536.76" r="1.6"/><circle cx="402.88" cy="535.03" r="1.6"/><circle cx="403.24" cy="539.38" r="1.6"/><circle cx="403.60" cy="533.92" r="1.6"/><circle cx="403.96" cy="531.78" r="1.6"/><circle cx="404.32" cy="536.06" r="1.6"/><circle cx="404.68" cy="535.34" r="1.6"/><circle cx="405.04" cy="535.25" r="1.6"/><circle cx="405.40" cy="532.18" r="1.6"/><circle cx="405.76" cy="536.83" r="1.6"/><circle cx="406.12" cy="539.09" r="1.6"/><circle cx="406.48" cy="532.67" r="1.6"/><circle cx="406.84" cy="538.23" r="1.6"/><circle cx="407.20" cy="535.12" r="1.6"/><circle cx="407.56" cy="540.39" r="1.6"/><circle cx="407.92" cy="536.96" r="1.6"/><circle cx="408.28" cy="535.85" r="1.6"/><circle cx="408.64" cy="538.20" r="1.6"/><circle cx="409.00" cy="537.17" r="1.6"/><circle cx="409.36" cy="535.18" r="1.6"/><circle cx="409.72" cy="537.54" r="1.6"/><circle cx="410.08" cy="535.37" r="1.6"/><circle cx="410.44" cy="533.09" r="1.6"/><circle cx="410.80" cy="539.99" r="1.6"/><circle cx="411.16" cy="535.73" r="1.6"/><circle cx="411.52" cy="535.30" r="1.6"/><circle cx="411.88" cy="537.04" r="1.6"/><circle cx="412.24" cy="533.66" r="1.6"/><circle cx="412.60" cy="534.08" r="1.6"/><circle cx="412.96" cy="535.68" r="1.6"/><circle cx="413.32" cy="535.73" r="1.6"/><circle cx="413.68" cy="536.90" r="1.6"/><circle cx="414.04" cy="538.92" r="1.6"/><circle cx="414.40" cy="536.19" r="1.6"/><circle cx="414.76" cy="538.08" r="1.6"/><circle cx="415.12" cy="538.44" r="1.6"/><circle cx="415.48" cy="535.58" r="1.6"/><circle cx="415.84" cy="538.13" r="1.6"/><circle cx="416.20" cy="536.20" r="1.6"/><circle cx="416.56" cy="540.02" r="1.6"/><circle cx="416.92" cy="539.14" r="1.6"/><circle cx="417.28" cy="538.58" r="1.6"/><circle cx="417.64" cy="536.34" r="1.6"/><circle cx="418.00" cy="539.29" r="1.6"/><circle cx="418.36" cy="537.96" r="1.6"/><circle cx="418.72" cy="541.01" r="1.6"/><circle cx="419.08" cy="539.82" r="1.6"/><circle cx="419.44" cy="538.88" r="1.6"/><circle cx="419.80" cy="542.53" r="1.6"/><circle cx="420.16" cy="542.59" r="1.6"/><circle cx="420.52" cy="540.65" r="1.6"/><circle cx="420.88" cy="544.64" r="1.6"/><circle cx="421.24" cy="542.55" r="1.6"/><circle cx="421.60" cy="543.25" r="1.6"/><circle cx="421.96" cy="544.79" r="1.6"/><circle cx="422.32" cy="543.75" r="1.6"/><circle cx="422.68" cy="544.94" r="1.6"/><circle cx="423.04" cy="545.96" r="1.6"/><circle cx="423.40" cy="549.74" r="1.6"/><circle cx="423.76" cy="550.14" r="1.6"/><circle cx="424.12" cy="547.09" r="1.6"/><circle cx="424.48" cy="551.21" r="1.6"/><circle cx="424.84" cy="548.28" r="1.6"/><circle cx="425.20" cy="549.44" r="1.6"/><circle cx="425.56" cy="550.71" r="1.6"/><circle cx="425.92" cy="549.70" r="1.6"/><circle cx="426.28" cy="554.20" r="1.6"/><circle cx="426.64" cy="549.85" r="1.6"/><circle cx="427.00" cy="546.95" r="1.6"/><circle cx="427.36" cy="552.26" r="1.6"/><circle cx="427.72" cy="548.73" r="1.6"/><circle cx="428.08" cy="549.03" r="1.6"/><circle cx="428.44" cy="543.37" r="1.6"/><circle cx="428.80" cy="552.02" r="1.6"/><circle cx="429.16" cy="551.78" r="1.6"/><circle cx="429.52" cy="551.93" r="1.6"/><circle cx="429.88" cy="552.55" r="1.6"/><circle cx="430.24" cy="554.43" r="1.6"/><circle cx="430.60" cy="550.74" r="1.6"/><circle cx="430.96" cy="553.29" r="1.6"/><circle cx="431.32" cy="549.36" r="1.6"/><circle cx="431.68" cy="550.39" r="1.6"/><circle cx="432.04" cy="554.06" r="1.6"/><circle cx="432.40" cy="552.35" r="1.6"/><circle cx="432.76" cy="547.63" r="1.6"/><circle cx="433.12" cy="552.32" r="1.6"/><circle cx="433.48" cy="550.77" r="1.6"/><circle cx="433.84" cy="548.87" r="1.6"/><circle cx="434.20" cy="552.62" r="1.6"/><circle cx="434.56" cy="550.05" r="1.6"/><circle cx="434.92" cy="546.35" r="1.6"/><circle cx="435.28" cy="547.48" r="1.6"/><circle cx="435.64" cy="556.24" r="1.6"/><circle cx="436.00" cy="544.58" r="1.6"/><circle cx="436.36" cy="549.45" r="1.6"/><circle cx="436.72" cy="549.90" r="1.6"/><circle cx="437.08" cy="549.28" r="1.6"/><circle cx="437.44" cy="542.04" r="1.6"/><circle cx="437.80" cy="544.66" r="1.6"/><circle cx="438.16" cy="545.77" r="1.6"/><circle cx="438.52" cy="547.69" r="1.6"/><circle cx="438.88" cy="541.68" r="1.6"/><circle cx="439.24" cy="539.10" r="1.6"/><circle cx="439.60" cy="547.04" r="1.6"/><circle cx="439.96" cy="547.00" r="1.6"/><circle cx="440.32" cy="543.62" r="1.6"/><circle cx="440.68" cy="539.02" r="1.6"/><circle cx="441.04" cy="542.90" r="1.6"/><circle cx="441.40" cy="541.13" r="1.6"/><circle cx="441.76" cy="544.07" r="1.6"/><circle cx="442.12" cy="533.72" r="1.6"/><circle cx="442.48" cy="539.85" r="1.6"/><circle cx="442.84" cy="538.05" r="1.6"/><circle cx="443.20" cy="532.70" r="1.6"/><circle cx="443.56" cy="539.27" r="1.6"/><circle cx="443.92" cy="537.99" r="1.6"/><circle cx="444.28" cy="535.21" r="1.6"/><circle cx="444.64" cy="539.51" r="1.6"/><circle cx="445.00" cy="528.65" r="1.6"/><circle cx="445.36" cy="536.43" r="1.6"/><circle cx="445.72" cy="539.18" r="1.6"/><circle cx="446.08" cy="538.09" r="1.6"/><circle cx="446.44" cy="543.00" r="1.6"/><circle cx="446.80" cy="528.01" r="1.6"/><circle cx="447.16" cy="525.58" r="1.6"/><circle cx="447.52" cy="537.06" r="1.6"/><circle cx="447.88" cy="538.36" r="1.6"/><circle cx="448.24" cy="549.88" r="1.6"/><circle cx="448.60" cy="539.07" r="1.6"/><circle cx="448.96" cy="528.14" r="1.6"/><circle cx="449.32" cy="540.03" r="1.6"/><circle cx="449.68" cy="527.72" r="1.6"/><circle cx="450.04" cy="522.66" r="1.6"/><circle cx="450.40" cy="552.92" r="1.6"/><circle cx="450.76" cy="535.59" r="1.6"/><circle cx="451.12" cy="538.30" r="1.6"/><circle cx="451.48" cy="536.88" r="1.6"/><circle cx="451.84" cy="546.29" r="1.6"/><circle cx="452.20" cy="534.08" r="1.6"/><circle cx="452.56" cy="541.11" r="1.6"/><circle cx="452.92" cy="522.85" r="1.6"/><circle cx="453.28" cy="519.17" r="1.6"/><circle cx="453.64" cy="542.02" r="1.6"/><circle cx="454.00" cy="542.14" r="1.6"/><circle cx="454.36" cy="533.22" r="1.6"/><circle cx="454.72" cy="530.01" r="1.6"/><circle cx="455.08" cy="528.73" r="1.6"/><circle cx="455.44" cy="519.75" r="1.6"/><circle cx="455.80" cy="540.75" r="1.6"/><circle cx="456.16" cy="531.38" r="1.6"/><circle cx="456.52" cy="529.08" r="1.6"/><circle cx="456.88" cy="526.97" r="1.6"/><circle cx="457.24" cy="533.04" r="1.6"/><circle cx="457.60" cy="526.56" r="1.6"/><circle cx="457.96" cy="528.17" r="1.6"/><circle cx="458.32" cy="507.01" r="1.6"/><circle cx="458.68" cy="523.84" r="1.6"/><circle cx="459.04" cy="540.96" r="1.6"/><circle cx="459.40" cy="510.86" r="1.6"/><circle cx="459.76" cy="514.17" r="1.6"/><circle cx="460.12" cy="524.49" r="1.6"/><circle cx="460.48" cy="524.26" r="1.6"/><circle cx="460.84" cy="519.77" r="1.6"/><circle cx="461.20" cy="495.14" r="1.6"/><circle cx="461.56" cy="516.76" r="1.6"/><circle cx="461.92" cy="498.47" r="1.6"/><circle cx="462.28" cy="501.52" r="1.6"/><circle cx="462.64" cy="514.74" r="1.6"/><circle cx="463.00" cy="505.47" r="1.6"/><circle cx="463.36" cy="515.67" r="1.6"/><circle cx="463.72" cy="537.76" r="1.6"/><circle cx="464.08" cy="513.57" r="1.6"/><circle cx="464.44" cy="512.14" r="1.6"/><circle cx="464.80" cy="495.79" r="1.6"/><circle cx="465.16" cy="497.45" r="1.6"/><circle cx="465.52" cy="492.80" r="1.6"/><circle cx="465.88" cy="497.11" r="1.6"/><circle cx="466.24" cy="491.38" r="1.6"/><circle cx="466.60" cy="494.85" r="1.6"/><circle cx="466.96" cy="498.46" r="1.6"/><circle cx="467.32" cy="490.97" r="1.6"/><circle cx="467.68" cy="486.97" r="1.6"/><circle cx="468.04" cy="487.22" r="1.6"/><circle cx="468.40" cy="502.47" r="1.6"/><circle cx="468.76" cy="498.72" r="1.6"/><circle cx="469.12" cy="506.36" r="1.6"/><circle cx="469.48" cy="506.03" r="1.6"/><circle cx="469.84" cy="494.41" r="1.6"/><circle cx="470.20" cy="502.13" r="1.6"/><circle cx="470.56" cy="485.21" r="1.6"/><circle cx="470.92" cy="513.69" r="1.6"/><circle cx="471.28" cy="504.83" r="1.6"/><circle cx="471.64" cy="493.83" r="1.6"/><circle cx="472.00" cy="486.57" r="1.6"/><circle cx="472.36" cy="497.51" r="1.6"/><circle cx="472.72" cy="481.18" r="1.6"/><circle cx="473.08" cy="488.69" r="1.6"/><circle cx="473.44" cy="498.95" r="1.6"/><circle cx="473.80" cy="494.04" r="1.6"/><circle cx="474.16" cy="490.01" r="1.6"/><circle cx="474.52" cy="499.17" r="1.6"/><circle cx="474.88" cy="486.14" r="1.6"/><circle cx="475.24" cy="494.32" r="1.6"/><circle cx="475.60" cy="489.29" r="1.6"/><circle cx="475.96" cy="487.08" r="1.6"/><circle cx="476.32" cy="494.75" r="1.6"/><circle cx="476.68" cy="486.23" r="1.6"/><circle cx="477.04" cy="502.34" r="1.6"/><circle cx="477.40" cy="488.50" r="1.6"/><circle cx="477.76" cy="501.98" r="1.6"/><circle cx="478.12" cy="485.86" r="1.6"/><circle cx="478.48" cy="494.32" r="1.6"/><circle cx="478.84" cy="485.49" r="1.6"/><circle cx="479.20" cy="484.92" r="1.6"/><circle cx="479.56" cy="491.75" r="1.6"/><circle cx="479.92" cy="493.88" r="1.6"/><circle cx="480.28" cy="485.56" r="1.6"/><circle cx="480.64" cy="495.54" r="1.6"/><circle cx="481.00" cy="487.65" r="1.6"/><circle cx="481.36" cy="491.15" r="1.6"/><circle cx="481.72" cy="491.97" r="1.6"/><circle cx="482.08" cy="492.59" r="1.6"/><circle cx="482.44" cy="484.72" r="1.6"/><circle cx="482.80" cy="495.51" r="1.6"/><circle cx="483.16" cy="492.18" r="1.6"/><circle cx="483.52" cy="489.21" r="1.6"/><circle cx="483.88" cy="487.41" r="1.6"/><circle cx="484.24" cy="485.40" r="1.6"/><circle cx="484.60" cy="486.39" r="1.6"/><circle cx="484.96" cy="492.07" r="1.6"/><circle cx="485.32" cy="489.42" r="1.6"/><circle cx="485.68" cy="487.07" r="1.6"/><circle cx="486.04" cy="488.86" r="1.6"/><circle cx="486.40" cy="495.06" r="1.6"/><circle cx="486.76" cy="489.43" r="1.6"/><circle cx="487.12" cy="488.68" r="1.6"/><circle cx="487.48" cy="494.39" r="1.6"/><circle cx="487.84" cy="491.76" r="1.6"/><circle cx="488.20" cy="490.53" r="1.6"/><circle cx="488.56" cy="488.60" r="1.6"/><circle cx="488.92" cy="485.83" r="1.6"/><circle cx="489.28" cy="486.95" r="1.6"/><circle cx="489.64" cy="488.97" r="1.6"/><circle cx="490.00" cy="489.73" r="1.6"/><circle cx="490.36" cy="491.41" r="1.6"/><circle cx="490.72" cy="491.98" r="1.6"/><circle cx="491.08" cy="491.01" r="1.6"/><circle cx="491.44" cy="491.00" r="1.6"/><circle cx="491.80" cy="487.42" r="1.6"/><circle cx="492.16" cy="484.09" r="1.6"/><circle cx="492.52" cy="488.83" r="1.6"/><circle cx="492.88" cy="487.56" r="1.6"/><circle cx="493.24" cy="488.43" r="1.6"/><circle cx="493.60" cy="489.52" r="1.6"/><circle cx="493.96" cy="486.71" r="1.6"/><circle cx="494.32" cy="487.08" r="1.6"/><circle cx="494.68" cy="489.97" r="1.6"/><circle cx="495.04" cy="490.57" r="1.6"/><circle cx="495.40" cy="488.32" r="1.6"/><circle cx="495.76" cy="491.60" r="1.6"/><circle cx="496.12" cy="489.51" r="1.6"/><circle cx="496.48" cy="487.18" r="1.6"/><circle cx="496.84" cy="490.16" r="1.6"/><circle cx="497.20" cy="495.37" r="1.6"/><circle cx="497.56" cy="488.03" r="1.6"/><circle cx="497.92" cy="493.22" r="1.6"/><circle cx="498.28" cy="493.76" r="1.6"/><circle cx="498.64" cy="494.05" r="1.6"/><circle cx="499.00" cy="487.42" r="1.6"/><circle cx="499.36" cy="495.39" r="1.6"/><circle cx="499.72" cy="489.97" r="1.6"/><circle cx="500.08" cy="488.87" r="1.6"/><circle cx="500.44" cy="488.89" r="1.6"/><circle cx="500.80" cy="491.18" r="1.6"/><circle cx="501.16" cy="489.59" r="1.6"/><circle cx="501.52" cy="488.90" r="1.6"/><circle cx="501.88" cy="492.96" r="1.6"/><circle cx="502.24" cy="487.30" r="1.6"/><circle cx="502.60" cy="486.38" r="1.6"/><circle cx="502.96" cy="491.48" r="1.6"/><circle cx="503.32" cy="491.20" r="1.6"/><circle cx="503.68" cy="492.26" r="1.6"/><circle cx="504.04" cy="486.23" r="1.6"/><circle cx="504.40" cy="492.20" r="1.6"/><circle cx="504.76" cy="490.54" r="1.6"/><circle cx="505.12" cy="494.08" r="1.6"/><circle cx="505.48" cy="485.77" r="1.6"/><circle cx="505.84" cy="489.84" r="1.6"/><circle cx="506.20" cy="488.50" r="1.6"/><circle cx="506.56" cy="484.92" r="1.6"/><circle cx="506.92" cy="487.37" r="1.6"/><circle cx="507.28" cy="492.46" r="1.6"/><circle cx="507.64" cy="488.13" r="1.6"/><circle cx="508.00" cy="487.48" r="1.6"/><circle cx="508.36" cy="491.88" r="1.6"/><circle cx="508.72" cy="492.26" r="1.6"/><circle cx="509.08" cy="492.30" r="1.6"/><circle cx="509.44" cy="487.52" r="1.6"/><circle cx="509.80" cy="489.56" r="1.6"/><circle cx="510.16" cy="492.57" r="1.6"/><circle cx="510.52" cy="488.05" r="1.6"/><circle cx="510.88" cy="487.86" r="1.6"/><circle cx="511.24" cy="492.17" r="1.6"/><circle cx="511.60" cy="494.20" r="1.6"/><circle cx="511.96" cy="486.93" r="1.6"/><circle cx="512.32" cy="483.09" r="1.6"/><circle cx="512.68" cy="486.23" r="1.6"/><circle cx="513.04" cy="487.45" r="1.6"/><circle cx="513.40" cy="489.83" r="1.6"/><circle cx="513.76" cy="491.88" r="1.6"/><circle cx="514.12" cy="489.87" r="1.6"/><circle cx="514.48" cy="488.41" r="1.6"/><circle cx="514.84" cy="490.70" r="1.6"/><circle cx="515.20" cy="487.74" r="1.6"/><circle cx="515.56" cy="490.17" r="1.6"/><circle cx="515.92" cy="488.59" r="1.6"/><circle cx="516.28" cy="497.38" r="1.6"/><circle cx="516.64" cy="492.42" r="1.6"/><circle cx="517.00" cy="488.03" r="1.6"/><circle cx="517.36" cy="487.57" r="1.6"/><circle cx="517.72" cy="489.02" r="1.6"/><circle cx="518.08" cy="485.80" r="1.6"/><circle cx="518.44" cy="488.17" r="1.6"/><circle cx="518.80" cy="488.11" r="1.6"/><circle cx="519.16" cy="492.31" r="1.6"/><circle cx="519.52" cy="488.83" r="1.6"/><circle cx="519.88" cy="487.82" r="1.6"/><circle cx="520.24" cy="486.34" r="1.6"/><circle cx="520.60" cy="486.72" r="1.6"/><circle cx="520.96" cy="489.55" r="1.6"/><circle cx="521.32" cy="489.11" r="1.6"/><circle cx="521.68" cy="492.56" r="1.6"/><circle cx="522.04" cy="487.94" r="1.6"/><circle cx="522.40" cy="492.25" r="1.6"/><circle cx="522.76" cy="490.13" r="1.6"/><circle cx="523.12" cy="489.41" r="1.6"/><circle cx="523.48" cy="484.21" r="1.6"/><circle cx="523.84" cy="486.02" r="1.6"/><circle cx="524.20" cy="491.20" r="1.6"/><circle cx="524.56" cy="492.85" r="1.6"/><circle cx="524.92" cy="489.77" r="1.6"/><circle cx="525.28" cy="491.17" r="1.6"/><circle cx="525.64" cy="488.17" r="1.6"/><circle cx="526.00" cy="488.26" r="1.6"/><circle cx="526.36" cy="487.51" r="1.6"/><circle cx="526.72" cy="491.68" r="1.6"/><circle cx="527.08" cy="490.08" r="1.6"/><circle cx="527.44" cy="488.64" r="1.6"/><circle cx="527.80" cy="488.42" r="1.6"/><circle cx="528.16" cy="490.68" r="1.6"/><circle cx="528.52" cy="490.11" r="1.6"/><circle cx="528.88" cy="487.23" r="1.6"/><circle cx="529.24" cy="493.67" r="1.6"/><circle cx="529.60" cy="490.04" r="1.6"/><circle cx="529.96" cy="489.45" r="1.6"/><circle cx="530.32" cy="493.16" r="1.6"/><circle cx="530.68" cy="492.06" r="1.6"/><circle cx="531.04" cy="489.32" r="1.6"/><circle cx="531.40" cy="490.92" r="1.6"/><circle cx="531.76" cy="486.96" r="1.6"/><circle cx="532.12" cy="488.07" r="1.6"/><circle cx="532.48" cy="484.10" r="1.6"/><circle cx="532.84" cy="492.76" r="1.6"/><circle cx="533.20" cy="485.09" r="1.6"/><circle cx="533.56" cy="491.50" r="1.6"/><circle cx="533.92" cy="487.80" r="1.6"/><circle cx="534.28" cy="487.47" r="1.6"/><circle cx="534.64" cy="489.43" r="1.6"/><circle cx="535.00" cy="490.59" r="1.6"/><circle cx="535.36" cy="491.45" r="1.6"/><circle cx="535.72" cy="494.30" r="1.6"/><circle cx="536.08" cy="490.86" r="1.6"/><circle cx="536.44" cy="492.14" r="1.6"/><circle cx="536.80" cy="488.54" r="1.6"/><circle cx="537.16" cy="491.73" r="1.6"/><circle cx="537.52" cy="490.36" r="1.6"/><circle cx="537.88" cy="488.84" r="1.6"/><circle cx="538.24" cy="489.70" r="1.6"/><circle cx="538.60" cy="489.75" r="1.6"/><circle cx="538.96" cy="490.31" r="1.6"/><circle cx="539.32" cy="490.76" r="1.6"/><circle cx="539.68" cy="488.51" r="1.6"/><circle cx="540.04" cy="487.89" r="1.6"/><circle cx="540.40" cy="491.40" r="1.6"/><circle cx="540.76" cy="485.44" r="1.6"/><circle cx="541.12" cy="487.96" r="1.6"/><circle cx="541.48" cy="493.12" r="1.6"/><circle cx="541.84" cy="482.73" r="1.6"/><circle cx="542.20" cy="487.51" r="1.6"/><circle cx="542.56" cy="490.77" r="1.6"/><circle cx="542.92" cy="485.01" r="1.6"/><circle cx="543.28" cy="495.24" r="1.6"/><circle cx="543.64" cy="482.53" r="1.6"/><circle cx="544.00" cy="492.25" r="1.6"/><circle cx="544.36" cy="492.46" r="1.6"/><circle cx="544.72" cy="490.81" r="1.6"/><circle cx="545.08" cy="487.94" r="1.6"/><circle cx="545.44" cy="489.27" r="1.6"/><circle cx="545.80" cy="486.11" r="1.6"/><circle cx="546.16" cy="490.22" r="1.6"/><circle cx="546.52" cy="485.37" r="1.6"/><circle cx="546.88" cy="487.36" r="1.6"/><circle cx="547.24" cy="490.40" r="1.6"/><circle cx="547.60" cy="485.08" r="1.6"/><circle cx="547.96" cy="486.83" r="1.6"/><circle cx="548.32" cy="488.03" r="1.6"/><circle cx="548.68" cy="484.16" r="1.6"/><circle cx="549.04" cy="490.27" r="1.6"/><circle cx="549.40" cy="488.09" r="1.6"/><circle cx="549.76" cy="483.31" r="1.6"/><circle cx="550.12" cy="486.83" r="1.6"/><circle cx="550.48" cy="484.84" r="1.6"/><circle cx="550.84" cy="484.95" r="1.6"/><circle cx="551.20" cy="486.59" r="1.6"/><circle cx="551.56" cy="484.39" r="1.6"/><circle cx="551.92" cy="488.38" r="1.6"/><circle cx="552.28" cy="483.93" r="1.6"/><circle cx="552.64" cy="487.92" r="1.6"/><circle cx="553.00" cy="485.06" r="1.6"/><circle cx="553.36" cy="487.06" r="1.6"/><circle cx="553.72" cy="483.22" r="1.6"/><circle cx="554.08" cy="483.00" r="1.6"/><circle cx="554.44" cy="481.04" r="1.6"/><circle cx="554.80" cy="485.12" r="1.6"/><circle cx="555.16" cy="485.70" r="1.6"/><circle cx="555.52" cy="488.38" r="1.6"/><circle cx="555.88" cy="485.92" r="1.6"/><circle cx="556.24" cy="482.90" r="1.6"/><circle cx="556.60" cy="481.32" r="1.6"/><circle cx="556.96" cy="482.43" r="1.6"/><circle cx="557.32" cy="480.91" r="1.6"/><circle cx="557.68" cy="484.28" r="1.6"/><circle cx="558.04" cy="482.44" r="1.6"/><circle cx="558.40" cy="477.33" r="1.6"/><circle cx="558.76" cy="477.18" r="1.6"/><circle cx="559.12" cy="481.95" r="1.6"/><circle cx="559.48" cy="478.66" r="1.6"/><circle cx="559.84" cy="476.70" r="1.6"/><circle cx="560.20" cy="479.83" r="1.6"/><circle cx="560.56" cy="475.16" r="1.6"/><circle cx="560.92" cy="474.89" r="1.6"/><circle cx="561.28" cy="473.84" r="1.6"/><circle cx="561.64" cy="469.25" r="1.6"/><circle cx="562.00" cy="476.18" r="1.6"/><circle cx="562.36" cy="469.98" r="1.6"/><circle cx="562.72" cy="471.04" r="1.6"/><circle cx="563.08" cy="469.90" r="1.6"/><circle cx="563.44" cy="473.25" r="1.6"/><circle cx="563.80" cy="470.39" r="1.6"/><circle cx="564.16" cy="469.95" r="1.6"/><circle cx="564.52" cy="464.56" r="1.6"/><circle cx="564.88" cy="468.31" r="1.6"/><circle cx="565.24" cy="463.75" r="1.6"/><circle cx="565.60" cy="468.11" r="1.6"/><circle cx="565.96" cy="467.65" r="1.6"/><circle cx="566.32" cy="465.95" r="1.6"/><circle cx="566.68" cy="471.27" r="1.6"/><circle cx="567.04" cy="466.36" r="1.6"/><circle cx="567.40" cy="466.04" r="1.6"/><circle cx="567.76" cy="464.23" r="1.6"/><circle cx="568.12" cy="462.78" r="1.6"/><circle cx="568.48" cy="465.72" r="1.6"/><circle cx="568.84" cy="465.65" r="1.6"/><circle cx="569.20" cy="458.05" r="1.6"/><circle cx="569.56" cy="464.57" r="1.6"/><circle cx="569.92" cy="462.47" r="1.6"/><circle cx="570.28" cy="463.34" r="1.6"/><circle cx="570.64" cy="461.38" r="1.6"/><circle cx="571.00" cy="455.72" r="1.6"/><circle cx="571.36" cy="455.48" r="1.6"/><circle cx="571.72" cy="464.24" r="1.6"/><circle cx="572.08" cy="459.02" r="1.6"/><circle cx="572.44" cy="453.48" r="1.6"/><circle cx="572.80" cy="458.62" r="1.6"/><circle cx="573.16" cy="456.11" r="1.6"/><circle cx="573.52" cy="451.20" r="1.6"/><circle cx="573.88" cy="449.56" r="1.6"/><circle cx="574.24" cy="451.56" r="1.6"/><circle cx="574.60" cy="457.40" r="1.6"/><circle cx="574.96" cy="456.35" r="1.6"/><circle cx="575.32" cy="455.71" r="1.6"/><circle cx="575.68" cy="457.43" r="1.6"/><circle cx="576.04" cy="458.47" r="1.6"/><circle cx="576.40" cy="449.80" r="1.6"/><circle cx="576.76" cy="455.63" r="1.6"/><circle cx="577.12" cy="453.98" r="1.6"/><circle cx="577.48" cy="452.72" r="1.6"/><circle cx="577.84" cy="454.99" r="1.6"/><circle cx="578.20" cy="456.42" r="1.6"/><circle cx="578.56" cy="456.02" r="1.6"/><circle cx="578.92" cy="452.23" r="1.6"/><circle cx="579.28" cy="455.46" r="1.6"/><circle cx="579.64" cy="463.67" r="1.6"/><circle cx="580.00" cy="453.75" r="1.6"/><circle cx="580.36" cy="451.76" r="1.6"/><circle cx="580.72" cy="458.26" r="1.6"/><circle cx="581.08" cy="459.39" r="1.6"/><circle cx="581.44" cy="459.05" r="1.6"/><circle cx="581.80" cy="453.94" r="1.6"/><circle cx="582.16" cy="460.98" r="1.6"/><circle cx="582.52" cy="455.20" r="1.6"/><circle cx="582.88" cy="454.13" r="1.6"/><circle cx="583.24" cy="455.94" r="1.6"/><circle cx="583.60" cy="457.66" r="1.6"/><circle cx="583.96" cy="460.46" r="1.6"/><circle cx="584.32" cy="460.23" r="1.6"/><circle cx="584.68" cy="458.16" r="1.6"/><circle cx="585.04" cy="461.39" r="1.6"/><circle cx="585.40" cy="458.62" r="1.6"/><circle cx="585.76" cy="461.38" r="1.6"/><circle cx="586.12" cy="453.76" r="1.6"/><circle cx="586.48" cy="453.22" r="1.6"/><circle cx="586.84" cy="461.10" r="1.6"/><circle cx="587.20" cy="453.88" r="1.6"/><circle cx="587.56" cy="457.54" r="1.6"/><circle cx="587.92" cy="458.25" r="1.6"/><circle cx="588.28" cy="456.96" r="1.6"/><circle cx="588.64" cy="457.10" r="1.6"/><circle cx="589.00" cy="463.34" r="1.6"/><circle cx="589.36" cy="450.14" r="1.6"/><circle cx="589.72" cy="461.68" r="1.6"/><circle cx="590.08" cy="466.47" r="1.6"/><circle cx="590.44" cy="458.81" r="1.6"/><circle cx="590.80" cy="458.69" r="1.6"/><circle cx="591.16" cy="461.24" r="1.6"/><circle cx="591.52" cy="465.01" r="1.6"/><circle cx="591.88" cy="454.77" r="1.6"/><circle cx="592.24" cy="459.13" r="1.6"/><circle cx="592.60" cy="458.21" r="1.6"/><circle cx="592.96" cy="460.78" r="1.6"/><circle cx="593.32" cy="459.43" r="1.6"/><circle cx="593.68" cy="461.16" r="1.6"/><circle cx="594.04" cy="457.47" r="1.6"/><circle cx="594.40" cy="459.09" r="1.6"/><circle cx="594.76" cy="456.63" r="1.6"/><circle cx="595.12" cy="456.66" r="1.6"/><circle cx="595.48" cy="458.47" r="1.6"/><circle cx="595.84" cy="458.48" r="1.6"/><circle cx="596.20" cy="454.93" r="1.6"/><circle cx="596.56" cy="464.41" r="1.6"/><circle cx="596.92" cy="458.52" r="1.6"/><circle cx="597.28" cy="454.20" r="1.6"/><circle cx="597.64" cy="462.82" r="1.6"/><circle cx="598.00" cy="456.40" r="1.6"/><circle cx="598.36" cy="460.77" r="1.6"/><circle cx="598.72" cy="458.94" r="1.6"/><circle cx="599.08" cy="459.85" r="1.6"/><circle cx="599.44" cy="459.54" r="1.6"/><circle cx="599.80" cy="456.89" r="1.6"/><circle cx="600.16" cy="458.99" r="1.6"/><circle cx="600.52" cy="465.98" r="1.6"/><circle cx="600.88" cy="450.71" r="1.6"/><circle cx="601.24" cy="458.86" r="1.6"/><circle cx="601.60" cy="460.11" r="1.6"/><circle cx="601.96" cy="454.58" r="1.6"/><circle cx="602.32" cy="453.28" r="1.6"/><circle cx="602.68" cy="466.27" r="1.6"/><circle cx="603.04" cy="456.73" r="1.6"/><circle cx="603.40" cy="465.87" r="1.6"/><circle cx="603.76" cy="459.94" r="1.6"/><circle cx="604.12" cy="458.07" r="1.6"/><circle cx="604.48" cy="459.50" r="1.6"/><circle cx="604.84" cy="460.02" r="1.6"/><circle cx="605.20" cy="462.07" r="1.6"/><circle cx="605.56" cy="459.05" r="1.6"/><circle cx="605.92" cy="457.79" r="1.6"/><circle cx="606.28" cy="457.82" r="1.6"/><circle cx="606.64" cy="462.49" r="1.6"/><circle cx="607.00" cy="460.25" r="1.6"/><circle cx="607.36" cy="452.71" r="1.6"/><circle cx="607.72" cy="454.12" r="1.6"/><circle cx="608.08" cy="458.06" r="1.6"/><circle cx="608.44" cy="454.01" r="1.6"/><circle cx="608.80" cy="454.98" r="1.6"/><circle cx="609.16" cy="452.46" r="1.6"/><circle cx="609.52" cy="455.39" r="1.6"/><circle cx="609.88" cy="458.33" r="1.6"/><circle cx="610.24" cy="460.83" r="1.6"/><circle cx="610.60" cy="456.55" r="1.6"/><circle cx="610.96" cy="465.69" r="1.6"/><circle cx="611.32" cy="456.22" r="1.6"/><circle cx="611.68" cy="470.89" r="1.6"/><circle cx="612.04" cy="461.17" r="1.6"/><circle cx="612.40" cy="459.00" r="1.6"/><circle cx="612.76" cy="454.41" r="1.6"/><circle cx="613.12" cy="443.18" r="1.6"/><circle cx="613.48" cy="456.15" r="1.6"/><circle cx="613.84" cy="457.90" r="1.6"/><circle cx="614.20" cy="467.01" r="1.6"/><circle cx="614.56" cy="449.92" r="1.6"/><circle cx="614.92" cy="467.54" r="1.6"/><circle cx="615.28" cy="456.03" r="1.6"/><circle cx="615.64" cy="461.57" r="1.6"/><circle cx="616.00" cy="443.16" r="1.6"/><circle cx="616.36" cy="458.57" r="1.6"/><circle cx="616.72" cy="455.86" r="1.6"/><circle cx="449.00" cy="503.30" r="1.6"/><circle cx="449.30" cy="507.30" r="1.6"/><circle cx="459.50" cy="555.50" r="1.6"/><circle cx="460.50" cy="558.50" r="1.6"/><circle cx="459.50" cy="565.00" r="1.6"/><circle cx="617.29" cy="459.13" r="1.6"/><circle cx="617.14" cy="464.22" r="1.6"/><circle cx="625.14" cy="464.52" r="1.6"/><circle cx="615.61" cy="464.69" r="1.6"/><circle cx="624.04" cy="452.47" r="1.6"/><circle cx="615.59" cy="466.18" r="1.6"/><circle cx="615.90" cy="458.78" r="1.6"/><circle cx="618.74" cy="459.21" r="1.6"/><circle cx="622.05" cy="457.99" r="1.6"/><circle cx="615.08" cy="470.91" r="1.6"/><circle cx="616.32" cy="454.66" r="1.6"/><circle cx="626.98" cy="457.14" r="1.6"/><circle cx="627.57" cy="466.22" r="1.6"/><circle cx="622.37" cy="460.42" r="1.6"/><circle cx="618.45" cy="452.29" r="1.6"/><circle cx="624.90" cy="463.11" r="1.6"/><circle cx="619.83" cy="454.81" r="1.6"/><circle cx="622.44" cy="465.43" r="1.6"/><circle cx="616.30" cy="449.96" r="1.6"/><circle cx="615.64" cy="458.70" r="1.6"/><circle cx="624.80" cy="460.27" r="1.6"/><circle cx="625.16" cy="466.91" r="1.6"/><circle cx="618.98" cy="459.25" r="1.6"/><circle cx="622.49" cy="463.45" r="1.6"/><circle cx="627.45" cy="462.00" r="1.6"/><circle cx="614.64" cy="455.85" r="1.6"/><circle cx="625.18" cy="454.95" r="1.6"/><circle cx="621.06" cy="462.40" r="1.6"/><circle cx="621.90" cy="460.31" r="1.6"/><circle cx="623.57" cy="468.41" r="1.6"/><circle cx="625.20" cy="432.30" r="1.6"/><circle cx="633.40" cy="441.20" r="1.6"/><circle cx="639.20" cy="440.50" r="1.6"/><circle cx="632.70" cy="445.10" r="1.6"/><circle cx="617.80" cy="444.00" r="1.6"/><circle cx="622.90" cy="447.40" r="1.6"/><circle cx="627.60" cy="453.30" r="1.6"/><circle cx="629.90" cy="454.40" r="1.6"/><circle cx="638.70" cy="452.80" r="1.6"/><circle cx="634.10" cy="459.10" r="1.6"/><circle cx="640.30" cy="460.20" r="1.6"/><circle cx="635.70" cy="462.60" r="1.6"/><circle cx="638.00" cy="465.30" r="1.6"/><circle cx="629.90" cy="468.40" r="1.6"/><circle cx="626.40" cy="469.50" r="1.6"/><circle cx="639.20" cy="470.70" r="1.6"/><circle cx="640.30" cy="473.00" r="1.6"/><circle cx="624.10" cy="473.00" r="1.6"/><circle cx="628.70" cy="476.50" r="1.6"/><circle cx="630.30" cy="477.70" r="1.6"/><circle cx="635.70" cy="478.80" r="1.6"/><circle cx="637.30" cy="480.00" r="1.6"/><circle cx="620.60" cy="484.00" r="1.6"/><circle cx="624.10" cy="488.10" r="1.6"/><circle cx="627.10" cy="494.70" r="1.6"/><circle cx="635.00" cy="497.40" r="1.6"/><circle cx="638.70" cy="497.40" r="1.6"/><circle cx="628.00" cy="501.60" r="1.6"/><circle cx="635.00" cy="505.60" r="1.6"/><circle cx="638.00" cy="506.30" r="1.6"/><circle cx="637.30" cy="509.80" r="1.6"/><circle cx="640.30" cy="516.00" r="1.6"/><circle cx="635.70" cy="519.50" r="1.6"/><circle cx="631.00" cy="523.00" r="1.6"/><circle cx="641.50" cy="527.70" r="1.6"/><circle cx="624.80" cy="544.40" r="1.6"/><circle cx="635.00" cy="559.80" r="1.6"/><circle cx="631.00" cy="566.70" r="1.6"/></g>
<text x="346.20" y="432.30" font-size="18" text-anchor="start" font-weight="bold">f</text>
<text x="379.00" y="572.00" font-size="12" text-anchor="end">0</text>
<text x="379.00" y="544.72" font-size="12" text-anchor="end">5</text>
<text x="379.00" y="517.44" font-size="12" text-anchor="end">10</text>
<text x="379.00" y="490.16" font-size="12" text-anchor="end">15</text>
<text x="379.00" y="462.88" font-size="12" text-anchor="end">20</text>
<text x="379.00" y="435.60" font-size="12" text-anchor="end">25</text>
<text x="648.60" y="572.00" font-size="12" text-anchor="start">0</text>
<text x="648.60" y="535.63" font-size="12" text-anchor="start">20</text>
<text x="648.60" y="499.25" font-size="12" text-anchor="start">40</text>
<text x="648.60" y="462.88" font-size="12" text-anchor="start">60</text>
<text x="394.50" y="581.10" font-size="12" text-anchor="middle">850</text>
<text x="450.97" y="581.10" font-size="12" text-anchor="middle">900</text>
<text x="507.45" y="581.10" font-size="12" text-anchor="middle">950</text>
<text x="563.93" y="581.10" font-size="12" text-anchor="middle">1000</text>
<text x="620.41" y="581.10" font-size="12" text-anchor="middle">1050</text>
<text x="513.00" y="598.30" font-size="12" text-anchor="middle" textLength="94.55" lengthAdjust="spacingAndGlyphs">Wavelength (nm)</text>
<g transform="translate(352.3,501.3) rotate(-90)"><text x="0" y="0" font-size="12" text-anchor="middle"><tspan font-style="italic">P</tspan><tspan font-size="8.5" dy="3">PL</tspan><tspan dy="-3"> (%)</tspan></text></g>
<g transform="translate(681.6,502.0) rotate(-90)"><text x="0" y="0" font-size="12" text-anchor="middle">−<tspan font-style="italic">P</tspan><tspan font-size="8.5" dy="3">e</tspan><tspan dy="-3"> (%)</tspan></text></g>
</svg>
</body></html>
